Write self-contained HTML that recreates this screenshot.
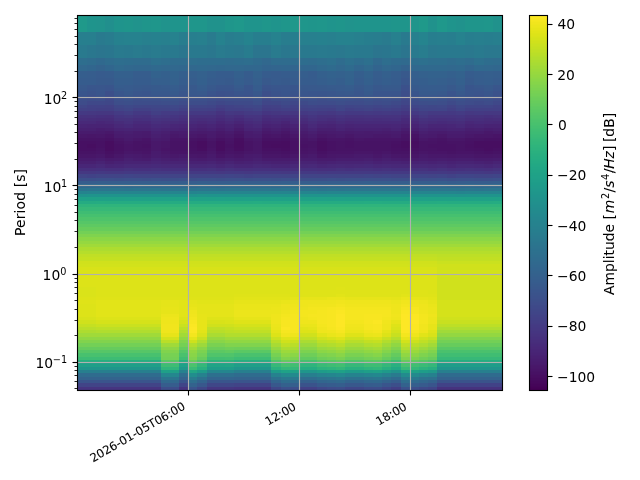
<!DOCTYPE html>
<html lang="en"><head><meta charset="utf-8"><title>PPSD spectrogram</title>
<style>html,body{margin:0;padding:0;background:#fff;overflow:hidden}svg{display:block}text{font-family:"DejaVu Sans","Liberation Sans",sans-serif;fill:#000}</style></head><body>
<svg width="640" height="480" viewBox="0 0 640 480">
<rect width="640" height="480" fill="#fff"/>
<g shape-rendering="crispEdges">
<rect x="77" y="15" width="426" height="376" fill="#cccccc"/>
<g id="mesh">
<rect x="77" y="387" width="84" height="3" fill="#463480"/>
<rect x="161" y="387" width="18" height="3" fill="#3d4d8a"/>
<rect x="179" y="387" width="9" height="3" fill="#463480"/>
<rect x="188" y="387" width="9" height="3" fill="#3a548c"/>
<rect x="197" y="387" width="10" height="3" fill="#3f4788"/>
<rect x="207" y="387" width="27" height="3" fill="#453781"/>
<rect x="234" y="387" width="37" height="3" fill="#463480"/>
<rect x="271" y="387" width="10" height="3" fill="#3f4788"/>
<rect x="281" y="387" width="9" height="3" fill="#3c508b"/>
<rect x="290" y="387" width="9" height="3" fill="#3d4e8a"/>
<rect x="299" y="387" width="18" height="3" fill="#424186"/>
<rect x="317" y="387" width="10" height="3" fill="#3f4889"/>
<rect x="327" y="387" width="9" height="3" fill="#3e4c8a"/>
<rect x="336" y="387" width="9" height="3" fill="#3d4e8a"/>
<rect x="345" y="387" width="19" height="3" fill="#3f4788"/>
<rect x="364" y="387" width="9" height="3" fill="#3e4c8a"/>
<rect x="373" y="387" width="9" height="3" fill="#3d4d8a"/>
<rect x="382" y="387" width="9" height="3" fill="#404688"/>
<rect x="391" y="387" width="10" height="3" fill="#423f85"/>
<rect x="401" y="387" width="9" height="3" fill="#3b518b"/>
<rect x="410" y="387" width="9" height="3" fill="#3d4e8a"/>
<rect x="419" y="387" width="9" height="3" fill="#3e4989"/>
<rect x="428" y="387" width="9" height="3" fill="#404588"/>
<rect x="437" y="387" width="65" height="3" fill="#46327e"/>
<rect x="77" y="383" width="84" height="4" fill="#414487"/>
<rect x="161" y="383" width="18" height="4" fill="#365d8d"/>
<rect x="179" y="383" width="9" height="4" fill="#404588"/>
<rect x="188" y="383" width="9" height="4" fill="#33638d"/>
<rect x="197" y="383" width="10" height="4" fill="#38588c"/>
<rect x="207" y="383" width="27" height="4" fill="#3f4788"/>
<rect x="234" y="383" width="37" height="4" fill="#414487"/>
<rect x="271" y="383" width="10" height="4" fill="#38588c"/>
<rect x="281" y="383" width="9" height="4" fill="#34618d"/>
<rect x="290" y="383" width="9" height="4" fill="#355f8d"/>
<rect x="299" y="383" width="18" height="4" fill="#3a538b"/>
<rect x="317" y="383" width="10" height="4" fill="#375a8c"/>
<rect x="327" y="383" width="9" height="4" fill="#365c8d"/>
<rect x="336" y="383" width="9" height="4" fill="#355e8d"/>
<rect x="345" y="383" width="19" height="4" fill="#38588c"/>
<rect x="364" y="383" width="9" height="4" fill="#365c8d"/>
<rect x="373" y="383" width="9" height="4" fill="#365d8d"/>
<rect x="382" y="383" width="9" height="4" fill="#39558c"/>
<rect x="391" y="383" width="10" height="4" fill="#3c4f8a"/>
<rect x="401" y="383" width="9" height="4" fill="#33628d"/>
<rect x="410" y="383" width="9" height="4" fill="#355f8d"/>
<rect x="419" y="383" width="9" height="4" fill="#375b8d"/>
<rect x="428" y="383" width="9" height="4" fill="#39558c"/>
<rect x="437" y="383" width="65" height="4" fill="#414287"/>
<rect x="77" y="380" width="84" height="3" fill="#3a548c"/>
<rect x="161" y="380" width="18" height="3" fill="#30698e"/>
<rect x="179" y="380" width="9" height="3" fill="#39558c"/>
<rect x="188" y="380" width="9" height="3" fill="#2e6f8e"/>
<rect x="197" y="380" width="10" height="3" fill="#32648e"/>
<rect x="207" y="380" width="27" height="3" fill="#39558c"/>
<rect x="234" y="380" width="37" height="3" fill="#3a548c"/>
<rect x="271" y="380" width="10" height="3" fill="#32648e"/>
<rect x="281" y="380" width="9" height="3" fill="#2e6d8e"/>
<rect x="290" y="380" width="9" height="3" fill="#2f6b8e"/>
<rect x="299" y="380" width="18" height="3" fill="#34608d"/>
<rect x="317" y="380" width="10" height="3" fill="#31668e"/>
<rect x="327" y="380" width="9" height="3" fill="#31688e"/>
<rect x="336" y="380" width="9" height="3" fill="#306a8e"/>
<rect x="345" y="380" width="19" height="3" fill="#32648e"/>
<rect x="364" y="380" width="9" height="3" fill="#31688e"/>
<rect x="373" y="380" width="9" height="3" fill="#30698e"/>
<rect x="382" y="380" width="9" height="3" fill="#33638d"/>
<rect x="391" y="380" width="10" height="3" fill="#365d8d"/>
<rect x="401" y="380" width="9" height="3" fill="#2e6e8e"/>
<rect x="410" y="380" width="9" height="3" fill="#2f6b8e"/>
<rect x="419" y="380" width="9" height="3" fill="#31678e"/>
<rect x="428" y="380" width="9" height="3" fill="#33628d"/>
<rect x="437" y="380" width="65" height="3" fill="#3a538b"/>
<rect x="77" y="377" width="84" height="3" fill="#33638d"/>
<rect x="161" y="377" width="18" height="3" fill="#2a768e"/>
<rect x="179" y="377" width="9" height="3" fill="#33638d"/>
<rect x="188" y="377" width="9" height="3" fill="#287d8e"/>
<rect x="197" y="377" width="10" height="3" fill="#2c728e"/>
<rect x="207" y="377" width="27" height="3" fill="#32658e"/>
<rect x="234" y="377" width="37" height="3" fill="#33638d"/>
<rect x="271" y="377" width="10" height="3" fill="#2c728e"/>
<rect x="281" y="377" width="9" height="3" fill="#29798e"/>
<rect x="290" y="377" width="9" height="3" fill="#29798e"/>
<rect x="299" y="377" width="18" height="3" fill="#2e6e8e"/>
<rect x="317" y="377" width="10" height="3" fill="#2c738e"/>
<rect x="327" y="377" width="9" height="3" fill="#2b758e"/>
<rect x="336" y="377" width="9" height="3" fill="#2a788e"/>
<rect x="345" y="377" width="19" height="3" fill="#2c728e"/>
<rect x="364" y="377" width="9" height="3" fill="#2b758e"/>
<rect x="373" y="377" width="9" height="3" fill="#2a778e"/>
<rect x="382" y="377" width="9" height="3" fill="#2d718e"/>
<rect x="391" y="377" width="10" height="3" fill="#2f6b8e"/>
<rect x="401" y="377" width="9" height="3" fill="#297b8e"/>
<rect x="410" y="377" width="9" height="3" fill="#29798e"/>
<rect x="419" y="377" width="9" height="3" fill="#2c738e"/>
<rect x="428" y="377" width="9" height="3" fill="#2d718e"/>
<rect x="437" y="377" width="65" height="3" fill="#33628d"/>
<rect x="77" y="373" width="84" height="4" fill="#2f6c8e"/>
<rect x="161" y="373" width="18" height="4" fill="#24878e"/>
<rect x="179" y="373" width="9" height="4" fill="#2e6e8e"/>
<rect x="188" y="373" width="9" height="4" fill="#218e8d"/>
<rect x="197" y="373" width="10" height="4" fill="#26828e"/>
<rect x="207" y="373" width="27" height="4" fill="#2d708e"/>
<rect x="234" y="373" width="37" height="4" fill="#2f6c8e"/>
<rect x="271" y="373" width="10" height="4" fill="#26828e"/>
<rect x="281" y="373" width="9" height="4" fill="#238a8d"/>
<rect x="290" y="373" width="9" height="4" fill="#238a8d"/>
<rect x="299" y="373" width="18" height="4" fill="#277f8e"/>
<rect x="317" y="373" width="10" height="4" fill="#25848e"/>
<rect x="327" y="373" width="9" height="4" fill="#24868e"/>
<rect x="336" y="373" width="9" height="4" fill="#23898e"/>
<rect x="345" y="373" width="19" height="4" fill="#25838e"/>
<rect x="364" y="373" width="9" height="4" fill="#24868e"/>
<rect x="373" y="373" width="9" height="4" fill="#23888e"/>
<rect x="382" y="373" width="9" height="4" fill="#26828e"/>
<rect x="391" y="373" width="10" height="4" fill="#297b8e"/>
<rect x="401" y="373" width="9" height="4" fill="#228c8d"/>
<rect x="410" y="373" width="9" height="4" fill="#238a8d"/>
<rect x="419" y="373" width="9" height="4" fill="#25848e"/>
<rect x="428" y="373" width="9" height="4" fill="#26818e"/>
<rect x="437" y="373" width="65" height="4" fill="#2f6b8e"/>
<rect x="77" y="370" width="84" height="3" fill="#277f8e"/>
<rect x="161" y="370" width="18" height="3" fill="#1fa088"/>
<rect x="179" y="370" width="9" height="3" fill="#26828e"/>
<rect x="188" y="370" width="9" height="3" fill="#21a685"/>
<rect x="197" y="370" width="10" height="3" fill="#1e9b8a"/>
<rect x="207" y="370" width="27" height="3" fill="#24868e"/>
<rect x="234" y="370" width="37" height="3" fill="#277f8e"/>
<rect x="271" y="370" width="10" height="3" fill="#1e9b8a"/>
<rect x="281" y="370" width="9" height="3" fill="#1fa287"/>
<rect x="290" y="370" width="9" height="3" fill="#1fa187"/>
<rect x="299" y="370" width="18" height="3" fill="#1f968b"/>
<rect x="317" y="370" width="10" height="3" fill="#1e9c89"/>
<rect x="327" y="370" width="9" height="3" fill="#1f9f88"/>
<rect x="336" y="370" width="9" height="3" fill="#1fa187"/>
<rect x="345" y="370" width="19" height="3" fill="#1e9b8a"/>
<rect x="364" y="370" width="9" height="3" fill="#1f9f88"/>
<rect x="373" y="370" width="9" height="3" fill="#1fa188"/>
<rect x="382" y="370" width="9" height="3" fill="#1f9a8a"/>
<rect x="391" y="370" width="10" height="3" fill="#20928c"/>
<rect x="401" y="370" width="9" height="3" fill="#20a486"/>
<rect x="410" y="370" width="9" height="3" fill="#1fa187"/>
<rect x="419" y="370" width="9" height="3" fill="#1e9d89"/>
<rect x="428" y="370" width="9" height="3" fill="#1f998a"/>
<rect x="437" y="370" width="65" height="3" fill="#277f8e"/>
<rect x="77" y="367" width="84" height="3" fill="#1f958b"/>
<rect x="161" y="367" width="18" height="3" fill="#31b57b"/>
<rect x="179" y="367" width="9" height="3" fill="#1f978b"/>
<rect x="188" y="367" width="9" height="3" fill="#3bbb75"/>
<rect x="197" y="367" width="10" height="3" fill="#2ab07f"/>
<rect x="207" y="367" width="27" height="3" fill="#1e9c89"/>
<rect x="234" y="367" width="37" height="3" fill="#1f958b"/>
<rect x="271" y="367" width="10" height="3" fill="#2ab07f"/>
<rect x="281" y="367" width="9" height="3" fill="#35b779"/>
<rect x="290" y="367" width="9" height="3" fill="#35b779"/>
<rect x="299" y="367" width="18" height="3" fill="#25ac82"/>
<rect x="317" y="367" width="10" height="3" fill="#2db27d"/>
<rect x="327" y="367" width="9" height="3" fill="#2fb47c"/>
<rect x="336" y="367" width="9" height="3" fill="#34b679"/>
<rect x="345" y="367" width="19" height="3" fill="#2ab07f"/>
<rect x="364" y="367" width="9" height="3" fill="#2fb47c"/>
<rect x="373" y="367" width="9" height="3" fill="#32b67a"/>
<rect x="382" y="367" width="9" height="3" fill="#29af7f"/>
<rect x="391" y="367" width="10" height="3" fill="#22a884"/>
<rect x="401" y="367" width="9" height="3" fill="#38b977"/>
<rect x="410" y="367" width="9" height="3" fill="#35b779"/>
<rect x="419" y="367" width="9" height="3" fill="#2db27d"/>
<rect x="428" y="367" width="9" height="3" fill="#28ae80"/>
<rect x="437" y="367" width="65" height="3" fill="#1f948c"/>
<rect x="77" y="363" width="84" height="4" fill="#1f9f88"/>
<rect x="161" y="363" width="18" height="4" fill="#3fbc73"/>
<rect x="179" y="363" width="9" height="4" fill="#1fa188"/>
<rect x="188" y="363" width="9" height="4" fill="#4cc26c"/>
<rect x="197" y="363" width="10" height="4" fill="#35b779"/>
<rect x="207" y="363" width="18" height="4" fill="#20a486"/>
<rect x="225" y="363" width="9" height="4" fill="#21a585"/>
<rect x="234" y="363" width="37" height="4" fill="#1f9f88"/>
<rect x="271" y="363" width="10" height="4" fill="#37b878"/>
<rect x="281" y="363" width="9" height="4" fill="#46c06f"/>
<rect x="290" y="363" width="9" height="4" fill="#42be71"/>
<rect x="299" y="363" width="18" height="4" fill="#2fb47c"/>
<rect x="317" y="363" width="10" height="4" fill="#3aba76"/>
<rect x="327" y="363" width="9" height="4" fill="#3fbc73"/>
<rect x="336" y="363" width="9" height="4" fill="#42be71"/>
<rect x="345" y="363" width="19" height="4" fill="#37b878"/>
<rect x="364" y="363" width="9" height="4" fill="#3fbc73"/>
<rect x="373" y="363" width="9" height="4" fill="#3fbc73"/>
<rect x="382" y="363" width="9" height="4" fill="#35b779"/>
<rect x="391" y="363" width="10" height="4" fill="#2ab07f"/>
<rect x="401" y="363" width="9" height="4" fill="#48c16e"/>
<rect x="410" y="363" width="9" height="4" fill="#42be71"/>
<rect x="419" y="363" width="9" height="4" fill="#3bbb75"/>
<rect x="428" y="363" width="9" height="4" fill="#35b779"/>
<rect x="437" y="363" width="65" height="4" fill="#1e9d89"/>
<rect x="77" y="360" width="84" height="3" fill="#28ae80"/>
<rect x="161" y="360" width="18" height="3" fill="#58c765"/>
<rect x="179" y="360" width="9" height="3" fill="#2ab07f"/>
<rect x="188" y="360" width="9" height="3" fill="#67cc5c"/>
<rect x="197" y="360" width="10" height="3" fill="#4ec36b"/>
<rect x="207" y="360" width="27" height="3" fill="#2eb37c"/>
<rect x="234" y="360" width="37" height="3" fill="#28ae80"/>
<rect x="271" y="360" width="10" height="3" fill="#50c46a"/>
<rect x="281" y="360" width="9" height="3" fill="#63cb5f"/>
<rect x="290" y="360" width="9" height="3" fill="#60ca60"/>
<rect x="299" y="360" width="18" height="3" fill="#46c06f"/>
<rect x="317" y="360" width="10" height="3" fill="#54c568"/>
<rect x="327" y="360" width="9" height="3" fill="#58c765"/>
<rect x="336" y="360" width="9" height="3" fill="#5ec962"/>
<rect x="345" y="360" width="19" height="3" fill="#50c46a"/>
<rect x="364" y="360" width="9" height="3" fill="#58c765"/>
<rect x="373" y="360" width="9" height="3" fill="#5ac864"/>
<rect x="382" y="360" width="9" height="3" fill="#4cc26c"/>
<rect x="391" y="360" width="10" height="3" fill="#3fbc73"/>
<rect x="401" y="360" width="9" height="3" fill="#65cb5e"/>
<rect x="410" y="360" width="9" height="3" fill="#60ca60"/>
<rect x="419" y="360" width="9" height="3" fill="#56c667"/>
<rect x="428" y="360" width="9" height="3" fill="#4cc26c"/>
<rect x="437" y="360" width="65" height="3" fill="#26ad81"/>
<rect x="77" y="357" width="84" height="3" fill="#3dbc74"/>
<rect x="161" y="357" width="18" height="3" fill="#73d056"/>
<rect x="179" y="357" width="9" height="3" fill="#3fbc73"/>
<rect x="188" y="357" width="9" height="3" fill="#81d34d"/>
<rect x="197" y="357" width="10" height="3" fill="#67cc5c"/>
<rect x="207" y="357" width="18" height="3" fill="#42be71"/>
<rect x="225" y="357" width="9" height="3" fill="#44bf70"/>
<rect x="234" y="357" width="37" height="3" fill="#3dbc74"/>
<rect x="271" y="357" width="10" height="3" fill="#69cd5b"/>
<rect x="281" y="357" width="9" height="3" fill="#81d34d"/>
<rect x="290" y="357" width="9" height="3" fill="#7cd250"/>
<rect x="299" y="357" width="18" height="3" fill="#60ca60"/>
<rect x="317" y="357" width="10" height="3" fill="#6ece58"/>
<rect x="327" y="357" width="9" height="3" fill="#73d056"/>
<rect x="336" y="357" width="9" height="3" fill="#7ad151"/>
<rect x="345" y="357" width="19" height="3" fill="#6ccd5a"/>
<rect x="364" y="357" width="9" height="3" fill="#73d056"/>
<rect x="373" y="357" width="9" height="3" fill="#77d153"/>
<rect x="382" y="357" width="9" height="3" fill="#67cc5c"/>
<rect x="391" y="357" width="10" height="3" fill="#58c765"/>
<rect x="401" y="357" width="9" height="3" fill="#81d34d"/>
<rect x="410" y="357" width="9" height="3" fill="#7cd250"/>
<rect x="419" y="357" width="9" height="3" fill="#70cf57"/>
<rect x="428" y="357" width="9" height="3" fill="#67cc5c"/>
<rect x="437" y="357" width="65" height="3" fill="#37b878"/>
<rect x="77" y="353" width="84" height="4" fill="#48c16e"/>
<rect x="161" y="353" width="18" height="4" fill="#77d153"/>
<rect x="179" y="353" width="9" height="4" fill="#4ac16d"/>
<rect x="188" y="353" width="9" height="4" fill="#89d548"/>
<rect x="197" y="353" width="10" height="4" fill="#73d056"/>
<rect x="207" y="353" width="27" height="4" fill="#50c46a"/>
<rect x="234" y="353" width="37" height="4" fill="#4ac16d"/>
<rect x="271" y="353" width="10" height="4" fill="#77d153"/>
<rect x="281" y="353" width="9" height="4" fill="#90d743"/>
<rect x="290" y="353" width="9" height="4" fill="#8bd646"/>
<rect x="299" y="353" width="18" height="4" fill="#6ece58"/>
<rect x="317" y="353" width="10" height="4" fill="#7cd250"/>
<rect x="327" y="353" width="9" height="4" fill="#81d34d"/>
<rect x="336" y="353" width="9" height="4" fill="#89d548"/>
<rect x="345" y="353" width="19" height="4" fill="#7ad151"/>
<rect x="364" y="353" width="9" height="4" fill="#81d34d"/>
<rect x="373" y="353" width="9" height="4" fill="#86d549"/>
<rect x="382" y="353" width="9" height="4" fill="#75d054"/>
<rect x="391" y="353" width="10" height="4" fill="#65cb5e"/>
<rect x="401" y="353" width="9" height="4" fill="#90d743"/>
<rect x="410" y="353" width="9" height="4" fill="#8bd646"/>
<rect x="419" y="353" width="9" height="4" fill="#7fd34e"/>
<rect x="428" y="353" width="9" height="4" fill="#75d054"/>
<rect x="437" y="353" width="65" height="4" fill="#40bd72"/>
<rect x="77" y="350" width="84" height="3" fill="#56c667"/>
<rect x="161" y="350" width="18" height="3" fill="#81d34d"/>
<rect x="179" y="350" width="9" height="3" fill="#56c667"/>
<rect x="188" y="350" width="9" height="3" fill="#90d743"/>
<rect x="197" y="350" width="10" height="3" fill="#7cd250"/>
<rect x="207" y="350" width="18" height="3" fill="#5cc863"/>
<rect x="225" y="350" width="9" height="3" fill="#60ca60"/>
<rect x="234" y="350" width="37" height="3" fill="#5ac864"/>
<rect x="271" y="350" width="10" height="3" fill="#86d549"/>
<rect x="281" y="350" width="9" height="3" fill="#9dd93b"/>
<rect x="290" y="350" width="9" height="3" fill="#9bd93c"/>
<rect x="299" y="350" width="18" height="3" fill="#7cd250"/>
<rect x="317" y="350" width="10" height="3" fill="#8bd646"/>
<rect x="327" y="350" width="9" height="3" fill="#90d743"/>
<rect x="336" y="350" width="9" height="3" fill="#98d83e"/>
<rect x="345" y="350" width="19" height="3" fill="#89d548"/>
<rect x="364" y="350" width="9" height="3" fill="#90d743"/>
<rect x="373" y="350" width="9" height="3" fill="#95d840"/>
<rect x="382" y="350" width="9" height="3" fill="#84d44b"/>
<rect x="391" y="350" width="10" height="3" fill="#73d056"/>
<rect x="401" y="350" width="9" height="3" fill="#a0da39"/>
<rect x="410" y="350" width="9" height="3" fill="#9bd93c"/>
<rect x="419" y="350" width="9" height="3" fill="#8ed645"/>
<rect x="428" y="350" width="9" height="3" fill="#81d34d"/>
<rect x="437" y="350" width="65" height="3" fill="#4ac16d"/>
<rect x="77" y="347" width="84" height="3" fill="#65cb5e"/>
<rect x="161" y="347" width="18" height="3" fill="#8ed645"/>
<rect x="179" y="347" width="9" height="3" fill="#65cb5e"/>
<rect x="188" y="347" width="9" height="3" fill="#a0da39"/>
<rect x="197" y="347" width="10" height="3" fill="#89d548"/>
<rect x="207" y="347" width="18" height="3" fill="#6ccd5a"/>
<rect x="225" y="347" width="9" height="3" fill="#70cf57"/>
<rect x="234" y="347" width="37" height="3" fill="#6ece58"/>
<rect x="271" y="347" width="10" height="3" fill="#95d840"/>
<rect x="281" y="347" width="9" height="3" fill="#addc30"/>
<rect x="290" y="347" width="9" height="3" fill="#aadc32"/>
<rect x="299" y="347" width="18" height="3" fill="#8bd646"/>
<rect x="317" y="347" width="10" height="3" fill="#9bd93c"/>
<rect x="327" y="347" width="9" height="3" fill="#a0da39"/>
<rect x="336" y="347" width="9" height="3" fill="#a8db34"/>
<rect x="345" y="347" width="19" height="3" fill="#98d83e"/>
<rect x="364" y="347" width="9" height="3" fill="#a0da39"/>
<rect x="373" y="347" width="9" height="3" fill="#a5db36"/>
<rect x="382" y="347" width="9" height="3" fill="#93d741"/>
<rect x="391" y="347" width="10" height="3" fill="#81d34d"/>
<rect x="401" y="347" width="9" height="3" fill="#b0dd2f"/>
<rect x="410" y="347" width="9" height="3" fill="#aadc32"/>
<rect x="419" y="347" width="9" height="3" fill="#9dd93b"/>
<rect x="428" y="347" width="9" height="3" fill="#90d743"/>
<rect x="437" y="347" width="65" height="3" fill="#58c765"/>
<rect x="77" y="343" width="84" height="4" fill="#73d056"/>
<rect x="161" y="343" width="18" height="4" fill="#a0da39"/>
<rect x="179" y="343" width="9" height="4" fill="#75d054"/>
<rect x="188" y="343" width="9" height="4" fill="#b2dd2d"/>
<rect x="197" y="343" width="10" height="4" fill="#9dd93b"/>
<rect x="207" y="343" width="18" height="4" fill="#7ad151"/>
<rect x="225" y="343" width="46" height="4" fill="#81d34d"/>
<rect x="271" y="343" width="10" height="4" fill="#a8db34"/>
<rect x="281" y="343" width="9" height="4" fill="#c0df25"/>
<rect x="290" y="343" width="9" height="4" fill="#bade28"/>
<rect x="299" y="343" width="18" height="4" fill="#9bd93c"/>
<rect x="317" y="343" width="10" height="4" fill="#addc30"/>
<rect x="327" y="343" width="9" height="4" fill="#b2dd2d"/>
<rect x="336" y="343" width="9" height="4" fill="#bade28"/>
<rect x="345" y="343" width="19" height="4" fill="#a8db34"/>
<rect x="364" y="343" width="9" height="4" fill="#b2dd2d"/>
<rect x="373" y="343" width="9" height="4" fill="#b5de2b"/>
<rect x="382" y="343" width="9" height="4" fill="#a2da37"/>
<rect x="391" y="343" width="10" height="4" fill="#90d743"/>
<rect x="401" y="343" width="9" height="4" fill="#c0df25"/>
<rect x="410" y="343" width="9" height="4" fill="#bade28"/>
<rect x="419" y="343" width="9" height="4" fill="#b0dd2f"/>
<rect x="428" y="343" width="9" height="4" fill="#a2da37"/>
<rect x="437" y="343" width="65" height="4" fill="#67cc5c"/>
<rect x="77" y="340" width="84" height="3" fill="#81d34d"/>
<rect x="161" y="340" width="18" height="3" fill="#bade28"/>
<rect x="179" y="340" width="9" height="3" fill="#81d34d"/>
<rect x="188" y="340" width="9" height="3" fill="#cde11d"/>
<rect x="197" y="340" width="10" height="3" fill="#b0dd2f"/>
<rect x="207" y="340" width="18" height="3" fill="#89d548"/>
<rect x="225" y="340" width="46" height="3" fill="#90d743"/>
<rect x="271" y="340" width="10" height="3" fill="#b8de29"/>
<rect x="281" y="340" width="9" height="3" fill="#d0e11c"/>
<rect x="290" y="340" width="9" height="3" fill="#cae11f"/>
<rect x="299" y="340" width="18" height="3" fill="#aadc32"/>
<rect x="317" y="340" width="10" height="3" fill="#bddf26"/>
<rect x="327" y="340" width="9" height="3" fill="#c2df23"/>
<rect x="336" y="340" width="9" height="3" fill="#cae11f"/>
<rect x="345" y="340" width="19" height="3" fill="#b8de29"/>
<rect x="364" y="340" width="9" height="3" fill="#c2df23"/>
<rect x="373" y="340" width="9" height="3" fill="#c5e021"/>
<rect x="382" y="340" width="9" height="3" fill="#b2dd2d"/>
<rect x="391" y="340" width="10" height="3" fill="#a0da39"/>
<rect x="401" y="340" width="9" height="3" fill="#d2e21b"/>
<rect x="410" y="340" width="9" height="3" fill="#cde11d"/>
<rect x="419" y="340" width="9" height="3" fill="#c0df25"/>
<rect x="428" y="340" width="9" height="3" fill="#b2dd2d"/>
<rect x="437" y="340" width="65" height="3" fill="#73d056"/>
<rect x="77" y="337" width="84" height="3" fill="#90d743"/>
<rect x="161" y="337" width="18" height="3" fill="#d2e21b"/>
<rect x="179" y="337" width="9" height="3" fill="#90d743"/>
<rect x="188" y="337" width="9" height="3" fill="#e5e419"/>
<rect x="197" y="337" width="10" height="3" fill="#c8e020"/>
<rect x="207" y="337" width="18" height="3" fill="#98d83e"/>
<rect x="225" y="337" width="46" height="3" fill="#a0da39"/>
<rect x="271" y="337" width="10" height="3" fill="#cae11f"/>
<rect x="281" y="337" width="9" height="3" fill="#dfe318"/>
<rect x="290" y="337" width="9" height="3" fill="#dfe318"/>
<rect x="299" y="337" width="18" height="3" fill="#c0df25"/>
<rect x="317" y="337" width="10" height="3" fill="#d0e11c"/>
<rect x="327" y="337" width="9" height="3" fill="#d8e219"/>
<rect x="336" y="337" width="9" height="3" fill="#dfe318"/>
<rect x="345" y="337" width="19" height="3" fill="#cde11d"/>
<rect x="364" y="337" width="9" height="3" fill="#d8e219"/>
<rect x="373" y="337" width="9" height="3" fill="#dae319"/>
<rect x="382" y="337" width="9" height="3" fill="#c8e020"/>
<rect x="391" y="337" width="10" height="3" fill="#b5de2b"/>
<rect x="401" y="337" width="9" height="3" fill="#e7e419"/>
<rect x="410" y="337" width="9" height="3" fill="#dfe318"/>
<rect x="419" y="337" width="9" height="3" fill="#d0e11c"/>
<rect x="428" y="337" width="9" height="3" fill="#c5e021"/>
<rect x="437" y="337" width="65" height="3" fill="#81d34d"/>
<rect x="77" y="333" width="19" height="4" fill="#a0da39"/>
<rect x="96" y="333" width="65" height="4" fill="#a0da39"/>
<rect x="161" y="333" width="18" height="4" fill="#e7e419"/>
<rect x="179" y="333" width="9" height="4" fill="#a2da37"/>
<rect x="188" y="333" width="9" height="4" fill="#f4e61e"/>
<rect x="197" y="333" width="10" height="4" fill="#dae319"/>
<rect x="207" y="333" width="18" height="4" fill="#aadc32"/>
<rect x="225" y="333" width="46" height="4" fill="#b2dd2d"/>
<rect x="271" y="333" width="10" height="4" fill="#dde318"/>
<rect x="281" y="333" width="9" height="4" fill="#f1e51d"/>
<rect x="290" y="333" width="9" height="4" fill="#efe51c"/>
<rect x="299" y="333" width="18" height="4" fill="#d0e11c"/>
<rect x="317" y="333" width="10" height="4" fill="#e2e418"/>
<rect x="327" y="333" width="9" height="4" fill="#eae51a"/>
<rect x="336" y="333" width="9" height="4" fill="#efe51c"/>
<rect x="345" y="333" width="19" height="4" fill="#dfe318"/>
<rect x="364" y="333" width="9" height="4" fill="#eae51a"/>
<rect x="373" y="333" width="9" height="4" fill="#ece51b"/>
<rect x="382" y="333" width="9" height="4" fill="#dde318"/>
<rect x="391" y="333" width="10" height="4" fill="#c8e020"/>
<rect x="401" y="333" width="9" height="4" fill="#f4e61e"/>
<rect x="410" y="333" width="9" height="4" fill="#efe51c"/>
<rect x="419" y="333" width="9" height="4" fill="#e2e418"/>
<rect x="428" y="333" width="9" height="4" fill="#d8e219"/>
<rect x="437" y="333" width="65" height="4" fill="#93d741"/>
<rect x="77" y="330" width="19" height="3" fill="#addc30"/>
<rect x="96" y="330" width="65" height="3" fill="#b0dd2f"/>
<rect x="161" y="330" width="18" height="3" fill="#efe51c"/>
<rect x="179" y="330" width="9" height="3" fill="#b0dd2f"/>
<rect x="188" y="330" width="9" height="3" fill="#fbe723"/>
<rect x="197" y="330" width="10" height="3" fill="#e2e418"/>
<rect x="207" y="330" width="18" height="3" fill="#b8de29"/>
<rect x="225" y="330" width="9" height="3" fill="#bddf26"/>
<rect x="234" y="330" width="37" height="3" fill="#c0df25"/>
<rect x="271" y="330" width="10" height="3" fill="#e5e419"/>
<rect x="281" y="330" width="18" height="3" fill="#f6e620"/>
<rect x="299" y="330" width="18" height="3" fill="#dde318"/>
<rect x="317" y="330" width="10" height="3" fill="#efe51c"/>
<rect x="327" y="330" width="9" height="3" fill="#f1e51d"/>
<rect x="336" y="330" width="9" height="3" fill="#f6e620"/>
<rect x="345" y="330" width="19" height="3" fill="#eae51a"/>
<rect x="364" y="330" width="9" height="3" fill="#f1e51d"/>
<rect x="373" y="330" width="9" height="3" fill="#f4e61e"/>
<rect x="382" y="330" width="9" height="3" fill="#e5e419"/>
<rect x="391" y="330" width="10" height="3" fill="#d2e21b"/>
<rect x="401" y="330" width="9" height="3" fill="#fbe723"/>
<rect x="410" y="330" width="9" height="3" fill="#f6e620"/>
<rect x="419" y="330" width="9" height="3" fill="#efe51c"/>
<rect x="428" y="330" width="9" height="3" fill="#dfe318"/>
<rect x="437" y="330" width="65" height="3" fill="#a0da39"/>
<rect x="77" y="327" width="19" height="3" fill="#bade28"/>
<rect x="96" y="327" width="65" height="3" fill="#bddf26"/>
<rect x="161" y="327" width="18" height="3" fill="#f1e51d"/>
<rect x="179" y="327" width="9" height="3" fill="#bddf26"/>
<rect x="188" y="327" width="9" height="3" fill="#fde725"/>
<rect x="197" y="327" width="10" height="3" fill="#e7e419"/>
<rect x="207" y="327" width="18" height="3" fill="#c0df25"/>
<rect x="225" y="327" width="9" height="3" fill="#c5e021"/>
<rect x="234" y="327" width="37" height="3" fill="#cae11f"/>
<rect x="271" y="327" width="10" height="3" fill="#eae51a"/>
<rect x="281" y="327" width="9" height="3" fill="#fbe723"/>
<rect x="290" y="327" width="9" height="3" fill="#f8e621"/>
<rect x="299" y="327" width="9" height="3" fill="#e2e418"/>
<rect x="308" y="327" width="9" height="3" fill="#e5e419"/>
<rect x="317" y="327" width="10" height="3" fill="#f1e51d"/>
<rect x="327" y="327" width="9" height="3" fill="#f6e620"/>
<rect x="336" y="327" width="9" height="3" fill="#fbe723"/>
<rect x="345" y="327" width="19" height="3" fill="#efe51c"/>
<rect x="364" y="327" width="9" height="3" fill="#f6e620"/>
<rect x="373" y="327" width="9" height="3" fill="#f8e621"/>
<rect x="382" y="327" width="9" height="3" fill="#efe51c"/>
<rect x="391" y="327" width="10" height="3" fill="#dae319"/>
<rect x="401" y="327" width="9" height="3" fill="#fde725"/>
<rect x="410" y="327" width="9" height="3" fill="#fbe723"/>
<rect x="419" y="327" width="9" height="3" fill="#f1e51d"/>
<rect x="428" y="327" width="9" height="3" fill="#e7e419"/>
<rect x="437" y="327" width="65" height="3" fill="#b0dd2f"/>
<rect x="77" y="324" width="19" height="3" fill="#c5e021"/>
<rect x="96" y="324" width="65" height="3" fill="#cae11f"/>
<rect x="161" y="324" width="18" height="3" fill="#f1e51d"/>
<rect x="179" y="324" width="9" height="3" fill="#cae11f"/>
<rect x="188" y="324" width="9" height="3" fill="#fbe723"/>
<rect x="197" y="324" width="10" height="3" fill="#e7e419"/>
<rect x="207" y="324" width="18" height="3" fill="#d0e11c"/>
<rect x="225" y="324" width="9" height="3" fill="#d0e11c"/>
<rect x="234" y="324" width="37" height="3" fill="#d5e21a"/>
<rect x="271" y="324" width="10" height="3" fill="#ece51b"/>
<rect x="281" y="324" width="18" height="3" fill="#f8e621"/>
<rect x="299" y="324" width="18" height="3" fill="#eae51a"/>
<rect x="317" y="324" width="10" height="3" fill="#f4e61e"/>
<rect x="327" y="324" width="9" height="3" fill="#f8e621"/>
<rect x="336" y="324" width="9" height="3" fill="#fde725"/>
<rect x="345" y="324" width="19" height="3" fill="#f1e51d"/>
<rect x="364" y="324" width="9" height="3" fill="#f6e620"/>
<rect x="373" y="324" width="9" height="3" fill="#f8e621"/>
<rect x="382" y="324" width="9" height="3" fill="#efe51c"/>
<rect x="391" y="324" width="10" height="3" fill="#dfe318"/>
<rect x="401" y="324" width="9" height="3" fill="#fde725"/>
<rect x="410" y="324" width="9" height="3" fill="#fbe723"/>
<rect x="419" y="324" width="9" height="3" fill="#f1e51d"/>
<rect x="428" y="324" width="9" height="3" fill="#e7e419"/>
<rect x="437" y="324" width="65" height="3" fill="#bddf26"/>
<rect x="77" y="320" width="19" height="4" fill="#d0e11c"/>
<rect x="96" y="320" width="65" height="4" fill="#d5e21a"/>
<rect x="161" y="320" width="18" height="4" fill="#efe51c"/>
<rect x="179" y="320" width="9" height="4" fill="#d5e21a"/>
<rect x="188" y="320" width="9" height="4" fill="#f8e621"/>
<rect x="197" y="320" width="10" height="4" fill="#e7e419"/>
<rect x="207" y="320" width="18" height="4" fill="#d8e219"/>
<rect x="225" y="320" width="9" height="4" fill="#dae319"/>
<rect x="234" y="320" width="37" height="4" fill="#dfe318"/>
<rect x="271" y="320" width="10" height="4" fill="#efe51c"/>
<rect x="281" y="320" width="18" height="4" fill="#f8e621"/>
<rect x="299" y="320" width="18" height="4" fill="#efe51c"/>
<rect x="317" y="320" width="10" height="4" fill="#f6e620"/>
<rect x="327" y="320" width="9" height="4" fill="#f8e621"/>
<rect x="336" y="320" width="9" height="4" fill="#fde725"/>
<rect x="345" y="320" width="19" height="4" fill="#f4e61e"/>
<rect x="364" y="320" width="9" height="4" fill="#f8e621"/>
<rect x="373" y="320" width="9" height="4" fill="#fbe723"/>
<rect x="382" y="320" width="9" height="4" fill="#f1e51d"/>
<rect x="391" y="320" width="10" height="4" fill="#e7e419"/>
<rect x="401" y="320" width="9" height="4" fill="#fde725"/>
<rect x="410" y="320" width="9" height="4" fill="#fde725"/>
<rect x="419" y="320" width="9" height="4" fill="#f4e61e"/>
<rect x="428" y="320" width="9" height="4" fill="#ece51b"/>
<rect x="437" y="320" width="65" height="4" fill="#c8e020"/>
<rect x="77" y="317" width="19" height="3" fill="#d8e219"/>
<rect x="96" y="317" width="65" height="3" fill="#dde318"/>
<rect x="161" y="317" width="18" height="3" fill="#efe51c"/>
<rect x="179" y="317" width="9" height="3" fill="#dde318"/>
<rect x="188" y="317" width="9" height="3" fill="#f4e61e"/>
<rect x="197" y="317" width="10" height="3" fill="#e7e419"/>
<rect x="207" y="317" width="27" height="3" fill="#dfe318"/>
<rect x="234" y="317" width="37" height="3" fill="#e7e419"/>
<rect x="271" y="317" width="10" height="3" fill="#efe51c"/>
<rect x="281" y="317" width="18" height="3" fill="#f6e620"/>
<rect x="299" y="317" width="9" height="3" fill="#f1e51d"/>
<rect x="308" y="317" width="9" height="3" fill="#f4e61e"/>
<rect x="317" y="317" width="10" height="3" fill="#f6e620"/>
<rect x="327" y="317" width="9" height="3" fill="#f8e621"/>
<rect x="336" y="317" width="9" height="3" fill="#fde725"/>
<rect x="345" y="317" width="19" height="3" fill="#f6e620"/>
<rect x="364" y="317" width="18" height="3" fill="#f8e621"/>
<rect x="382" y="317" width="9" height="3" fill="#f4e61e"/>
<rect x="391" y="317" width="10" height="3" fill="#efe51c"/>
<rect x="401" y="317" width="9" height="3" fill="#fde725"/>
<rect x="410" y="317" width="9" height="3" fill="#fbe723"/>
<rect x="419" y="317" width="9" height="3" fill="#f4e61e"/>
<rect x="428" y="317" width="9" height="3" fill="#ece51b"/>
<rect x="437" y="317" width="65" height="3" fill="#d0e11c"/>
<rect x="77" y="314" width="19" height="3" fill="#dde318"/>
<rect x="96" y="314" width="65" height="3" fill="#e2e418"/>
<rect x="161" y="314" width="18" height="3" fill="#ece51b"/>
<rect x="179" y="314" width="9" height="3" fill="#e2e418"/>
<rect x="188" y="314" width="9" height="3" fill="#f1e51d"/>
<rect x="197" y="314" width="10" height="3" fill="#e7e419"/>
<rect x="207" y="314" width="27" height="3" fill="#e5e419"/>
<rect x="234" y="314" width="37" height="3" fill="#ece51b"/>
<rect x="271" y="314" width="10" height="3" fill="#efe51c"/>
<rect x="281" y="314" width="9" height="3" fill="#f4e61e"/>
<rect x="290" y="314" width="9" height="3" fill="#f6e620"/>
<rect x="299" y="314" width="9" height="3" fill="#f4e61e"/>
<rect x="308" y="314" width="19" height="3" fill="#f6e620"/>
<rect x="327" y="314" width="9" height="3" fill="#f8e621"/>
<rect x="336" y="314" width="9" height="3" fill="#fde725"/>
<rect x="345" y="314" width="19" height="3" fill="#f6e620"/>
<rect x="364" y="314" width="18" height="3" fill="#f8e621"/>
<rect x="382" y="314" width="9" height="3" fill="#f6e620"/>
<rect x="391" y="314" width="10" height="3" fill="#f1e51d"/>
<rect x="401" y="314" width="9" height="3" fill="#fde725"/>
<rect x="410" y="314" width="9" height="3" fill="#fbe723"/>
<rect x="419" y="314" width="9" height="3" fill="#f4e61e"/>
<rect x="428" y="314" width="9" height="3" fill="#efe51c"/>
<rect x="437" y="314" width="65" height="3" fill="#d5e21a"/>
<rect x="77" y="310" width="19" height="4" fill="#dde318"/>
<rect x="96" y="310" width="65" height="4" fill="#e2e418"/>
<rect x="161" y="310" width="18" height="4" fill="#e7e419"/>
<rect x="179" y="310" width="9" height="4" fill="#e2e418"/>
<rect x="188" y="310" width="9" height="4" fill="#efe51c"/>
<rect x="197" y="310" width="37" height="4" fill="#e5e419"/>
<rect x="234" y="310" width="47" height="4" fill="#ece51b"/>
<rect x="281" y="310" width="9" height="4" fill="#f1e51d"/>
<rect x="290" y="310" width="27" height="4" fill="#f4e61e"/>
<rect x="317" y="310" width="10" height="4" fill="#f6e620"/>
<rect x="327" y="310" width="9" height="4" fill="#f8e621"/>
<rect x="336" y="310" width="9" height="4" fill="#fbe723"/>
<rect x="345" y="310" width="46" height="4" fill="#f6e620"/>
<rect x="391" y="310" width="10" height="4" fill="#efe51c"/>
<rect x="401" y="310" width="9" height="4" fill="#fbe723"/>
<rect x="410" y="310" width="9" height="4" fill="#f6e620"/>
<rect x="419" y="310" width="9" height="4" fill="#f1e51d"/>
<rect x="428" y="310" width="9" height="4" fill="#ece51b"/>
<rect x="437" y="310" width="65" height="4" fill="#d5e21a"/>
<rect x="77" y="307" width="19" height="3" fill="#dde318"/>
<rect x="96" y="307" width="65" height="3" fill="#e2e418"/>
<rect x="161" y="307" width="18" height="3" fill="#e7e419"/>
<rect x="179" y="307" width="9" height="3" fill="#e2e418"/>
<rect x="188" y="307" width="9" height="3" fill="#eae51a"/>
<rect x="197" y="307" width="37" height="3" fill="#e5e419"/>
<rect x="234" y="307" width="37" height="3" fill="#eae51a"/>
<rect x="271" y="307" width="10" height="3" fill="#ece51b"/>
<rect x="281" y="307" width="9" height="3" fill="#efe51c"/>
<rect x="290" y="307" width="18" height="3" fill="#f1e51d"/>
<rect x="308" y="307" width="19" height="3" fill="#f4e61e"/>
<rect x="327" y="307" width="9" height="3" fill="#f6e620"/>
<rect x="336" y="307" width="9" height="3" fill="#f8e621"/>
<rect x="345" y="307" width="46" height="3" fill="#f4e61e"/>
<rect x="391" y="307" width="10" height="3" fill="#efe51c"/>
<rect x="401" y="307" width="9" height="3" fill="#f8e621"/>
<rect x="410" y="307" width="9" height="3" fill="#f6e620"/>
<rect x="419" y="307" width="9" height="3" fill="#efe51c"/>
<rect x="428" y="307" width="9" height="3" fill="#ece51b"/>
<rect x="437" y="307" width="65" height="3" fill="#d5e21a"/>
<rect x="77" y="304" width="19" height="3" fill="#dde318"/>
<rect x="96" y="304" width="65" height="3" fill="#e2e418"/>
<rect x="161" y="304" width="18" height="3" fill="#e5e419"/>
<rect x="179" y="304" width="9" height="3" fill="#e2e418"/>
<rect x="188" y="304" width="9" height="3" fill="#e7e419"/>
<rect x="197" y="304" width="37" height="3" fill="#e5e419"/>
<rect x="234" y="304" width="47" height="3" fill="#eae51a"/>
<rect x="281" y="304" width="9" height="3" fill="#efe51c"/>
<rect x="290" y="304" width="18" height="3" fill="#efe51c"/>
<rect x="308" y="304" width="28" height="3" fill="#f1e51d"/>
<rect x="336" y="304" width="9" height="3" fill="#f4e61e"/>
<rect x="345" y="304" width="46" height="3" fill="#f1e51d"/>
<rect x="391" y="304" width="10" height="3" fill="#efe51c"/>
<rect x="401" y="304" width="9" height="3" fill="#f4e61e"/>
<rect x="410" y="304" width="9" height="3" fill="#f1e51d"/>
<rect x="419" y="304" width="9" height="3" fill="#efe51c"/>
<rect x="428" y="304" width="9" height="3" fill="#eae51a"/>
<rect x="437" y="304" width="65" height="3" fill="#d5e21a"/>
<rect x="77" y="300" width="19" height="4" fill="#dfe318"/>
<rect x="96" y="300" width="65" height="4" fill="#e2e418"/>
<rect x="161" y="300" width="18" height="4" fill="#e5e419"/>
<rect x="179" y="300" width="9" height="4" fill="#e2e418"/>
<rect x="188" y="300" width="9" height="4" fill="#e5e419"/>
<rect x="197" y="300" width="37" height="4" fill="#e2e418"/>
<rect x="234" y="300" width="47" height="4" fill="#e7e419"/>
<rect x="281" y="300" width="9" height="4" fill="#eae51a"/>
<rect x="290" y="300" width="9" height="4" fill="#ece51b"/>
<rect x="299" y="300" width="28" height="4" fill="#efe51c"/>
<rect x="327" y="300" width="9" height="4" fill="#efe51c"/>
<rect x="336" y="300" width="9" height="4" fill="#f1e51d"/>
<rect x="345" y="300" width="19" height="4" fill="#efe51c"/>
<rect x="364" y="300" width="18" height="4" fill="#efe51c"/>
<rect x="382" y="300" width="9" height="4" fill="#efe51c"/>
<rect x="391" y="300" width="10" height="4" fill="#ece51b"/>
<rect x="401" y="300" width="9" height="4" fill="#f1e51d"/>
<rect x="410" y="300" width="9" height="4" fill="#efe51c"/>
<rect x="419" y="300" width="9" height="4" fill="#ece51b"/>
<rect x="428" y="300" width="9" height="4" fill="#e7e419"/>
<rect x="437" y="300" width="65" height="4" fill="#d5e21a"/>
<rect x="77" y="297" width="19" height="3" fill="#dde318"/>
<rect x="96" y="297" width="65" height="3" fill="#dfe318"/>
<rect x="161" y="297" width="18" height="3" fill="#dfe318"/>
<rect x="179" y="297" width="9" height="3" fill="#dfe318"/>
<rect x="188" y="297" width="46" height="3" fill="#dfe318"/>
<rect x="234" y="297" width="56" height="3" fill="#e2e418"/>
<rect x="290" y="297" width="9" height="3" fill="#e5e419"/>
<rect x="299" y="297" width="28" height="3" fill="#e7e419"/>
<rect x="327" y="297" width="18" height="3" fill="#eae51a"/>
<rect x="345" y="297" width="46" height="3" fill="#e7e419"/>
<rect x="391" y="297" width="10" height="3" fill="#e5e419"/>
<rect x="401" y="297" width="9" height="3" fill="#eae51a"/>
<rect x="410" y="297" width="9" height="3" fill="#e7e419"/>
<rect x="419" y="297" width="9" height="3" fill="#e5e419"/>
<rect x="428" y="297" width="9" height="3" fill="#e2e418"/>
<rect x="437" y="297" width="65" height="3" fill="#d0e11c"/>
<rect x="77" y="294" width="19" height="3" fill="#dae319"/>
<rect x="96" y="294" width="138" height="3" fill="#dde318"/>
<rect x="234" y="294" width="56" height="3" fill="#dfe318"/>
<rect x="290" y="294" width="46" height="3" fill="#dfe318"/>
<rect x="336" y="294" width="9" height="3" fill="#e2e418"/>
<rect x="345" y="294" width="46" height="3" fill="#dfe318"/>
<rect x="391" y="294" width="10" height="3" fill="#dfe318"/>
<rect x="401" y="294" width="9" height="3" fill="#e2e418"/>
<rect x="410" y="294" width="9" height="3" fill="#dfe318"/>
<rect x="419" y="294" width="18" height="3" fill="#dfe318"/>
<rect x="437" y="294" width="65" height="3" fill="#d0e11c"/>
<rect x="77" y="290" width="19" height="4" fill="#dae319"/>
<rect x="96" y="290" width="194" height="4" fill="#dde318"/>
<rect x="290" y="290" width="138" height="4" fill="#dfe318"/>
<rect x="428" y="290" width="9" height="4" fill="#dde318"/>
<rect x="437" y="290" width="65" height="4" fill="#d0e11c"/>
<rect x="77" y="287" width="19" height="3" fill="#dae319"/>
<rect x="96" y="287" width="240" height="3" fill="#dde318"/>
<rect x="336" y="287" width="9" height="3" fill="#dfe318"/>
<rect x="345" y="287" width="92" height="3" fill="#dde318"/>
<rect x="437" y="287" width="65" height="3" fill="#d0e11c"/>
<rect x="77" y="284" width="360" height="3" fill="#dde318"/>
<rect x="437" y="284" width="65" height="3" fill="#d0e11c"/>
<rect x="77" y="280" width="360" height="4" fill="#dde318"/>
<rect x="437" y="280" width="65" height="4" fill="#d0e11c"/>
<rect x="77" y="277" width="360" height="3" fill="#dde318"/>
<rect x="437" y="277" width="65" height="3" fill="#d0e11c"/>
<rect x="77" y="274" width="360" height="3" fill="#dde318"/>
<rect x="437" y="274" width="65" height="3" fill="#d2e21b"/>
<rect x="77" y="270" width="360" height="4" fill="#dae319"/>
<rect x="437" y="270" width="65" height="4" fill="#d2e21b"/>
<rect x="77" y="267" width="360" height="3" fill="#d8e219"/>
<rect x="437" y="267" width="65" height="3" fill="#d0e11c"/>
<rect x="77" y="264" width="360" height="3" fill="#d2e21b"/>
<rect x="437" y="264" width="65" height="3" fill="#d0e11c"/>
<rect x="77" y="261" width="360" height="3" fill="#d0e11c"/>
<rect x="437" y="261" width="65" height="3" fill="#cae11f"/>
<rect x="77" y="257" width="360" height="4" fill="#c5e021"/>
<rect x="437" y="257" width="65" height="4" fill="#c2df23"/>
<rect x="77" y="254" width="360" height="3" fill="#c0df25"/>
<rect x="437" y="254" width="65" height="3" fill="#bddf26"/>
<rect x="77" y="251" width="425" height="3" fill="#b5de2b"/>
<rect x="77" y="247" width="425" height="4" fill="#addc30"/>
<rect x="77" y="244" width="425" height="3" fill="#a0da39"/>
<rect x="77" y="241" width="425" height="3" fill="#95d840"/>
<rect x="77" y="237" width="425" height="4" fill="#8bd646"/>
<rect x="77" y="234" width="425" height="3" fill="#7fd34e"/>
<rect x="77" y="231" width="425" height="3" fill="#73d056"/>
<rect x="77" y="227" width="425" height="4" fill="#67cc5c"/>
<rect x="77" y="224" width="425" height="3" fill="#5ec962"/>
<rect x="77" y="221" width="425" height="3" fill="#56c667"/>
<rect x="77" y="217" width="425" height="4" fill="#4ec36b"/>
<rect x="77" y="214" width="425" height="3" fill="#46c06f"/>
<rect x="77" y="211" width="425" height="3" fill="#3fbc73"/>
<rect x="77" y="207" width="425" height="4" fill="#37b878"/>
<rect x="77" y="204" width="425" height="3" fill="#2fb47c"/>
<rect x="77" y="201" width="19" height="3" fill="#25ab82"/>
<rect x="96" y="201" width="9" height="3" fill="#25ac82"/>
<rect x="105" y="201" width="148" height="3" fill="#25ab82"/>
<rect x="253" y="201" width="9" height="3" fill="#25ac82"/>
<rect x="262" y="201" width="102" height="3" fill="#25ab82"/>
<rect x="364" y="201" width="18" height="3" fill="#25ac82"/>
<rect x="382" y="201" width="55" height="3" fill="#25ab82"/>
<rect x="437" y="201" width="10" height="3" fill="#25ac82"/>
<rect x="447" y="201" width="46" height="3" fill="#25ab82"/>
<rect x="493" y="201" width="9" height="3" fill="#25ac82"/>
<rect x="77" y="197" width="10" height="4" fill="#1fa188"/>
<rect x="87" y="197" width="37" height="4" fill="#1fa187"/>
<rect x="124" y="197" width="18" height="4" fill="#1fa188"/>
<rect x="142" y="197" width="9" height="4" fill="#1fa187"/>
<rect x="151" y="197" width="19" height="4" fill="#1fa188"/>
<rect x="170" y="197" width="9" height="4" fill="#1fa187"/>
<rect x="179" y="197" width="18" height="4" fill="#1fa188"/>
<rect x="197" y="197" width="19" height="4" fill="#1fa187"/>
<rect x="216" y="197" width="9" height="4" fill="#1fa188"/>
<rect x="225" y="197" width="19" height="4" fill="#1fa187"/>
<rect x="244" y="197" width="9" height="4" fill="#1fa188"/>
<rect x="253" y="197" width="18" height="4" fill="#1fa187"/>
<rect x="271" y="197" width="10" height="4" fill="#1fa188"/>
<rect x="281" y="197" width="9" height="4" fill="#1fa187"/>
<rect x="290" y="197" width="9" height="4" fill="#1fa188"/>
<rect x="299" y="197" width="18" height="4" fill="#1fa187"/>
<rect x="317" y="197" width="10" height="4" fill="#1fa188"/>
<rect x="327" y="197" width="9" height="4" fill="#1fa187"/>
<rect x="336" y="197" width="9" height="4" fill="#1fa188"/>
<rect x="345" y="197" width="65" height="4" fill="#1fa187"/>
<rect x="410" y="197" width="18" height="4" fill="#1fa188"/>
<rect x="428" y="197" width="28" height="4" fill="#1fa187"/>
<rect x="456" y="197" width="9" height="4" fill="#1fa188"/>
<rect x="465" y="197" width="37" height="4" fill="#1fa187"/>
<rect x="77" y="194" width="10" height="3" fill="#20938c"/>
<rect x="87" y="194" width="101" height="3" fill="#1f948c"/>
<rect x="188" y="194" width="9" height="3" fill="#20938c"/>
<rect x="197" y="194" width="10" height="3" fill="#1f958b"/>
<rect x="207" y="194" width="249" height="3" fill="#1f948c"/>
<rect x="456" y="194" width="9" height="3" fill="#20938c"/>
<rect x="465" y="194" width="37" height="3" fill="#1f948c"/>
<rect x="77" y="191" width="10" height="3" fill="#25838e"/>
<rect x="87" y="191" width="101" height="3" fill="#25848e"/>
<rect x="188" y="191" width="9" height="3" fill="#25838e"/>
<rect x="197" y="191" width="37" height="3" fill="#25848e"/>
<rect x="234" y="191" width="10" height="3" fill="#25848e"/>
<rect x="244" y="191" width="46" height="3" fill="#25848e"/>
<rect x="290" y="191" width="9" height="3" fill="#25838e"/>
<rect x="299" y="191" width="18" height="3" fill="#25848e"/>
<rect x="317" y="191" width="10" height="3" fill="#25838e"/>
<rect x="327" y="191" width="129" height="3" fill="#25848e"/>
<rect x="456" y="191" width="9" height="3" fill="#25838e"/>
<rect x="465" y="191" width="28" height="3" fill="#25848e"/>
<rect x="493" y="191" width="9" height="3" fill="#25848e"/>
<rect x="77" y="188" width="10" height="3" fill="#2b748e"/>
<rect x="87" y="188" width="37" height="3" fill="#2b758e"/>
<rect x="124" y="188" width="9" height="3" fill="#2b748e"/>
<rect x="133" y="188" width="28" height="3" fill="#2b758e"/>
<rect x="161" y="188" width="36" height="3" fill="#2b748e"/>
<rect x="197" y="188" width="19" height="3" fill="#2b758e"/>
<rect x="216" y="188" width="9" height="3" fill="#2b748e"/>
<rect x="225" y="188" width="46" height="3" fill="#2b758e"/>
<rect x="271" y="188" width="10" height="3" fill="#2b748e"/>
<rect x="281" y="188" width="9" height="3" fill="#2b758e"/>
<rect x="290" y="188" width="9" height="3" fill="#2b748e"/>
<rect x="299" y="188" width="18" height="3" fill="#2b758e"/>
<rect x="317" y="188" width="10" height="3" fill="#2b748e"/>
<rect x="327" y="188" width="9" height="3" fill="#2b758e"/>
<rect x="336" y="188" width="9" height="3" fill="#2b748e"/>
<rect x="345" y="188" width="65" height="3" fill="#2b758e"/>
<rect x="410" y="188" width="9" height="3" fill="#2b748e"/>
<rect x="419" y="188" width="37" height="3" fill="#2b758e"/>
<rect x="456" y="188" width="9" height="3" fill="#2b748e"/>
<rect x="465" y="188" width="9" height="3" fill="#2b758e"/>
<rect x="474" y="188" width="10" height="3" fill="#2b748e"/>
<rect x="484" y="188" width="18" height="3" fill="#2b758e"/>
<rect x="77" y="184" width="19" height="4" fill="#30698e"/>
<rect x="96" y="184" width="28" height="4" fill="#306a8e"/>
<rect x="124" y="184" width="9" height="4" fill="#30698e"/>
<rect x="133" y="184" width="9" height="4" fill="#306a8e"/>
<rect x="142" y="184" width="19" height="4" fill="#30698e"/>
<rect x="161" y="184" width="9" height="4" fill="#306a8e"/>
<rect x="170" y="184" width="27" height="4" fill="#30698e"/>
<rect x="197" y="184" width="10" height="4" fill="#2f6b8e"/>
<rect x="207" y="184" width="9" height="4" fill="#306a8e"/>
<rect x="216" y="184" width="9" height="4" fill="#30698e"/>
<rect x="225" y="184" width="46" height="4" fill="#306a8e"/>
<rect x="271" y="184" width="10" height="4" fill="#30698e"/>
<rect x="281" y="184" width="9" height="4" fill="#306a8e"/>
<rect x="290" y="184" width="9" height="4" fill="#30698e"/>
<rect x="299" y="184" width="18" height="4" fill="#306a8e"/>
<rect x="317" y="184" width="10" height="4" fill="#30698e"/>
<rect x="327" y="184" width="64" height="4" fill="#306a8e"/>
<rect x="391" y="184" width="10" height="4" fill="#30698e"/>
<rect x="401" y="184" width="9" height="4" fill="#306a8e"/>
<rect x="410" y="184" width="9" height="4" fill="#30698e"/>
<rect x="419" y="184" width="28" height="4" fill="#306a8e"/>
<rect x="447" y="184" width="18" height="4" fill="#30698e"/>
<rect x="465" y="184" width="9" height="4" fill="#306a8e"/>
<rect x="474" y="184" width="10" height="4" fill="#30698e"/>
<rect x="484" y="184" width="18" height="4" fill="#306a8e"/>
<rect x="77" y="181" width="19" height="3" fill="#365d8d"/>
<rect x="96" y="181" width="9" height="3" fill="#355e8d"/>
<rect x="105" y="181" width="65" height="3" fill="#365d8d"/>
<rect x="170" y="181" width="9" height="3" fill="#365c8d"/>
<rect x="179" y="181" width="18" height="3" fill="#365d8d"/>
<rect x="197" y="181" width="10" height="3" fill="#355e8d"/>
<rect x="207" y="181" width="27" height="3" fill="#365d8d"/>
<rect x="234" y="181" width="10" height="3" fill="#355e8d"/>
<rect x="244" y="181" width="37" height="3" fill="#365d8d"/>
<rect x="281" y="181" width="9" height="3" fill="#355e8d"/>
<rect x="290" y="181" width="74" height="3" fill="#365d8d"/>
<rect x="364" y="181" width="9" height="3" fill="#355e8d"/>
<rect x="373" y="181" width="64" height="3" fill="#365d8d"/>
<rect x="437" y="181" width="10" height="3" fill="#355e8d"/>
<rect x="447" y="181" width="9" height="3" fill="#365c8d"/>
<rect x="456" y="181" width="9" height="3" fill="#365d8d"/>
<rect x="465" y="181" width="9" height="3" fill="#355e8d"/>
<rect x="474" y="181" width="19" height="3" fill="#365d8d"/>
<rect x="493" y="181" width="9" height="3" fill="#355e8d"/>
<rect x="77" y="178" width="19" height="3" fill="#3c4f8a"/>
<rect x="96" y="178" width="18" height="3" fill="#3c508b"/>
<rect x="114" y="178" width="10" height="3" fill="#3c4f8a"/>
<rect x="124" y="178" width="18" height="3" fill="#3c508b"/>
<rect x="142" y="178" width="9" height="3" fill="#3c4f8a"/>
<rect x="151" y="178" width="10" height="3" fill="#3c508b"/>
<rect x="161" y="178" width="18" height="3" fill="#3c4f8a"/>
<rect x="179" y="178" width="9" height="3" fill="#3c508b"/>
<rect x="188" y="178" width="9" height="3" fill="#3c4f8a"/>
<rect x="197" y="178" width="19" height="3" fill="#3c508b"/>
<rect x="216" y="178" width="9" height="3" fill="#3c4f8a"/>
<rect x="225" y="178" width="19" height="3" fill="#3c508b"/>
<rect x="244" y="178" width="9" height="3" fill="#3c4f8a"/>
<rect x="253" y="178" width="18" height="3" fill="#3c508b"/>
<rect x="271" y="178" width="10" height="3" fill="#3c4f8a"/>
<rect x="281" y="178" width="9" height="3" fill="#3c508b"/>
<rect x="290" y="178" width="37" height="3" fill="#3c4f8a"/>
<rect x="327" y="178" width="9" height="3" fill="#3c508b"/>
<rect x="336" y="178" width="9" height="3" fill="#3c4f8a"/>
<rect x="345" y="178" width="46" height="3" fill="#3c508b"/>
<rect x="391" y="178" width="28" height="3" fill="#3c4f8a"/>
<rect x="419" y="178" width="18" height="3" fill="#3c508b"/>
<rect x="437" y="178" width="10" height="3" fill="#3b518b"/>
<rect x="447" y="178" width="9" height="3" fill="#3c4f8a"/>
<rect x="456" y="178" width="18" height="3" fill="#3c508b"/>
<rect x="474" y="178" width="19" height="3" fill="#3c4f8a"/>
<rect x="493" y="178" width="9" height="3" fill="#3c508b"/>
<rect x="77" y="174" width="10" height="4" fill="#414487"/>
<rect x="87" y="174" width="9" height="4" fill="#414287"/>
<rect x="96" y="174" width="28" height="4" fill="#414487"/>
<rect x="124" y="174" width="9" height="4" fill="#404588"/>
<rect x="133" y="174" width="92" height="4" fill="#414487"/>
<rect x="225" y="174" width="9" height="4" fill="#404588"/>
<rect x="234" y="174" width="10" height="4" fill="#414487"/>
<rect x="244" y="174" width="9" height="4" fill="#414287"/>
<rect x="253" y="174" width="111" height="4" fill="#414487"/>
<rect x="364" y="174" width="9" height="4" fill="#404588"/>
<rect x="373" y="174" width="9" height="4" fill="#414487"/>
<rect x="382" y="174" width="9" height="4" fill="#404588"/>
<rect x="391" y="174" width="28" height="4" fill="#414487"/>
<rect x="419" y="174" width="9" height="4" fill="#404588"/>
<rect x="428" y="174" width="9" height="4" fill="#414487"/>
<rect x="437" y="174" width="10" height="4" fill="#404588"/>
<rect x="447" y="174" width="9" height="4" fill="#414287"/>
<rect x="456" y="174" width="18" height="4" fill="#404588"/>
<rect x="474" y="174" width="19" height="4" fill="#414487"/>
<rect x="493" y="174" width="9" height="4" fill="#404588"/>
<rect x="77" y="171" width="19" height="3" fill="#453882"/>
<rect x="96" y="171" width="9" height="3" fill="#443983"/>
<rect x="105" y="171" width="19" height="3" fill="#453882"/>
<rect x="124" y="171" width="9" height="3" fill="#443983"/>
<rect x="133" y="171" width="18" height="3" fill="#443983"/>
<rect x="151" y="171" width="10" height="3" fill="#443983"/>
<rect x="161" y="171" width="18" height="3" fill="#443983"/>
<rect x="179" y="171" width="9" height="3" fill="#443983"/>
<rect x="188" y="171" width="28" height="3" fill="#443983"/>
<rect x="216" y="171" width="9" height="3" fill="#453882"/>
<rect x="225" y="171" width="19" height="3" fill="#443983"/>
<rect x="244" y="171" width="9" height="3" fill="#453882"/>
<rect x="253" y="171" width="28" height="3" fill="#443983"/>
<rect x="281" y="171" width="9" height="3" fill="#453882"/>
<rect x="290" y="171" width="27" height="3" fill="#443983"/>
<rect x="317" y="171" width="10" height="3" fill="#453882"/>
<rect x="327" y="171" width="37" height="3" fill="#443983"/>
<rect x="364" y="171" width="9" height="3" fill="#443983"/>
<rect x="373" y="171" width="9" height="3" fill="#443983"/>
<rect x="382" y="171" width="9" height="3" fill="#443983"/>
<rect x="391" y="171" width="28" height="3" fill="#443983"/>
<rect x="419" y="171" width="9" height="3" fill="#443983"/>
<rect x="428" y="171" width="19" height="3" fill="#443983"/>
<rect x="447" y="171" width="9" height="3" fill="#453882"/>
<rect x="456" y="171" width="28" height="3" fill="#443983"/>
<rect x="484" y="171" width="9" height="3" fill="#453882"/>
<rect x="493" y="171" width="9" height="3" fill="#443983"/>
<rect x="77" y="168" width="19" height="3" fill="#472f7d"/>
<rect x="96" y="168" width="9" height="3" fill="#46307e"/>
<rect x="105" y="168" width="19" height="3" fill="#472f7d"/>
<rect x="124" y="168" width="9" height="3" fill="#46327e"/>
<rect x="133" y="168" width="18" height="3" fill="#46307e"/>
<rect x="151" y="168" width="10" height="3" fill="#46327e"/>
<rect x="161" y="168" width="46" height="3" fill="#46307e"/>
<rect x="207" y="168" width="9" height="3" fill="#46327e"/>
<rect x="216" y="168" width="9" height="3" fill="#472f7d"/>
<rect x="225" y="168" width="9" height="3" fill="#46327e"/>
<rect x="234" y="168" width="19" height="3" fill="#472f7d"/>
<rect x="253" y="168" width="18" height="3" fill="#46307e"/>
<rect x="271" y="168" width="28" height="3" fill="#472f7d"/>
<rect x="299" y="168" width="18" height="3" fill="#46307e"/>
<rect x="317" y="168" width="19" height="3" fill="#472f7d"/>
<rect x="336" y="168" width="9" height="3" fill="#46327e"/>
<rect x="345" y="168" width="9" height="3" fill="#46307e"/>
<rect x="354" y="168" width="19" height="3" fill="#46327e"/>
<rect x="373" y="168" width="9" height="3" fill="#46307e"/>
<rect x="382" y="168" width="9" height="3" fill="#46327e"/>
<rect x="391" y="168" width="28" height="3" fill="#46307e"/>
<rect x="419" y="168" width="9" height="3" fill="#46327e"/>
<rect x="428" y="168" width="9" height="3" fill="#472f7d"/>
<rect x="437" y="168" width="10" height="3" fill="#46327e"/>
<rect x="447" y="168" width="9" height="3" fill="#472f7d"/>
<rect x="456" y="168" width="9" height="3" fill="#46307e"/>
<rect x="465" y="168" width="9" height="3" fill="#46327e"/>
<rect x="474" y="168" width="10" height="3" fill="#46307e"/>
<rect x="484" y="168" width="9" height="3" fill="#472f7d"/>
<rect x="493" y="168" width="9" height="3" fill="#46327e"/>
<rect x="77" y="164" width="19" height="4" fill="#482677"/>
<rect x="96" y="164" width="9" height="4" fill="#482979"/>
<rect x="105" y="164" width="9" height="4" fill="#482576"/>
<rect x="114" y="164" width="10" height="4" fill="#482677"/>
<rect x="124" y="164" width="27" height="4" fill="#482979"/>
<rect x="151" y="164" width="10" height="4" fill="#472a7a"/>
<rect x="161" y="164" width="27" height="4" fill="#482979"/>
<rect x="188" y="164" width="19" height="4" fill="#482878"/>
<rect x="207" y="164" width="9" height="4" fill="#482979"/>
<rect x="216" y="164" width="9" height="4" fill="#482677"/>
<rect x="225" y="164" width="9" height="4" fill="#482979"/>
<rect x="234" y="164" width="19" height="4" fill="#482677"/>
<rect x="253" y="164" width="9" height="4" fill="#482979"/>
<rect x="262" y="164" width="9" height="4" fill="#482878"/>
<rect x="271" y="164" width="19" height="4" fill="#482677"/>
<rect x="290" y="164" width="18" height="4" fill="#482878"/>
<rect x="308" y="164" width="9" height="4" fill="#482979"/>
<rect x="317" y="164" width="10" height="4" fill="#482677"/>
<rect x="327" y="164" width="9" height="4" fill="#482878"/>
<rect x="336" y="164" width="9" height="4" fill="#482979"/>
<rect x="345" y="164" width="9" height="4" fill="#482878"/>
<rect x="354" y="164" width="10" height="4" fill="#482979"/>
<rect x="364" y="164" width="9" height="4" fill="#472a7a"/>
<rect x="373" y="164" width="9" height="4" fill="#482878"/>
<rect x="382" y="164" width="9" height="4" fill="#482979"/>
<rect x="391" y="164" width="28" height="4" fill="#482878"/>
<rect x="419" y="164" width="9" height="4" fill="#482979"/>
<rect x="428" y="164" width="9" height="4" fill="#482878"/>
<rect x="437" y="164" width="10" height="4" fill="#482979"/>
<rect x="447" y="164" width="9" height="4" fill="#482677"/>
<rect x="456" y="164" width="18" height="4" fill="#482979"/>
<rect x="474" y="164" width="10" height="4" fill="#482878"/>
<rect x="484" y="164" width="9" height="4" fill="#482677"/>
<rect x="493" y="164" width="9" height="4" fill="#482979"/>
<rect x="77" y="161" width="19" height="3" fill="#482071"/>
<rect x="96" y="161" width="9" height="3" fill="#482374"/>
<rect x="105" y="161" width="9" height="3" fill="#481f70"/>
<rect x="114" y="161" width="10" height="3" fill="#482173"/>
<rect x="124" y="161" width="9" height="3" fill="#482374"/>
<rect x="133" y="161" width="18" height="3" fill="#482374"/>
<rect x="151" y="161" width="10" height="3" fill="#482576"/>
<rect x="161" y="161" width="9" height="3" fill="#482374"/>
<rect x="170" y="161" width="9" height="3" fill="#482374"/>
<rect x="179" y="161" width="9" height="3" fill="#482374"/>
<rect x="188" y="161" width="19" height="3" fill="#482173"/>
<rect x="207" y="161" width="9" height="3" fill="#482374"/>
<rect x="216" y="161" width="9" height="3" fill="#482071"/>
<rect x="225" y="161" width="9" height="3" fill="#482374"/>
<rect x="234" y="161" width="10" height="3" fill="#482071"/>
<rect x="244" y="161" width="9" height="3" fill="#482173"/>
<rect x="253" y="161" width="9" height="3" fill="#482374"/>
<rect x="262" y="161" width="9" height="3" fill="#482173"/>
<rect x="271" y="161" width="19" height="3" fill="#482071"/>
<rect x="290" y="161" width="9" height="3" fill="#482173"/>
<rect x="299" y="161" width="18" height="3" fill="#482374"/>
<rect x="317" y="161" width="10" height="3" fill="#482071"/>
<rect x="327" y="161" width="9" height="3" fill="#482173"/>
<rect x="336" y="161" width="9" height="3" fill="#482374"/>
<rect x="345" y="161" width="19" height="3" fill="#482374"/>
<rect x="364" y="161" width="9" height="3" fill="#482475"/>
<rect x="373" y="161" width="9" height="3" fill="#482173"/>
<rect x="382" y="161" width="9" height="3" fill="#482374"/>
<rect x="391" y="161" width="10" height="3" fill="#482374"/>
<rect x="401" y="161" width="18" height="3" fill="#482173"/>
<rect x="419" y="161" width="9" height="3" fill="#482374"/>
<rect x="428" y="161" width="9" height="3" fill="#482173"/>
<rect x="437" y="161" width="10" height="3" fill="#482374"/>
<rect x="447" y="161" width="9" height="3" fill="#482173"/>
<rect x="456" y="161" width="9" height="3" fill="#482374"/>
<rect x="465" y="161" width="9" height="3" fill="#482374"/>
<rect x="474" y="161" width="10" height="3" fill="#482173"/>
<rect x="484" y="161" width="9" height="3" fill="#482071"/>
<rect x="493" y="161" width="9" height="3" fill="#482374"/>
<rect x="77" y="158" width="19" height="3" fill="#481b6d"/>
<rect x="96" y="158" width="9" height="3" fill="#481d6f"/>
<rect x="105" y="158" width="9" height="3" fill="#481a6c"/>
<rect x="114" y="158" width="10" height="3" fill="#481b6d"/>
<rect x="124" y="158" width="9" height="3" fill="#482071"/>
<rect x="133" y="158" width="9" height="3" fill="#481d6f"/>
<rect x="142" y="158" width="9" height="3" fill="#481c6e"/>
<rect x="151" y="158" width="10" height="3" fill="#482173"/>
<rect x="161" y="158" width="9" height="3" fill="#481f70"/>
<rect x="170" y="158" width="9" height="3" fill="#481d6f"/>
<rect x="179" y="158" width="9" height="3" fill="#481f70"/>
<rect x="188" y="158" width="9" height="3" fill="#481c6e"/>
<rect x="197" y="158" width="10" height="3" fill="#481b6d"/>
<rect x="207" y="158" width="9" height="3" fill="#481d6f"/>
<rect x="216" y="158" width="9" height="3" fill="#481b6d"/>
<rect x="225" y="158" width="9" height="3" fill="#481d6f"/>
<rect x="234" y="158" width="10" height="3" fill="#481b6d"/>
<rect x="244" y="158" width="9" height="3" fill="#481c6e"/>
<rect x="253" y="158" width="9" height="3" fill="#481f70"/>
<rect x="262" y="158" width="19" height="3" fill="#481b6d"/>
<rect x="281" y="158" width="9" height="3" fill="#481b6d"/>
<rect x="290" y="158" width="9" height="3" fill="#481c6e"/>
<rect x="299" y="158" width="18" height="3" fill="#481d6f"/>
<rect x="317" y="158" width="10" height="3" fill="#481b6d"/>
<rect x="327" y="158" width="9" height="3" fill="#481b6d"/>
<rect x="336" y="158" width="28" height="3" fill="#481d6f"/>
<rect x="364" y="158" width="9" height="3" fill="#481f70"/>
<rect x="373" y="158" width="9" height="3" fill="#481c6e"/>
<rect x="382" y="158" width="9" height="3" fill="#481f70"/>
<rect x="391" y="158" width="10" height="3" fill="#481c6e"/>
<rect x="401" y="158" width="18" height="3" fill="#481b6d"/>
<rect x="419" y="158" width="9" height="3" fill="#481d6f"/>
<rect x="428" y="158" width="9" height="3" fill="#481c6e"/>
<rect x="437" y="158" width="10" height="3" fill="#481d6f"/>
<rect x="447" y="158" width="9" height="3" fill="#481c6e"/>
<rect x="456" y="158" width="18" height="3" fill="#481d6f"/>
<rect x="474" y="158" width="10" height="3" fill="#481b6d"/>
<rect x="484" y="158" width="9" height="3" fill="#481b6d"/>
<rect x="493" y="158" width="9" height="3" fill="#481c6e"/>
<rect x="77" y="154" width="19" height="4" fill="#481668"/>
<rect x="96" y="154" width="9" height="4" fill="#48186a"/>
<rect x="105" y="154" width="9" height="4" fill="#471365"/>
<rect x="114" y="154" width="10" height="4" fill="#481769"/>
<rect x="124" y="154" width="9" height="4" fill="#481b6d"/>
<rect x="133" y="154" width="9" height="4" fill="#481a6c"/>
<rect x="142" y="154" width="9" height="4" fill="#48186a"/>
<rect x="151" y="154" width="10" height="4" fill="#481c6e"/>
<rect x="161" y="154" width="9" height="4" fill="#481a6c"/>
<rect x="170" y="154" width="9" height="4" fill="#48186a"/>
<rect x="179" y="154" width="9" height="4" fill="#481a6c"/>
<rect x="188" y="154" width="9" height="4" fill="#481769"/>
<rect x="197" y="154" width="10" height="4" fill="#481668"/>
<rect x="207" y="154" width="9" height="4" fill="#481a6c"/>
<rect x="216" y="154" width="9" height="4" fill="#481467"/>
<rect x="225" y="154" width="9" height="4" fill="#48186a"/>
<rect x="234" y="154" width="10" height="4" fill="#481668"/>
<rect x="244" y="154" width="9" height="4" fill="#481a6c"/>
<rect x="253" y="154" width="9" height="4" fill="#481b6d"/>
<rect x="262" y="154" width="19" height="4" fill="#481668"/>
<rect x="281" y="154" width="9" height="4" fill="#481467"/>
<rect x="290" y="154" width="9" height="4" fill="#481769"/>
<rect x="299" y="154" width="9" height="4" fill="#48186a"/>
<rect x="308" y="154" width="9" height="4" fill="#481a6c"/>
<rect x="317" y="154" width="10" height="4" fill="#481467"/>
<rect x="327" y="154" width="9" height="4" fill="#481769"/>
<rect x="336" y="154" width="18" height="4" fill="#48186a"/>
<rect x="354" y="154" width="19" height="4" fill="#481a6c"/>
<rect x="373" y="154" width="9" height="4" fill="#481769"/>
<rect x="382" y="154" width="9" height="4" fill="#481a6c"/>
<rect x="391" y="154" width="10" height="4" fill="#481769"/>
<rect x="401" y="154" width="18" height="4" fill="#481668"/>
<rect x="419" y="154" width="9" height="4" fill="#481a6c"/>
<rect x="428" y="154" width="19" height="4" fill="#48186a"/>
<rect x="447" y="154" width="9" height="4" fill="#481769"/>
<rect x="456" y="154" width="18" height="4" fill="#48186a"/>
<rect x="474" y="154" width="19" height="4" fill="#481668"/>
<rect x="493" y="154" width="9" height="4" fill="#481769"/>
<rect x="77" y="151" width="19" height="3" fill="#471365"/>
<rect x="96" y="151" width="9" height="3" fill="#481467"/>
<rect x="105" y="151" width="9" height="3" fill="#471063"/>
<rect x="114" y="151" width="10" height="3" fill="#471365"/>
<rect x="124" y="151" width="9" height="3" fill="#481769"/>
<rect x="133" y="151" width="9" height="3" fill="#481668"/>
<rect x="142" y="151" width="9" height="3" fill="#481467"/>
<rect x="151" y="151" width="10" height="3" fill="#481b6d"/>
<rect x="161" y="151" width="9" height="3" fill="#481769"/>
<rect x="170" y="151" width="18" height="3" fill="#481467"/>
<rect x="188" y="151" width="9" height="3" fill="#471365"/>
<rect x="197" y="151" width="10" height="3" fill="#471365"/>
<rect x="207" y="151" width="9" height="3" fill="#481769"/>
<rect x="216" y="151" width="9" height="3" fill="#471164"/>
<rect x="225" y="151" width="9" height="3" fill="#481467"/>
<rect x="234" y="151" width="10" height="3" fill="#471365"/>
<rect x="244" y="151" width="9" height="3" fill="#481668"/>
<rect x="253" y="151" width="9" height="3" fill="#481769"/>
<rect x="262" y="151" width="19" height="3" fill="#471365"/>
<rect x="281" y="151" width="9" height="3" fill="#471164"/>
<rect x="290" y="151" width="9" height="3" fill="#471365"/>
<rect x="299" y="151" width="9" height="3" fill="#481467"/>
<rect x="308" y="151" width="9" height="3" fill="#481668"/>
<rect x="317" y="151" width="10" height="3" fill="#471164"/>
<rect x="327" y="151" width="27" height="3" fill="#481467"/>
<rect x="354" y="151" width="19" height="3" fill="#481668"/>
<rect x="373" y="151" width="9" height="3" fill="#481467"/>
<rect x="382" y="151" width="9" height="3" fill="#481668"/>
<rect x="391" y="151" width="10" height="3" fill="#471365"/>
<rect x="401" y="151" width="18" height="3" fill="#471365"/>
<rect x="419" y="151" width="9" height="3" fill="#481668"/>
<rect x="428" y="151" width="19" height="3" fill="#481467"/>
<rect x="447" y="151" width="9" height="3" fill="#471365"/>
<rect x="456" y="151" width="18" height="3" fill="#481467"/>
<rect x="474" y="151" width="10" height="3" fill="#471365"/>
<rect x="484" y="151" width="9" height="3" fill="#471164"/>
<rect x="493" y="151" width="9" height="3" fill="#471365"/>
<rect x="77" y="148" width="19" height="3" fill="#471063"/>
<rect x="96" y="148" width="9" height="3" fill="#471365"/>
<rect x="105" y="148" width="9" height="3" fill="#470d60"/>
<rect x="114" y="148" width="10" height="3" fill="#471164"/>
<rect x="124" y="148" width="9" height="3" fill="#481467"/>
<rect x="133" y="148" width="9" height="3" fill="#471365"/>
<rect x="142" y="148" width="9" height="3" fill="#471365"/>
<rect x="151" y="148" width="10" height="3" fill="#48186a"/>
<rect x="161" y="148" width="9" height="3" fill="#481467"/>
<rect x="170" y="148" width="18" height="3" fill="#471365"/>
<rect x="188" y="148" width="9" height="3" fill="#471164"/>
<rect x="197" y="148" width="10" height="3" fill="#470e61"/>
<rect x="207" y="148" width="9" height="3" fill="#481467"/>
<rect x="216" y="148" width="9" height="3" fill="#470d60"/>
<rect x="225" y="148" width="9" height="3" fill="#471365"/>
<rect x="234" y="148" width="10" height="3" fill="#470e61"/>
<rect x="244" y="148" width="9" height="3" fill="#471365"/>
<rect x="253" y="148" width="9" height="3" fill="#481668"/>
<rect x="262" y="148" width="19" height="3" fill="#471063"/>
<rect x="281" y="148" width="9" height="3" fill="#470e61"/>
<rect x="290" y="148" width="9" height="3" fill="#471164"/>
<rect x="299" y="148" width="9" height="3" fill="#471365"/>
<rect x="308" y="148" width="9" height="3" fill="#481467"/>
<rect x="317" y="148" width="10" height="3" fill="#470e61"/>
<rect x="327" y="148" width="9" height="3" fill="#471164"/>
<rect x="336" y="148" width="18" height="3" fill="#471365"/>
<rect x="354" y="148" width="19" height="3" fill="#471365"/>
<rect x="373" y="148" width="9" height="3" fill="#471365"/>
<rect x="382" y="148" width="9" height="3" fill="#471365"/>
<rect x="391" y="148" width="10" height="3" fill="#471164"/>
<rect x="401" y="148" width="18" height="3" fill="#471063"/>
<rect x="419" y="148" width="9" height="3" fill="#471365"/>
<rect x="428" y="148" width="9" height="3" fill="#471365"/>
<rect x="437" y="148" width="19" height="3" fill="#471164"/>
<rect x="456" y="148" width="9" height="3" fill="#471365"/>
<rect x="465" y="148" width="9" height="3" fill="#471164"/>
<rect x="474" y="148" width="10" height="3" fill="#471063"/>
<rect x="484" y="148" width="9" height="3" fill="#470e61"/>
<rect x="493" y="148" width="9" height="3" fill="#471063"/>
<rect x="77" y="144" width="10" height="4" fill="#471063"/>
<rect x="87" y="144" width="9" height="4" fill="#470e61"/>
<rect x="96" y="144" width="9" height="4" fill="#471164"/>
<rect x="105" y="144" width="9" height="4" fill="#470d60"/>
<rect x="114" y="144" width="10" height="4" fill="#471164"/>
<rect x="124" y="144" width="9" height="4" fill="#481467"/>
<rect x="133" y="144" width="9" height="4" fill="#471365"/>
<rect x="142" y="144" width="9" height="4" fill="#471164"/>
<rect x="151" y="144" width="10" height="4" fill="#48186a"/>
<rect x="161" y="144" width="9" height="4" fill="#481668"/>
<rect x="170" y="144" width="18" height="4" fill="#471365"/>
<rect x="188" y="144" width="9" height="4" fill="#471063"/>
<rect x="197" y="144" width="10" height="4" fill="#470d60"/>
<rect x="207" y="144" width="9" height="4" fill="#471365"/>
<rect x="216" y="144" width="9" height="4" fill="#470d60"/>
<rect x="225" y="144" width="9" height="4" fill="#471164"/>
<rect x="234" y="144" width="10" height="4" fill="#470d60"/>
<rect x="244" y="144" width="9" height="4" fill="#471365"/>
<rect x="253" y="144" width="9" height="4" fill="#481668"/>
<rect x="262" y="144" width="9" height="4" fill="#470e61"/>
<rect x="271" y="144" width="19" height="4" fill="#470d60"/>
<rect x="290" y="144" width="18" height="4" fill="#471164"/>
<rect x="308" y="144" width="9" height="4" fill="#471365"/>
<rect x="317" y="144" width="10" height="4" fill="#470e61"/>
<rect x="327" y="144" width="9" height="4" fill="#471164"/>
<rect x="336" y="144" width="9" height="4" fill="#471365"/>
<rect x="345" y="144" width="9" height="4" fill="#471164"/>
<rect x="354" y="144" width="10" height="4" fill="#471365"/>
<rect x="364" y="144" width="9" height="4" fill="#471365"/>
<rect x="373" y="144" width="18" height="4" fill="#471365"/>
<rect x="391" y="144" width="10" height="4" fill="#471063"/>
<rect x="401" y="144" width="18" height="4" fill="#470e61"/>
<rect x="419" y="144" width="9" height="4" fill="#471365"/>
<rect x="428" y="144" width="28" height="4" fill="#471164"/>
<rect x="456" y="144" width="9" height="4" fill="#471365"/>
<rect x="465" y="144" width="9" height="4" fill="#471063"/>
<rect x="474" y="144" width="28" height="4" fill="#470e61"/>
<rect x="77" y="141" width="19" height="3" fill="#471063"/>
<rect x="96" y="141" width="9" height="3" fill="#471164"/>
<rect x="105" y="141" width="9" height="3" fill="#470d60"/>
<rect x="114" y="141" width="10" height="3" fill="#471365"/>
<rect x="124" y="141" width="9" height="3" fill="#481668"/>
<rect x="133" y="141" width="9" height="3" fill="#471365"/>
<rect x="142" y="141" width="9" height="3" fill="#471365"/>
<rect x="151" y="141" width="10" height="3" fill="#48186a"/>
<rect x="161" y="141" width="9" height="3" fill="#481668"/>
<rect x="170" y="141" width="18" height="3" fill="#471365"/>
<rect x="188" y="141" width="9" height="3" fill="#471063"/>
<rect x="197" y="141" width="10" height="3" fill="#470d60"/>
<rect x="207" y="141" width="9" height="3" fill="#471365"/>
<rect x="216" y="141" width="9" height="3" fill="#470d60"/>
<rect x="225" y="141" width="9" height="3" fill="#471365"/>
<rect x="234" y="141" width="10" height="3" fill="#470d60"/>
<rect x="244" y="141" width="9" height="3" fill="#471365"/>
<rect x="253" y="141" width="9" height="3" fill="#481668"/>
<rect x="262" y="141" width="19" height="3" fill="#470e61"/>
<rect x="281" y="141" width="9" height="3" fill="#470d60"/>
<rect x="290" y="141" width="9" height="3" fill="#471164"/>
<rect x="299" y="141" width="9" height="3" fill="#471365"/>
<rect x="308" y="141" width="9" height="3" fill="#471365"/>
<rect x="317" y="141" width="10" height="3" fill="#470e61"/>
<rect x="327" y="141" width="9" height="3" fill="#471164"/>
<rect x="336" y="141" width="9" height="3" fill="#471365"/>
<rect x="345" y="141" width="9" height="3" fill="#471164"/>
<rect x="354" y="141" width="10" height="3" fill="#471365"/>
<rect x="364" y="141" width="9" height="3" fill="#471365"/>
<rect x="373" y="141" width="18" height="3" fill="#471365"/>
<rect x="391" y="141" width="10" height="3" fill="#471164"/>
<rect x="401" y="141" width="9" height="3" fill="#470e61"/>
<rect x="410" y="141" width="9" height="3" fill="#470d60"/>
<rect x="419" y="141" width="9" height="3" fill="#471365"/>
<rect x="428" y="141" width="9" height="3" fill="#471365"/>
<rect x="437" y="141" width="10" height="3" fill="#471164"/>
<rect x="447" y="141" width="9" height="3" fill="#471365"/>
<rect x="456" y="141" width="9" height="3" fill="#471365"/>
<rect x="465" y="141" width="9" height="3" fill="#471164"/>
<rect x="474" y="141" width="28" height="3" fill="#470e61"/>
<rect x="77" y="138" width="10" height="3" fill="#471365"/>
<rect x="87" y="138" width="9" height="3" fill="#471365"/>
<rect x="96" y="138" width="9" height="3" fill="#471365"/>
<rect x="105" y="138" width="9" height="3" fill="#471164"/>
<rect x="114" y="138" width="10" height="3" fill="#481668"/>
<rect x="124" y="138" width="9" height="3" fill="#481a6c"/>
<rect x="133" y="138" width="9" height="3" fill="#481769"/>
<rect x="142" y="138" width="9" height="3" fill="#481467"/>
<rect x="151" y="138" width="10" height="3" fill="#481b6d"/>
<rect x="161" y="138" width="9" height="3" fill="#481a6c"/>
<rect x="170" y="138" width="18" height="3" fill="#481467"/>
<rect x="188" y="138" width="9" height="3" fill="#471365"/>
<rect x="197" y="138" width="10" height="3" fill="#471164"/>
<rect x="207" y="138" width="9" height="3" fill="#481668"/>
<rect x="216" y="138" width="9" height="3" fill="#471164"/>
<rect x="225" y="138" width="9" height="3" fill="#481467"/>
<rect x="234" y="138" width="10" height="3" fill="#470e61"/>
<rect x="244" y="138" width="9" height="3" fill="#481668"/>
<rect x="253" y="138" width="9" height="3" fill="#48186a"/>
<rect x="262" y="138" width="19" height="3" fill="#471164"/>
<rect x="281" y="138" width="9" height="3" fill="#471063"/>
<rect x="290" y="138" width="9" height="3" fill="#471365"/>
<rect x="299" y="138" width="9" height="3" fill="#481467"/>
<rect x="308" y="138" width="9" height="3" fill="#481769"/>
<rect x="317" y="138" width="10" height="3" fill="#471164"/>
<rect x="327" y="138" width="18" height="3" fill="#481467"/>
<rect x="345" y="138" width="9" height="3" fill="#471365"/>
<rect x="354" y="138" width="10" height="3" fill="#481668"/>
<rect x="364" y="138" width="37" height="3" fill="#481467"/>
<rect x="401" y="138" width="9" height="3" fill="#471365"/>
<rect x="410" y="138" width="9" height="3" fill="#471063"/>
<rect x="419" y="138" width="9" height="3" fill="#481769"/>
<rect x="428" y="138" width="9" height="3" fill="#481467"/>
<rect x="437" y="138" width="10" height="3" fill="#471365"/>
<rect x="447" y="138" width="18" height="3" fill="#481668"/>
<rect x="465" y="138" width="9" height="3" fill="#471365"/>
<rect x="474" y="138" width="10" height="3" fill="#471365"/>
<rect x="484" y="138" width="18" height="3" fill="#471164"/>
<rect x="77" y="134" width="10" height="4" fill="#481769"/>
<rect x="87" y="134" width="9" height="4" fill="#481668"/>
<rect x="96" y="134" width="9" height="4" fill="#481769"/>
<rect x="105" y="134" width="9" height="4" fill="#481467"/>
<rect x="114" y="134" width="10" height="4" fill="#481b6d"/>
<rect x="124" y="134" width="9" height="4" fill="#481c6e"/>
<rect x="133" y="134" width="9" height="4" fill="#481b6d"/>
<rect x="142" y="134" width="9" height="4" fill="#481a6c"/>
<rect x="151" y="134" width="10" height="4" fill="#481f70"/>
<rect x="161" y="134" width="9" height="4" fill="#481c6e"/>
<rect x="170" y="134" width="9" height="4" fill="#48186a"/>
<rect x="179" y="134" width="9" height="4" fill="#481a6c"/>
<rect x="188" y="134" width="9" height="4" fill="#48186a"/>
<rect x="197" y="134" width="10" height="4" fill="#481668"/>
<rect x="207" y="134" width="9" height="4" fill="#481a6c"/>
<rect x="216" y="134" width="9" height="4" fill="#481668"/>
<rect x="225" y="134" width="9" height="4" fill="#48186a"/>
<rect x="234" y="134" width="10" height="4" fill="#471365"/>
<rect x="244" y="134" width="9" height="4" fill="#481b6d"/>
<rect x="253" y="134" width="9" height="4" fill="#481c6e"/>
<rect x="262" y="134" width="9" height="4" fill="#481467"/>
<rect x="271" y="134" width="10" height="4" fill="#481668"/>
<rect x="281" y="134" width="9" height="4" fill="#471365"/>
<rect x="290" y="134" width="9" height="4" fill="#481769"/>
<rect x="299" y="134" width="9" height="4" fill="#48186a"/>
<rect x="308" y="134" width="9" height="4" fill="#481b6d"/>
<rect x="317" y="134" width="10" height="4" fill="#481668"/>
<rect x="327" y="134" width="9" height="4" fill="#48186a"/>
<rect x="336" y="134" width="9" height="4" fill="#481a6c"/>
<rect x="345" y="134" width="9" height="4" fill="#481769"/>
<rect x="354" y="134" width="19" height="4" fill="#481a6c"/>
<rect x="373" y="134" width="18" height="4" fill="#48186a"/>
<rect x="391" y="134" width="10" height="4" fill="#481a6c"/>
<rect x="401" y="134" width="9" height="4" fill="#481467"/>
<rect x="410" y="134" width="9" height="4" fill="#471365"/>
<rect x="419" y="134" width="9" height="4" fill="#481b6d"/>
<rect x="428" y="134" width="9" height="4" fill="#481a6c"/>
<rect x="437" y="134" width="10" height="4" fill="#481769"/>
<rect x="447" y="134" width="18" height="4" fill="#481b6d"/>
<rect x="465" y="134" width="9" height="4" fill="#48186a"/>
<rect x="474" y="134" width="19" height="4" fill="#481668"/>
<rect x="493" y="134" width="9" height="4" fill="#481467"/>
<rect x="77" y="131" width="19" height="3" fill="#481b6d"/>
<rect x="96" y="131" width="9" height="3" fill="#481a6c"/>
<rect x="105" y="131" width="9" height="3" fill="#48186a"/>
<rect x="114" y="131" width="10" height="3" fill="#481d6f"/>
<rect x="124" y="131" width="9" height="3" fill="#481f70"/>
<rect x="133" y="131" width="9" height="3" fill="#481c6e"/>
<rect x="142" y="131" width="9" height="3" fill="#481b6d"/>
<rect x="151" y="131" width="10" height="3" fill="#482173"/>
<rect x="161" y="131" width="9" height="3" fill="#481f70"/>
<rect x="170" y="131" width="9" height="3" fill="#481b6d"/>
<rect x="179" y="131" width="9" height="3" fill="#481c6e"/>
<rect x="188" y="131" width="9" height="3" fill="#481b6d"/>
<rect x="197" y="131" width="10" height="3" fill="#481a6c"/>
<rect x="207" y="131" width="9" height="3" fill="#481b6d"/>
<rect x="216" y="131" width="9" height="3" fill="#48186a"/>
<rect x="225" y="131" width="9" height="3" fill="#481b6d"/>
<rect x="234" y="131" width="10" height="3" fill="#481668"/>
<rect x="244" y="131" width="9" height="3" fill="#481c6e"/>
<rect x="253" y="131" width="9" height="3" fill="#481f70"/>
<rect x="262" y="131" width="9" height="3" fill="#48186a"/>
<rect x="271" y="131" width="10" height="3" fill="#481a6c"/>
<rect x="281" y="131" width="9" height="3" fill="#481668"/>
<rect x="290" y="131" width="18" height="3" fill="#481b6d"/>
<rect x="308" y="131" width="9" height="3" fill="#481f70"/>
<rect x="317" y="131" width="10" height="3" fill="#481a6c"/>
<rect x="327" y="131" width="9" height="3" fill="#481b6d"/>
<rect x="336" y="131" width="9" height="3" fill="#481c6e"/>
<rect x="345" y="131" width="9" height="3" fill="#481b6d"/>
<rect x="354" y="131" width="10" height="3" fill="#481c6e"/>
<rect x="364" y="131" width="9" height="3" fill="#481b6d"/>
<rect x="373" y="131" width="9" height="3" fill="#481c6e"/>
<rect x="382" y="131" width="9" height="3" fill="#481b6d"/>
<rect x="391" y="131" width="10" height="3" fill="#481c6e"/>
<rect x="401" y="131" width="18" height="3" fill="#48186a"/>
<rect x="419" y="131" width="9" height="3" fill="#481f70"/>
<rect x="428" y="131" width="9" height="3" fill="#481c6e"/>
<rect x="437" y="131" width="10" height="3" fill="#481b6d"/>
<rect x="447" y="131" width="18" height="3" fill="#481d6f"/>
<rect x="465" y="131" width="19" height="3" fill="#481b6d"/>
<rect x="484" y="131" width="9" height="3" fill="#48186a"/>
<rect x="493" y="131" width="9" height="3" fill="#481a6c"/>
<rect x="77" y="128" width="19" height="3" fill="#482071"/>
<rect x="96" y="128" width="9" height="3" fill="#481d6f"/>
<rect x="105" y="128" width="9" height="3" fill="#481f70"/>
<rect x="114" y="128" width="10" height="3" fill="#482374"/>
<rect x="124" y="128" width="9" height="3" fill="#482475"/>
<rect x="133" y="128" width="18" height="3" fill="#482374"/>
<rect x="151" y="128" width="10" height="3" fill="#482677"/>
<rect x="161" y="128" width="9" height="3" fill="#482475"/>
<rect x="170" y="128" width="9" height="3" fill="#482374"/>
<rect x="179" y="128" width="18" height="3" fill="#482173"/>
<rect x="197" y="128" width="10" height="3" fill="#481f70"/>
<rect x="207" y="128" width="9" height="3" fill="#482173"/>
<rect x="216" y="128" width="9" height="3" fill="#481d6f"/>
<rect x="225" y="128" width="9" height="3" fill="#482173"/>
<rect x="234" y="128" width="10" height="3" fill="#481b6d"/>
<rect x="244" y="128" width="9" height="3" fill="#482374"/>
<rect x="253" y="128" width="9" height="3" fill="#482475"/>
<rect x="262" y="128" width="9" height="3" fill="#481c6e"/>
<rect x="271" y="128" width="10" height="3" fill="#481f70"/>
<rect x="281" y="128" width="9" height="3" fill="#481b6d"/>
<rect x="290" y="128" width="9" height="3" fill="#481f70"/>
<rect x="299" y="128" width="9" height="3" fill="#482071"/>
<rect x="308" y="128" width="9" height="3" fill="#482475"/>
<rect x="317" y="128" width="19" height="3" fill="#481f70"/>
<rect x="336" y="128" width="9" height="3" fill="#482374"/>
<rect x="345" y="128" width="9" height="3" fill="#482071"/>
<rect x="354" y="128" width="28" height="3" fill="#482173"/>
<rect x="382" y="128" width="9" height="3" fill="#482071"/>
<rect x="391" y="128" width="10" height="3" fill="#482374"/>
<rect x="401" y="128" width="9" height="3" fill="#481d6f"/>
<rect x="410" y="128" width="9" height="3" fill="#481f70"/>
<rect x="419" y="128" width="9" height="3" fill="#482475"/>
<rect x="428" y="128" width="19" height="3" fill="#482173"/>
<rect x="447" y="128" width="9" height="3" fill="#482374"/>
<rect x="456" y="128" width="9" height="3" fill="#482374"/>
<rect x="465" y="128" width="9" height="3" fill="#481f70"/>
<rect x="474" y="128" width="10" height="3" fill="#482071"/>
<rect x="484" y="128" width="9" height="3" fill="#481d6f"/>
<rect x="493" y="128" width="9" height="3" fill="#481f70"/>
<rect x="77" y="124" width="10" height="4" fill="#482475"/>
<rect x="87" y="124" width="9" height="4" fill="#482374"/>
<rect x="96" y="124" width="9" height="4" fill="#482374"/>
<rect x="105" y="124" width="9" height="4" fill="#482374"/>
<rect x="114" y="124" width="10" height="4" fill="#482878"/>
<rect x="124" y="124" width="9" height="4" fill="#472a7a"/>
<rect x="133" y="124" width="18" height="4" fill="#482677"/>
<rect x="151" y="124" width="10" height="4" fill="#472a7a"/>
<rect x="161" y="124" width="9" height="4" fill="#482979"/>
<rect x="170" y="124" width="9" height="4" fill="#482677"/>
<rect x="179" y="124" width="18" height="4" fill="#482576"/>
<rect x="197" y="124" width="10" height="4" fill="#482374"/>
<rect x="207" y="124" width="9" height="4" fill="#482576"/>
<rect x="216" y="124" width="9" height="4" fill="#482173"/>
<rect x="225" y="124" width="9" height="4" fill="#482475"/>
<rect x="234" y="124" width="10" height="4" fill="#482071"/>
<rect x="244" y="124" width="9" height="4" fill="#482677"/>
<rect x="253" y="124" width="9" height="4" fill="#482979"/>
<rect x="262" y="124" width="9" height="4" fill="#482173"/>
<rect x="271" y="124" width="10" height="4" fill="#482374"/>
<rect x="281" y="124" width="9" height="4" fill="#482071"/>
<rect x="290" y="124" width="18" height="4" fill="#482374"/>
<rect x="308" y="124" width="9" height="4" fill="#482979"/>
<rect x="317" y="124" width="10" height="4" fill="#482475"/>
<rect x="327" y="124" width="9" height="4" fill="#482374"/>
<rect x="336" y="124" width="9" height="4" fill="#482677"/>
<rect x="345" y="124" width="9" height="4" fill="#482475"/>
<rect x="354" y="124" width="37" height="4" fill="#482576"/>
<rect x="391" y="124" width="10" height="4" fill="#482677"/>
<rect x="401" y="124" width="9" height="4" fill="#482374"/>
<rect x="410" y="124" width="9" height="4" fill="#482374"/>
<rect x="419" y="124" width="9" height="4" fill="#482979"/>
<rect x="428" y="124" width="19" height="4" fill="#482576"/>
<rect x="447" y="124" width="9" height="4" fill="#482677"/>
<rect x="456" y="124" width="9" height="4" fill="#482979"/>
<rect x="465" y="124" width="9" height="4" fill="#482475"/>
<rect x="474" y="124" width="10" height="4" fill="#482576"/>
<rect x="484" y="124" width="18" height="4" fill="#482374"/>
<rect x="77" y="121" width="19" height="3" fill="#482979"/>
<rect x="96" y="121" width="9" height="3" fill="#482677"/>
<rect x="105" y="121" width="9" height="3" fill="#482878"/>
<rect x="114" y="121" width="10" height="3" fill="#472c7a"/>
<rect x="124" y="121" width="9" height="3" fill="#472f7d"/>
<rect x="133" y="121" width="18" height="3" fill="#472a7a"/>
<rect x="151" y="121" width="10" height="3" fill="#472f7d"/>
<rect x="161" y="121" width="9" height="3" fill="#472d7b"/>
<rect x="170" y="121" width="9" height="3" fill="#472c7a"/>
<rect x="179" y="121" width="18" height="3" fill="#472a7a"/>
<rect x="197" y="121" width="10" height="3" fill="#482878"/>
<rect x="207" y="121" width="9" height="3" fill="#472a7a"/>
<rect x="216" y="121" width="9" height="3" fill="#482576"/>
<rect x="225" y="121" width="9" height="3" fill="#482979"/>
<rect x="234" y="121" width="10" height="3" fill="#482576"/>
<rect x="244" y="121" width="9" height="3" fill="#472a7a"/>
<rect x="253" y="121" width="9" height="3" fill="#472d7b"/>
<rect x="262" y="121" width="9" height="3" fill="#482677"/>
<rect x="271" y="121" width="10" height="3" fill="#482878"/>
<rect x="281" y="121" width="9" height="3" fill="#482475"/>
<rect x="290" y="121" width="18" height="3" fill="#482979"/>
<rect x="308" y="121" width="9" height="3" fill="#472d7b"/>
<rect x="317" y="121" width="10" height="3" fill="#482979"/>
<rect x="327" y="121" width="9" height="3" fill="#482878"/>
<rect x="336" y="121" width="9" height="3" fill="#472c7a"/>
<rect x="345" y="121" width="9" height="3" fill="#482979"/>
<rect x="354" y="121" width="37" height="3" fill="#472a7a"/>
<rect x="391" y="121" width="10" height="3" fill="#472a7a"/>
<rect x="401" y="121" width="18" height="3" fill="#482878"/>
<rect x="419" y="121" width="9" height="3" fill="#472e7c"/>
<rect x="428" y="121" width="9" height="3" fill="#472c7a"/>
<rect x="437" y="121" width="10" height="3" fill="#472a7a"/>
<rect x="447" y="121" width="9" height="3" fill="#472c7a"/>
<rect x="456" y="121" width="9" height="3" fill="#472d7b"/>
<rect x="465" y="121" width="9" height="3" fill="#482878"/>
<rect x="474" y="121" width="10" height="3" fill="#472a7a"/>
<rect x="484" y="121" width="9" height="3" fill="#482979"/>
<rect x="493" y="121" width="9" height="3" fill="#482878"/>
<rect x="77" y="118" width="10" height="3" fill="#472e7c"/>
<rect x="87" y="118" width="9" height="3" fill="#472d7b"/>
<rect x="96" y="118" width="18" height="3" fill="#472c7a"/>
<rect x="114" y="118" width="10" height="3" fill="#46327e"/>
<rect x="124" y="118" width="9" height="3" fill="#46327e"/>
<rect x="133" y="118" width="9" height="3" fill="#472f7d"/>
<rect x="142" y="118" width="9" height="3" fill="#46307e"/>
<rect x="151" y="118" width="10" height="3" fill="#46337f"/>
<rect x="161" y="118" width="18" height="3" fill="#46327e"/>
<rect x="179" y="118" width="9" height="3" fill="#472f7d"/>
<rect x="188" y="118" width="9" height="3" fill="#472e7c"/>
<rect x="197" y="118" width="10" height="3" fill="#472d7b"/>
<rect x="207" y="118" width="9" height="3" fill="#472e7c"/>
<rect x="216" y="118" width="9" height="3" fill="#472a7a"/>
<rect x="225" y="118" width="9" height="3" fill="#472e7c"/>
<rect x="234" y="118" width="10" height="3" fill="#472a7a"/>
<rect x="244" y="118" width="9" height="3" fill="#472f7d"/>
<rect x="253" y="118" width="9" height="3" fill="#46327e"/>
<rect x="262" y="118" width="9" height="3" fill="#472a7a"/>
<rect x="271" y="118" width="10" height="3" fill="#472c7a"/>
<rect x="281" y="118" width="9" height="3" fill="#472a7a"/>
<rect x="290" y="118" width="9" height="3" fill="#472c7a"/>
<rect x="299" y="118" width="9" height="3" fill="#472d7b"/>
<rect x="308" y="118" width="9" height="3" fill="#46327e"/>
<rect x="317" y="118" width="10" height="3" fill="#472f7d"/>
<rect x="327" y="118" width="9" height="3" fill="#472d7b"/>
<rect x="336" y="118" width="9" height="3" fill="#46307e"/>
<rect x="345" y="118" width="19" height="3" fill="#472e7c"/>
<rect x="364" y="118" width="9" height="3" fill="#472f7d"/>
<rect x="373" y="118" width="9" height="3" fill="#472e7c"/>
<rect x="382" y="118" width="9" height="3" fill="#472f7d"/>
<rect x="391" y="118" width="10" height="3" fill="#46307e"/>
<rect x="401" y="118" width="9" height="3" fill="#472a7a"/>
<rect x="410" y="118" width="9" height="3" fill="#472d7b"/>
<rect x="419" y="118" width="9" height="3" fill="#46327e"/>
<rect x="428" y="118" width="9" height="3" fill="#46307e"/>
<rect x="437" y="118" width="10" height="3" fill="#472f7d"/>
<rect x="447" y="118" width="9" height="3" fill="#46307e"/>
<rect x="456" y="118" width="9" height="3" fill="#46327e"/>
<rect x="465" y="118" width="19" height="3" fill="#472e7c"/>
<rect x="484" y="118" width="9" height="3" fill="#472c7a"/>
<rect x="493" y="118" width="9" height="3" fill="#472d7b"/>
<rect x="77" y="115" width="10" height="3" fill="#46327e"/>
<rect x="87" y="115" width="9" height="3" fill="#46327e"/>
<rect x="96" y="115" width="9" height="3" fill="#46307e"/>
<rect x="105" y="115" width="9" height="3" fill="#472f7d"/>
<rect x="114" y="115" width="10" height="3" fill="#453581"/>
<rect x="124" y="115" width="9" height="3" fill="#453781"/>
<rect x="133" y="115" width="9" height="3" fill="#463480"/>
<rect x="142" y="115" width="9" height="3" fill="#46337f"/>
<rect x="151" y="115" width="10" height="3" fill="#453882"/>
<rect x="161" y="115" width="9" height="3" fill="#453781"/>
<rect x="170" y="115" width="9" height="3" fill="#453581"/>
<rect x="179" y="115" width="9" height="3" fill="#46337f"/>
<rect x="188" y="115" width="19" height="3" fill="#46327e"/>
<rect x="207" y="115" width="9" height="3" fill="#46327e"/>
<rect x="216" y="115" width="9" height="3" fill="#472e7c"/>
<rect x="225" y="115" width="9" height="3" fill="#46327e"/>
<rect x="234" y="115" width="10" height="3" fill="#472f7d"/>
<rect x="244" y="115" width="18" height="3" fill="#463480"/>
<rect x="262" y="115" width="9" height="3" fill="#472e7c"/>
<rect x="271" y="115" width="10" height="3" fill="#46307e"/>
<rect x="281" y="115" width="9" height="3" fill="#472f7d"/>
<rect x="290" y="115" width="9" height="3" fill="#46307e"/>
<rect x="299" y="115" width="9" height="3" fill="#46327e"/>
<rect x="308" y="115" width="9" height="3" fill="#453581"/>
<rect x="317" y="115" width="10" height="3" fill="#46327e"/>
<rect x="327" y="115" width="9" height="3" fill="#46327e"/>
<rect x="336" y="115" width="9" height="3" fill="#463480"/>
<rect x="345" y="115" width="19" height="3" fill="#46327e"/>
<rect x="364" y="115" width="37" height="3" fill="#46337f"/>
<rect x="401" y="115" width="9" height="3" fill="#472f7d"/>
<rect x="410" y="115" width="9" height="3" fill="#46327e"/>
<rect x="419" y="115" width="9" height="3" fill="#453882"/>
<rect x="428" y="115" width="28" height="3" fill="#463480"/>
<rect x="456" y="115" width="9" height="3" fill="#453581"/>
<rect x="465" y="115" width="19" height="3" fill="#46327e"/>
<rect x="484" y="115" width="9" height="3" fill="#46307e"/>
<rect x="493" y="115" width="9" height="3" fill="#46327e"/>
<rect x="77" y="111" width="10" height="4" fill="#443983"/>
<rect x="87" y="111" width="9" height="4" fill="#453882"/>
<rect x="96" y="111" width="18" height="4" fill="#453781"/>
<rect x="114" y="111" width="10" height="4" fill="#443b84"/>
<rect x="124" y="111" width="9" height="4" fill="#433e85"/>
<rect x="133" y="111" width="18" height="4" fill="#443983"/>
<rect x="151" y="111" width="10" height="4" fill="#423f85"/>
<rect x="161" y="111" width="18" height="4" fill="#443b84"/>
<rect x="179" y="111" width="28" height="4" fill="#443983"/>
<rect x="207" y="111" width="9" height="4" fill="#453882"/>
<rect x="216" y="111" width="9" height="4" fill="#46337f"/>
<rect x="225" y="111" width="9" height="4" fill="#453882"/>
<rect x="234" y="111" width="10" height="4" fill="#453781"/>
<rect x="244" y="111" width="9" height="4" fill="#443a83"/>
<rect x="253" y="111" width="9" height="4" fill="#443b84"/>
<rect x="262" y="111" width="9" height="4" fill="#453581"/>
<rect x="271" y="111" width="10" height="4" fill="#453781"/>
<rect x="281" y="111" width="9" height="4" fill="#453882"/>
<rect x="290" y="111" width="9" height="4" fill="#453781"/>
<rect x="299" y="111" width="9" height="4" fill="#443983"/>
<rect x="308" y="111" width="9" height="4" fill="#443b84"/>
<rect x="317" y="111" width="10" height="4" fill="#443983"/>
<rect x="327" y="111" width="9" height="4" fill="#453882"/>
<rect x="336" y="111" width="9" height="4" fill="#443b84"/>
<rect x="345" y="111" width="19" height="4" fill="#443983"/>
<rect x="364" y="111" width="9" height="4" fill="#443a83"/>
<rect x="373" y="111" width="9" height="4" fill="#443983"/>
<rect x="382" y="111" width="9" height="4" fill="#443a83"/>
<rect x="391" y="111" width="10" height="4" fill="#443983"/>
<rect x="401" y="111" width="9" height="4" fill="#453581"/>
<rect x="410" y="111" width="9" height="4" fill="#443983"/>
<rect x="419" y="111" width="9" height="4" fill="#433d84"/>
<rect x="428" y="111" width="19" height="4" fill="#443a83"/>
<rect x="447" y="111" width="9" height="4" fill="#443983"/>
<rect x="456" y="111" width="9" height="4" fill="#443b84"/>
<rect x="465" y="111" width="9" height="4" fill="#453882"/>
<rect x="474" y="111" width="10" height="4" fill="#443983"/>
<rect x="484" y="111" width="18" height="4" fill="#453882"/>
<rect x="77" y="108" width="10" height="3" fill="#424186"/>
<rect x="87" y="108" width="9" height="3" fill="#424086"/>
<rect x="96" y="108" width="18" height="3" fill="#423f85"/>
<rect x="114" y="108" width="10" height="3" fill="#414487"/>
<rect x="124" y="108" width="9" height="3" fill="#404688"/>
<rect x="133" y="108" width="18" height="3" fill="#424186"/>
<rect x="151" y="108" width="19" height="3" fill="#414487"/>
<rect x="170" y="108" width="9" height="3" fill="#404588"/>
<rect x="179" y="108" width="28" height="3" fill="#424186"/>
<rect x="207" y="108" width="9" height="3" fill="#424086"/>
<rect x="216" y="108" width="9" height="3" fill="#443b84"/>
<rect x="225" y="108" width="19" height="3" fill="#424086"/>
<rect x="244" y="108" width="9" height="3" fill="#424186"/>
<rect x="253" y="108" width="9" height="3" fill="#414487"/>
<rect x="262" y="108" width="9" height="3" fill="#433d84"/>
<rect x="271" y="108" width="10" height="3" fill="#433e85"/>
<rect x="281" y="108" width="9" height="3" fill="#424086"/>
<rect x="290" y="108" width="9" height="3" fill="#423f85"/>
<rect x="299" y="108" width="9" height="3" fill="#424186"/>
<rect x="308" y="108" width="9" height="3" fill="#414287"/>
<rect x="317" y="108" width="10" height="3" fill="#424186"/>
<rect x="327" y="108" width="9" height="3" fill="#424086"/>
<rect x="336" y="108" width="9" height="3" fill="#404588"/>
<rect x="345" y="108" width="9" height="3" fill="#424086"/>
<rect x="354" y="108" width="10" height="3" fill="#414287"/>
<rect x="364" y="108" width="9" height="3" fill="#414487"/>
<rect x="373" y="108" width="9" height="3" fill="#424186"/>
<rect x="382" y="108" width="9" height="3" fill="#414287"/>
<rect x="391" y="108" width="10" height="3" fill="#424086"/>
<rect x="401" y="108" width="9" height="3" fill="#433d84"/>
<rect x="410" y="108" width="9" height="3" fill="#424186"/>
<rect x="419" y="108" width="28" height="3" fill="#404588"/>
<rect x="447" y="108" width="9" height="3" fill="#424086"/>
<rect x="456" y="108" width="9" height="3" fill="#404588"/>
<rect x="465" y="108" width="19" height="3" fill="#424086"/>
<rect x="484" y="108" width="18" height="3" fill="#424086"/>
<rect x="77" y="105" width="10" height="3" fill="#404688"/>
<rect x="87" y="105" width="18" height="3" fill="#414287"/>
<rect x="105" y="105" width="9" height="3" fill="#424186"/>
<rect x="114" y="105" width="10" height="3" fill="#3f4788"/>
<rect x="124" y="105" width="9" height="3" fill="#3e4989"/>
<rect x="133" y="105" width="9" height="3" fill="#3f4788"/>
<rect x="142" y="105" width="9" height="3" fill="#404688"/>
<rect x="151" y="105" width="10" height="3" fill="#3f4788"/>
<rect x="161" y="105" width="9" height="3" fill="#3f4788"/>
<rect x="170" y="105" width="9" height="3" fill="#3f4889"/>
<rect x="179" y="105" width="28" height="3" fill="#404688"/>
<rect x="207" y="105" width="9" height="3" fill="#404588"/>
<rect x="216" y="105" width="9" height="3" fill="#424086"/>
<rect x="225" y="105" width="9" height="3" fill="#414287"/>
<rect x="234" y="105" width="10" height="3" fill="#414487"/>
<rect x="244" y="105" width="9" height="3" fill="#404688"/>
<rect x="253" y="105" width="9" height="3" fill="#3f4788"/>
<rect x="262" y="105" width="9" height="3" fill="#424086"/>
<rect x="271" y="105" width="10" height="3" fill="#424186"/>
<rect x="281" y="105" width="9" height="3" fill="#404588"/>
<rect x="290" y="105" width="9" height="3" fill="#414287"/>
<rect x="299" y="105" width="9" height="3" fill="#404588"/>
<rect x="308" y="105" width="9" height="3" fill="#404688"/>
<rect x="317" y="105" width="19" height="3" fill="#404588"/>
<rect x="336" y="105" width="9" height="3" fill="#3f4788"/>
<rect x="345" y="105" width="9" height="3" fill="#404588"/>
<rect x="354" y="105" width="10" height="3" fill="#404688"/>
<rect x="364" y="105" width="9" height="3" fill="#3f4788"/>
<rect x="373" y="105" width="9" height="3" fill="#404588"/>
<rect x="382" y="105" width="9" height="3" fill="#3f4788"/>
<rect x="391" y="105" width="10" height="3" fill="#404588"/>
<rect x="401" y="105" width="9" height="3" fill="#424086"/>
<rect x="410" y="105" width="9" height="3" fill="#404688"/>
<rect x="419" y="105" width="9" height="3" fill="#3f4889"/>
<rect x="428" y="105" width="9" height="3" fill="#3f4788"/>
<rect x="437" y="105" width="10" height="3" fill="#3f4889"/>
<rect x="447" y="105" width="9" height="3" fill="#414487"/>
<rect x="456" y="105" width="9" height="3" fill="#3f4889"/>
<rect x="465" y="105" width="28" height="3" fill="#404588"/>
<rect x="493" y="105" width="9" height="3" fill="#414287"/>
<rect x="77" y="101" width="10" height="4" fill="#3e4c8a"/>
<rect x="87" y="101" width="18" height="4" fill="#3f4889"/>
<rect x="105" y="101" width="9" height="4" fill="#3f4788"/>
<rect x="114" y="101" width="10" height="4" fill="#3d4e8a"/>
<rect x="124" y="101" width="9" height="4" fill="#3c4f8a"/>
<rect x="133" y="101" width="28" height="4" fill="#3d4d8a"/>
<rect x="161" y="101" width="9" height="4" fill="#3d4e8a"/>
<rect x="170" y="101" width="9" height="4" fill="#3c4f8a"/>
<rect x="179" y="101" width="9" height="4" fill="#3e4c8a"/>
<rect x="188" y="101" width="19" height="4" fill="#3d4d8a"/>
<rect x="207" y="101" width="9" height="4" fill="#3e4a89"/>
<rect x="216" y="101" width="9" height="4" fill="#3f4788"/>
<rect x="225" y="101" width="9" height="4" fill="#3e4989"/>
<rect x="234" y="101" width="19" height="4" fill="#3e4a89"/>
<rect x="253" y="101" width="9" height="4" fill="#3d4e8a"/>
<rect x="262" y="101" width="9" height="4" fill="#404688"/>
<rect x="271" y="101" width="10" height="4" fill="#3f4788"/>
<rect x="281" y="101" width="9" height="4" fill="#3e4a89"/>
<rect x="290" y="101" width="9" height="4" fill="#3f4788"/>
<rect x="299" y="101" width="9" height="4" fill="#3e4a89"/>
<rect x="308" y="101" width="9" height="4" fill="#3d4d8a"/>
<rect x="317" y="101" width="19" height="4" fill="#3e4c8a"/>
<rect x="336" y="101" width="9" height="4" fill="#3d4e8a"/>
<rect x="345" y="101" width="19" height="4" fill="#3e4c8a"/>
<rect x="364" y="101" width="9" height="4" fill="#3d4e8a"/>
<rect x="373" y="101" width="9" height="4" fill="#3e4c8a"/>
<rect x="382" y="101" width="9" height="4" fill="#3d4d8a"/>
<rect x="391" y="101" width="10" height="4" fill="#3e4a89"/>
<rect x="401" y="101" width="9" height="4" fill="#404688"/>
<rect x="410" y="101" width="9" height="4" fill="#3e4c8a"/>
<rect x="419" y="101" width="9" height="4" fill="#3d4e8a"/>
<rect x="428" y="101" width="9" height="4" fill="#3c4f8a"/>
<rect x="437" y="101" width="10" height="4" fill="#3d4e8a"/>
<rect x="447" y="101" width="9" height="4" fill="#3e4a89"/>
<rect x="456" y="101" width="9" height="4" fill="#3d4e8a"/>
<rect x="465" y="101" width="9" height="4" fill="#3e4c8a"/>
<rect x="474" y="101" width="10" height="4" fill="#3e4a89"/>
<rect x="484" y="101" width="9" height="4" fill="#3e4c8a"/>
<rect x="493" y="101" width="9" height="4" fill="#3f4889"/>
<rect x="77" y="98" width="10" height="3" fill="#3d4e8a"/>
<rect x="87" y="98" width="9" height="3" fill="#3d4d8a"/>
<rect x="96" y="98" width="9" height="3" fill="#3d4e8a"/>
<rect x="105" y="98" width="9" height="3" fill="#3e4989"/>
<rect x="114" y="98" width="10" height="3" fill="#3c508b"/>
<rect x="124" y="98" width="9" height="3" fill="#3b528b"/>
<rect x="133" y="98" width="9" height="3" fill="#3c4f8a"/>
<rect x="142" y="98" width="19" height="3" fill="#3c508b"/>
<rect x="161" y="98" width="18" height="3" fill="#3b528b"/>
<rect x="179" y="98" width="28" height="3" fill="#3c508b"/>
<rect x="207" y="98" width="9" height="3" fill="#3d4e8a"/>
<rect x="216" y="98" width="9" height="3" fill="#3e4c8a"/>
<rect x="225" y="98" width="19" height="3" fill="#3d4e8a"/>
<rect x="244" y="98" width="9" height="3" fill="#3d4e8a"/>
<rect x="253" y="98" width="9" height="3" fill="#3b518b"/>
<rect x="262" y="98" width="9" height="3" fill="#3e4989"/>
<rect x="271" y="98" width="10" height="3" fill="#3d4d8a"/>
<rect x="281" y="98" width="9" height="3" fill="#3d4e8a"/>
<rect x="290" y="98" width="9" height="3" fill="#3e4c8a"/>
<rect x="299" y="98" width="9" height="3" fill="#3c4f8a"/>
<rect x="308" y="98" width="9" height="3" fill="#3c508b"/>
<rect x="317" y="98" width="10" height="3" fill="#3d4e8a"/>
<rect x="327" y="98" width="9" height="3" fill="#3c508b"/>
<rect x="336" y="98" width="9" height="3" fill="#3b518b"/>
<rect x="345" y="98" width="9" height="3" fill="#3c508b"/>
<rect x="354" y="98" width="10" height="3" fill="#3c4f8a"/>
<rect x="364" y="98" width="9" height="3" fill="#3b518b"/>
<rect x="373" y="98" width="9" height="3" fill="#3c4f8a"/>
<rect x="382" y="98" width="9" height="3" fill="#3c508b"/>
<rect x="391" y="98" width="10" height="3" fill="#3c4f8a"/>
<rect x="401" y="98" width="9" height="3" fill="#3f4889"/>
<rect x="410" y="98" width="9" height="3" fill="#3c4f8a"/>
<rect x="419" y="98" width="18" height="3" fill="#3a538b"/>
<rect x="437" y="98" width="10" height="3" fill="#3b518b"/>
<rect x="447" y="98" width="9" height="3" fill="#3d4e8a"/>
<rect x="456" y="98" width="9" height="3" fill="#3b518b"/>
<rect x="465" y="98" width="19" height="3" fill="#3d4e8a"/>
<rect x="484" y="98" width="9" height="3" fill="#3c4f8a"/>
<rect x="493" y="98" width="9" height="3" fill="#3e4c8a"/>
<rect x="77" y="95" width="10" height="3" fill="#3a538b"/>
<rect x="87" y="95" width="9" height="3" fill="#3c508b"/>
<rect x="96" y="95" width="9" height="3" fill="#3a538b"/>
<rect x="105" y="95" width="9" height="3" fill="#3d4e8a"/>
<rect x="114" y="95" width="10" height="3" fill="#3a548c"/>
<rect x="124" y="95" width="9" height="3" fill="#39568c"/>
<rect x="133" y="95" width="18" height="3" fill="#3a548c"/>
<rect x="151" y="95" width="19" height="3" fill="#39558c"/>
<rect x="170" y="95" width="9" height="3" fill="#39568c"/>
<rect x="179" y="95" width="9" height="3" fill="#3a548c"/>
<rect x="188" y="95" width="9" height="3" fill="#39558c"/>
<rect x="197" y="95" width="10" height="3" fill="#39558c"/>
<rect x="207" y="95" width="9" height="3" fill="#3b518b"/>
<rect x="216" y="95" width="9" height="3" fill="#3c4f8a"/>
<rect x="225" y="95" width="9" height="3" fill="#3b518b"/>
<rect x="234" y="95" width="10" height="3" fill="#3b528b"/>
<rect x="244" y="95" width="9" height="3" fill="#3b518b"/>
<rect x="253" y="95" width="9" height="3" fill="#39558c"/>
<rect x="262" y="95" width="9" height="3" fill="#3d4e8a"/>
<rect x="271" y="95" width="10" height="3" fill="#3b518b"/>
<rect x="281" y="95" width="9" height="3" fill="#3a538b"/>
<rect x="290" y="95" width="9" height="3" fill="#3c508b"/>
<rect x="299" y="95" width="18" height="3" fill="#3a548c"/>
<rect x="317" y="95" width="10" height="3" fill="#3a538b"/>
<rect x="327" y="95" width="18" height="3" fill="#39558c"/>
<rect x="345" y="95" width="9" height="3" fill="#39558c"/>
<rect x="354" y="95" width="10" height="3" fill="#39558c"/>
<rect x="364" y="95" width="9" height="3" fill="#39568c"/>
<rect x="373" y="95" width="18" height="3" fill="#3a548c"/>
<rect x="391" y="95" width="10" height="3" fill="#3a538b"/>
<rect x="401" y="95" width="9" height="3" fill="#3d4d8a"/>
<rect x="410" y="95" width="9" height="3" fill="#3a538b"/>
<rect x="419" y="95" width="18" height="3" fill="#39568c"/>
<rect x="437" y="95" width="10" height="3" fill="#39558c"/>
<rect x="447" y="95" width="9" height="3" fill="#3a538b"/>
<rect x="456" y="95" width="9" height="3" fill="#39558c"/>
<rect x="465" y="95" width="9" height="3" fill="#3a538b"/>
<rect x="474" y="95" width="10" height="3" fill="#3b518b"/>
<rect x="484" y="95" width="9" height="3" fill="#3a548c"/>
<rect x="493" y="95" width="9" height="3" fill="#3b518b"/>
<rect x="77" y="91" width="10" height="4" fill="#39558c"/>
<rect x="87" y="91" width="9" height="4" fill="#3a538b"/>
<rect x="96" y="91" width="9" height="4" fill="#39558c"/>
<rect x="105" y="91" width="9" height="4" fill="#3c4f8a"/>
<rect x="114" y="91" width="10" height="4" fill="#39568c"/>
<rect x="124" y="91" width="9" height="4" fill="#38598c"/>
<rect x="133" y="91" width="9" height="4" fill="#39568c"/>
<rect x="142" y="91" width="9" height="4" fill="#39558c"/>
<rect x="151" y="91" width="19" height="4" fill="#38588c"/>
<rect x="170" y="91" width="9" height="4" fill="#375a8c"/>
<rect x="179" y="91" width="9" height="4" fill="#39568c"/>
<rect x="188" y="91" width="9" height="4" fill="#38588c"/>
<rect x="197" y="91" width="10" height="4" fill="#38598c"/>
<rect x="207" y="91" width="9" height="4" fill="#3a548c"/>
<rect x="216" y="91" width="9" height="4" fill="#3b518b"/>
<rect x="225" y="91" width="9" height="4" fill="#3b528b"/>
<rect x="234" y="91" width="10" height="4" fill="#39558c"/>
<rect x="244" y="91" width="9" height="4" fill="#3a548c"/>
<rect x="253" y="91" width="9" height="4" fill="#38588c"/>
<rect x="262" y="91" width="9" height="4" fill="#3c4f8a"/>
<rect x="271" y="91" width="10" height="4" fill="#3a538b"/>
<rect x="281" y="91" width="9" height="4" fill="#39558c"/>
<rect x="290" y="91" width="9" height="4" fill="#3a538b"/>
<rect x="299" y="91" width="9" height="4" fill="#39568c"/>
<rect x="308" y="91" width="9" height="4" fill="#39558c"/>
<rect x="317" y="91" width="10" height="4" fill="#39558c"/>
<rect x="327" y="91" width="9" height="4" fill="#39568c"/>
<rect x="336" y="91" width="9" height="4" fill="#38588c"/>
<rect x="345" y="91" width="9" height="4" fill="#38598c"/>
<rect x="354" y="91" width="10" height="4" fill="#39568c"/>
<rect x="364" y="91" width="9" height="4" fill="#375a8c"/>
<rect x="373" y="91" width="28" height="4" fill="#39558c"/>
<rect x="401" y="91" width="9" height="4" fill="#3d4e8a"/>
<rect x="410" y="91" width="9" height="4" fill="#39558c"/>
<rect x="419" y="91" width="18" height="4" fill="#375a8c"/>
<rect x="437" y="91" width="10" height="4" fill="#38598c"/>
<rect x="447" y="91" width="9" height="4" fill="#3a548c"/>
<rect x="456" y="91" width="9" height="4" fill="#38598c"/>
<rect x="465" y="91" width="9" height="4" fill="#39558c"/>
<rect x="474" y="91" width="10" height="4" fill="#3a548c"/>
<rect x="484" y="91" width="9" height="4" fill="#39568c"/>
<rect x="493" y="91" width="9" height="4" fill="#3b528b"/>
<rect x="77" y="88" width="10" height="3" fill="#38588c"/>
<rect x="87" y="88" width="9" height="3" fill="#39558c"/>
<rect x="96" y="88" width="9" height="3" fill="#39568c"/>
<rect x="105" y="88" width="9" height="3" fill="#3a548c"/>
<rect x="114" y="88" width="10" height="3" fill="#375a8c"/>
<rect x="124" y="88" width="9" height="3" fill="#375b8d"/>
<rect x="133" y="88" width="9" height="3" fill="#38598c"/>
<rect x="142" y="88" width="9" height="3" fill="#38588c"/>
<rect x="151" y="88" width="19" height="3" fill="#375a8c"/>
<rect x="170" y="88" width="9" height="3" fill="#365c8d"/>
<rect x="179" y="88" width="18" height="3" fill="#38598c"/>
<rect x="197" y="88" width="10" height="3" fill="#365c8d"/>
<rect x="207" y="88" width="9" height="3" fill="#38588c"/>
<rect x="216" y="88" width="9" height="3" fill="#39558c"/>
<rect x="225" y="88" width="9" height="3" fill="#39558c"/>
<rect x="234" y="88" width="10" height="3" fill="#38598c"/>
<rect x="244" y="88" width="9" height="3" fill="#39558c"/>
<rect x="253" y="88" width="9" height="3" fill="#365c8d"/>
<rect x="262" y="88" width="9" height="3" fill="#3a538b"/>
<rect x="271" y="88" width="10" height="3" fill="#39558c"/>
<rect x="281" y="88" width="9" height="3" fill="#39568c"/>
<rect x="290" y="88" width="9" height="3" fill="#39558c"/>
<rect x="299" y="88" width="9" height="3" fill="#38588c"/>
<rect x="308" y="88" width="19" height="3" fill="#38598c"/>
<rect x="327" y="88" width="9" height="3" fill="#375a8c"/>
<rect x="336" y="88" width="9" height="3" fill="#375b8d"/>
<rect x="345" y="88" width="9" height="3" fill="#365c8d"/>
<rect x="354" y="88" width="10" height="3" fill="#38588c"/>
<rect x="364" y="88" width="9" height="3" fill="#365c8d"/>
<rect x="373" y="88" width="9" height="3" fill="#38588c"/>
<rect x="382" y="88" width="19" height="3" fill="#38598c"/>
<rect x="401" y="88" width="9" height="3" fill="#3c508b"/>
<rect x="410" y="88" width="9" height="3" fill="#38598c"/>
<rect x="419" y="88" width="9" height="3" fill="#375b8d"/>
<rect x="428" y="88" width="9" height="3" fill="#365c8d"/>
<rect x="437" y="88" width="10" height="3" fill="#365c8d"/>
<rect x="447" y="88" width="9" height="3" fill="#38598c"/>
<rect x="456" y="88" width="9" height="3" fill="#365c8d"/>
<rect x="465" y="88" width="9" height="3" fill="#39558c"/>
<rect x="474" y="88" width="10" height="3" fill="#39568c"/>
<rect x="484" y="88" width="9" height="3" fill="#38598c"/>
<rect x="493" y="88" width="9" height="3" fill="#39558c"/>
<rect x="77" y="85" width="10" height="3" fill="#38598c"/>
<rect x="87" y="85" width="18" height="3" fill="#39568c"/>
<rect x="105" y="85" width="9" height="3" fill="#39558c"/>
<rect x="114" y="85" width="10" height="3" fill="#365c8d"/>
<rect x="124" y="85" width="9" height="3" fill="#375b8d"/>
<rect x="133" y="85" width="9" height="3" fill="#375a8c"/>
<rect x="142" y="85" width="9" height="3" fill="#38598c"/>
<rect x="151" y="85" width="10" height="3" fill="#375a8c"/>
<rect x="161" y="85" width="9" height="3" fill="#375b8d"/>
<rect x="170" y="85" width="9" height="3" fill="#365d8d"/>
<rect x="179" y="85" width="9" height="3" fill="#375a8c"/>
<rect x="188" y="85" width="9" height="3" fill="#38598c"/>
<rect x="197" y="85" width="10" height="3" fill="#365d8d"/>
<rect x="207" y="85" width="9" height="3" fill="#38598c"/>
<rect x="216" y="85" width="18" height="3" fill="#39568c"/>
<rect x="234" y="85" width="10" height="3" fill="#375b8d"/>
<rect x="244" y="85" width="9" height="3" fill="#39558c"/>
<rect x="253" y="85" width="9" height="3" fill="#365c8d"/>
<rect x="262" y="85" width="9" height="3" fill="#3a548c"/>
<rect x="271" y="85" width="19" height="3" fill="#39568c"/>
<rect x="290" y="85" width="9" height="3" fill="#39558c"/>
<rect x="299" y="85" width="18" height="3" fill="#38598c"/>
<rect x="317" y="85" width="10" height="3" fill="#375a8c"/>
<rect x="327" y="85" width="18" height="3" fill="#375b8d"/>
<rect x="345" y="85" width="9" height="3" fill="#365d8d"/>
<rect x="354" y="85" width="10" height="3" fill="#38598c"/>
<rect x="364" y="85" width="9" height="3" fill="#365c8d"/>
<rect x="373" y="85" width="9" height="3" fill="#38588c"/>
<rect x="382" y="85" width="19" height="3" fill="#375a8c"/>
<rect x="401" y="85" width="9" height="3" fill="#3b518b"/>
<rect x="410" y="85" width="9" height="3" fill="#375a8c"/>
<rect x="419" y="85" width="9" height="3" fill="#365c8d"/>
<rect x="428" y="85" width="19" height="3" fill="#365c8d"/>
<rect x="447" y="85" width="9" height="3" fill="#38598c"/>
<rect x="456" y="85" width="9" height="3" fill="#365d8d"/>
<rect x="465" y="85" width="9" height="3" fill="#39558c"/>
<rect x="474" y="85" width="10" height="3" fill="#38588c"/>
<rect x="484" y="85" width="9" height="3" fill="#375a8c"/>
<rect x="493" y="85" width="9" height="3" fill="#39568c"/>
<rect x="77" y="81" width="10" height="4" fill="#365c8d"/>
<rect x="87" y="81" width="9" height="4" fill="#365c8d"/>
<rect x="96" y="81" width="18" height="4" fill="#375a8c"/>
<rect x="114" y="81" width="19" height="4" fill="#355e8d"/>
<rect x="133" y="81" width="9" height="4" fill="#365c8d"/>
<rect x="142" y="81" width="9" height="4" fill="#365c8d"/>
<rect x="151" y="81" width="19" height="4" fill="#355f8d"/>
<rect x="170" y="81" width="9" height="4" fill="#34618d"/>
<rect x="179" y="81" width="18" height="4" fill="#365d8d"/>
<rect x="197" y="81" width="10" height="4" fill="#34608d"/>
<rect x="207" y="81" width="9" height="4" fill="#365c8d"/>
<rect x="216" y="81" width="9" height="4" fill="#375b8d"/>
<rect x="225" y="81" width="9" height="4" fill="#375a8c"/>
<rect x="234" y="81" width="10" height="4" fill="#355e8d"/>
<rect x="244" y="81" width="9" height="4" fill="#375b8d"/>
<rect x="253" y="81" width="9" height="4" fill="#355f8d"/>
<rect x="262" y="81" width="9" height="4" fill="#38598c"/>
<rect x="271" y="81" width="10" height="4" fill="#375b8d"/>
<rect x="281" y="81" width="9" height="4" fill="#375a8c"/>
<rect x="290" y="81" width="9" height="4" fill="#375b8d"/>
<rect x="299" y="81" width="9" height="4" fill="#365c8d"/>
<rect x="308" y="81" width="9" height="4" fill="#365c8d"/>
<rect x="317" y="81" width="10" height="4" fill="#355e8d"/>
<rect x="327" y="81" width="9" height="4" fill="#34608d"/>
<rect x="336" y="81" width="9" height="4" fill="#355e8d"/>
<rect x="345" y="81" width="9" height="4" fill="#33628d"/>
<rect x="354" y="81" width="10" height="4" fill="#365c8d"/>
<rect x="364" y="81" width="9" height="4" fill="#34608d"/>
<rect x="373" y="81" width="9" height="4" fill="#365c8d"/>
<rect x="382" y="81" width="9" height="4" fill="#355e8d"/>
<rect x="391" y="81" width="10" height="4" fill="#365c8d"/>
<rect x="401" y="81" width="9" height="4" fill="#39568c"/>
<rect x="410" y="81" width="9" height="4" fill="#365d8d"/>
<rect x="419" y="81" width="9" height="4" fill="#355e8d"/>
<rect x="428" y="81" width="9" height="4" fill="#34608d"/>
<rect x="437" y="81" width="10" height="4" fill="#355f8d"/>
<rect x="447" y="81" width="9" height="4" fill="#365d8d"/>
<rect x="456" y="81" width="9" height="4" fill="#34608d"/>
<rect x="465" y="81" width="9" height="4" fill="#375a8c"/>
<rect x="474" y="81" width="10" height="4" fill="#365d8d"/>
<rect x="484" y="81" width="9" height="4" fill="#355e8d"/>
<rect x="493" y="81" width="9" height="4" fill="#365c8d"/>
<rect x="77" y="78" width="10" height="3" fill="#365c8d"/>
<rect x="87" y="78" width="9" height="3" fill="#365c8d"/>
<rect x="96" y="78" width="18" height="3" fill="#375a8c"/>
<rect x="114" y="78" width="19" height="3" fill="#355e8d"/>
<rect x="133" y="78" width="9" height="3" fill="#365c8d"/>
<rect x="142" y="78" width="9" height="3" fill="#365c8d"/>
<rect x="151" y="78" width="19" height="3" fill="#355f8d"/>
<rect x="170" y="78" width="9" height="3" fill="#34618d"/>
<rect x="179" y="78" width="18" height="3" fill="#365d8d"/>
<rect x="197" y="78" width="10" height="3" fill="#34608d"/>
<rect x="207" y="78" width="9" height="3" fill="#365c8d"/>
<rect x="216" y="78" width="9" height="3" fill="#375b8d"/>
<rect x="225" y="78" width="9" height="3" fill="#375a8c"/>
<rect x="234" y="78" width="10" height="3" fill="#355e8d"/>
<rect x="244" y="78" width="9" height="3" fill="#375b8d"/>
<rect x="253" y="78" width="9" height="3" fill="#355f8d"/>
<rect x="262" y="78" width="9" height="3" fill="#38598c"/>
<rect x="271" y="78" width="10" height="3" fill="#375b8d"/>
<rect x="281" y="78" width="9" height="3" fill="#375a8c"/>
<rect x="290" y="78" width="9" height="3" fill="#375b8d"/>
<rect x="299" y="78" width="9" height="3" fill="#365c8d"/>
<rect x="308" y="78" width="9" height="3" fill="#365c8d"/>
<rect x="317" y="78" width="10" height="3" fill="#355e8d"/>
<rect x="327" y="78" width="9" height="3" fill="#34608d"/>
<rect x="336" y="78" width="9" height="3" fill="#355e8d"/>
<rect x="345" y="78" width="9" height="3" fill="#33628d"/>
<rect x="354" y="78" width="10" height="3" fill="#365c8d"/>
<rect x="364" y="78" width="9" height="3" fill="#34608d"/>
<rect x="373" y="78" width="9" height="3" fill="#365c8d"/>
<rect x="382" y="78" width="9" height="3" fill="#355e8d"/>
<rect x="391" y="78" width="10" height="3" fill="#365c8d"/>
<rect x="401" y="78" width="9" height="3" fill="#39568c"/>
<rect x="410" y="78" width="9" height="3" fill="#365d8d"/>
<rect x="419" y="78" width="9" height="3" fill="#355e8d"/>
<rect x="428" y="78" width="9" height="3" fill="#34608d"/>
<rect x="437" y="78" width="10" height="3" fill="#355f8d"/>
<rect x="447" y="78" width="9" height="3" fill="#365d8d"/>
<rect x="456" y="78" width="9" height="3" fill="#34608d"/>
<rect x="465" y="78" width="9" height="3" fill="#375a8c"/>
<rect x="474" y="78" width="10" height="3" fill="#365d8d"/>
<rect x="484" y="78" width="9" height="3" fill="#355e8d"/>
<rect x="493" y="78" width="9" height="3" fill="#365c8d"/>
<rect x="77" y="75" width="10" height="3" fill="#355e8d"/>
<rect x="87" y="75" width="9" height="3" fill="#365d8d"/>
<rect x="96" y="75" width="9" height="3" fill="#375b8d"/>
<rect x="105" y="75" width="9" height="3" fill="#365c8d"/>
<rect x="114" y="75" width="19" height="3" fill="#34608d"/>
<rect x="133" y="75" width="18" height="3" fill="#365d8d"/>
<rect x="151" y="75" width="10" height="3" fill="#33628d"/>
<rect x="161" y="75" width="9" height="3" fill="#34608d"/>
<rect x="170" y="75" width="9" height="3" fill="#33628d"/>
<rect x="179" y="75" width="18" height="3" fill="#355f8d"/>
<rect x="197" y="75" width="10" height="3" fill="#34618d"/>
<rect x="207" y="75" width="9" height="3" fill="#355e8d"/>
<rect x="216" y="75" width="18" height="3" fill="#365c8d"/>
<rect x="234" y="75" width="10" height="3" fill="#34608d"/>
<rect x="244" y="75" width="9" height="3" fill="#365c8d"/>
<rect x="253" y="75" width="9" height="3" fill="#34618d"/>
<rect x="262" y="75" width="9" height="3" fill="#365c8d"/>
<rect x="271" y="75" width="10" height="3" fill="#375b8d"/>
<rect x="281" y="75" width="9" height="3" fill="#365c8d"/>
<rect x="290" y="75" width="9" height="3" fill="#365d8d"/>
<rect x="299" y="75" width="9" height="3" fill="#355e8d"/>
<rect x="308" y="75" width="9" height="3" fill="#365c8d"/>
<rect x="317" y="75" width="10" height="3" fill="#34608d"/>
<rect x="327" y="75" width="9" height="3" fill="#33628d"/>
<rect x="336" y="75" width="9" height="3" fill="#34618d"/>
<rect x="345" y="75" width="9" height="3" fill="#33638d"/>
<rect x="354" y="75" width="10" height="3" fill="#355e8d"/>
<rect x="364" y="75" width="9" height="3" fill="#33628d"/>
<rect x="373" y="75" width="9" height="3" fill="#365d8d"/>
<rect x="382" y="75" width="9" height="3" fill="#34608d"/>
<rect x="391" y="75" width="10" height="3" fill="#365d8d"/>
<rect x="401" y="75" width="9" height="3" fill="#38598c"/>
<rect x="410" y="75" width="9" height="3" fill="#355f8d"/>
<rect x="419" y="75" width="9" height="3" fill="#34618d"/>
<rect x="428" y="75" width="9" height="3" fill="#33628d"/>
<rect x="437" y="75" width="10" height="3" fill="#33628d"/>
<rect x="447" y="75" width="9" height="3" fill="#34608d"/>
<rect x="456" y="75" width="9" height="3" fill="#33628d"/>
<rect x="465" y="75" width="9" height="3" fill="#365c8d"/>
<rect x="474" y="75" width="10" height="3" fill="#355e8d"/>
<rect x="484" y="75" width="9" height="3" fill="#355f8d"/>
<rect x="493" y="75" width="9" height="3" fill="#355e8d"/>
<rect x="77" y="71" width="10" height="4" fill="#355e8d"/>
<rect x="87" y="71" width="9" height="4" fill="#365d8d"/>
<rect x="96" y="71" width="9" height="4" fill="#375b8d"/>
<rect x="105" y="71" width="9" height="4" fill="#365c8d"/>
<rect x="114" y="71" width="19" height="4" fill="#34608d"/>
<rect x="133" y="71" width="18" height="4" fill="#365d8d"/>
<rect x="151" y="71" width="10" height="4" fill="#33628d"/>
<rect x="161" y="71" width="9" height="4" fill="#34608d"/>
<rect x="170" y="71" width="9" height="4" fill="#33628d"/>
<rect x="179" y="71" width="18" height="4" fill="#355f8d"/>
<rect x="197" y="71" width="10" height="4" fill="#34618d"/>
<rect x="207" y="71" width="9" height="4" fill="#355e8d"/>
<rect x="216" y="71" width="18" height="4" fill="#365c8d"/>
<rect x="234" y="71" width="10" height="4" fill="#34608d"/>
<rect x="244" y="71" width="9" height="4" fill="#365c8d"/>
<rect x="253" y="71" width="9" height="4" fill="#34618d"/>
<rect x="262" y="71" width="9" height="4" fill="#365c8d"/>
<rect x="271" y="71" width="10" height="4" fill="#375b8d"/>
<rect x="281" y="71" width="9" height="4" fill="#365c8d"/>
<rect x="290" y="71" width="9" height="4" fill="#365d8d"/>
<rect x="299" y="71" width="9" height="4" fill="#355e8d"/>
<rect x="308" y="71" width="9" height="4" fill="#365c8d"/>
<rect x="317" y="71" width="10" height="4" fill="#34608d"/>
<rect x="327" y="71" width="9" height="4" fill="#33628d"/>
<rect x="336" y="71" width="9" height="4" fill="#34618d"/>
<rect x="345" y="71" width="9" height="4" fill="#33638d"/>
<rect x="354" y="71" width="10" height="4" fill="#355e8d"/>
<rect x="364" y="71" width="9" height="4" fill="#33628d"/>
<rect x="373" y="71" width="9" height="4" fill="#365d8d"/>
<rect x="382" y="71" width="9" height="4" fill="#34608d"/>
<rect x="391" y="71" width="10" height="4" fill="#365d8d"/>
<rect x="401" y="71" width="9" height="4" fill="#38598c"/>
<rect x="410" y="71" width="9" height="4" fill="#355f8d"/>
<rect x="419" y="71" width="9" height="4" fill="#34618d"/>
<rect x="428" y="71" width="9" height="4" fill="#33628d"/>
<rect x="437" y="71" width="10" height="4" fill="#33628d"/>
<rect x="447" y="71" width="9" height="4" fill="#34608d"/>
<rect x="456" y="71" width="9" height="4" fill="#33628d"/>
<rect x="465" y="71" width="9" height="4" fill="#365c8d"/>
<rect x="474" y="71" width="10" height="4" fill="#355e8d"/>
<rect x="484" y="71" width="9" height="4" fill="#355f8d"/>
<rect x="493" y="71" width="9" height="4" fill="#355e8d"/>
<rect x="77" y="68" width="10" height="3" fill="#31688e"/>
<rect x="87" y="68" width="9" height="3" fill="#31668e"/>
<rect x="96" y="68" width="9" height="3" fill="#33638d"/>
<rect x="105" y="68" width="9" height="3" fill="#31668e"/>
<rect x="114" y="68" width="10" height="3" fill="#306a8e"/>
<rect x="124" y="68" width="9" height="3" fill="#31688e"/>
<rect x="133" y="68" width="18" height="3" fill="#31678e"/>
<rect x="151" y="68" width="10" height="3" fill="#30698e"/>
<rect x="161" y="68" width="18" height="3" fill="#31688e"/>
<rect x="179" y="68" width="9" height="3" fill="#31678e"/>
<rect x="188" y="68" width="9" height="3" fill="#31688e"/>
<rect x="197" y="68" width="10" height="3" fill="#30698e"/>
<rect x="207" y="68" width="9" height="3" fill="#31688e"/>
<rect x="216" y="68" width="9" height="3" fill="#31678e"/>
<rect x="225" y="68" width="9" height="3" fill="#31688e"/>
<rect x="234" y="68" width="10" height="3" fill="#31688e"/>
<rect x="244" y="68" width="18" height="3" fill="#31678e"/>
<rect x="262" y="68" width="9" height="3" fill="#32648e"/>
<rect x="271" y="68" width="10" height="3" fill="#32658e"/>
<rect x="281" y="68" width="9" height="3" fill="#31668e"/>
<rect x="290" y="68" width="9" height="3" fill="#32658e"/>
<rect x="299" y="68" width="18" height="3" fill="#31668e"/>
<rect x="317" y="68" width="10" height="3" fill="#30698e"/>
<rect x="327" y="68" width="9" height="3" fill="#2f6b8e"/>
<rect x="336" y="68" width="9" height="3" fill="#31688e"/>
<rect x="345" y="68" width="9" height="3" fill="#2f6b8e"/>
<rect x="354" y="68" width="10" height="3" fill="#31668e"/>
<rect x="364" y="68" width="9" height="3" fill="#306a8e"/>
<rect x="373" y="68" width="9" height="3" fill="#32648e"/>
<rect x="382" y="68" width="9" height="3" fill="#31688e"/>
<rect x="391" y="68" width="10" height="3" fill="#31668e"/>
<rect x="401" y="68" width="9" height="3" fill="#33628d"/>
<rect x="410" y="68" width="9" height="3" fill="#31688e"/>
<rect x="419" y="68" width="28" height="3" fill="#30698e"/>
<rect x="447" y="68" width="9" height="3" fill="#31688e"/>
<rect x="456" y="68" width="9" height="3" fill="#30698e"/>
<rect x="465" y="68" width="9" height="3" fill="#32658e"/>
<rect x="474" y="68" width="10" height="3" fill="#30698e"/>
<rect x="484" y="68" width="9" height="3" fill="#31688e"/>
<rect x="493" y="68" width="9" height="3" fill="#31678e"/>
<rect x="77" y="65" width="10" height="3" fill="#31688e"/>
<rect x="87" y="65" width="9" height="3" fill="#31668e"/>
<rect x="96" y="65" width="9" height="3" fill="#33638d"/>
<rect x="105" y="65" width="9" height="3" fill="#31668e"/>
<rect x="114" y="65" width="10" height="3" fill="#306a8e"/>
<rect x="124" y="65" width="9" height="3" fill="#31688e"/>
<rect x="133" y="65" width="18" height="3" fill="#31678e"/>
<rect x="151" y="65" width="10" height="3" fill="#30698e"/>
<rect x="161" y="65" width="18" height="3" fill="#31688e"/>
<rect x="179" y="65" width="9" height="3" fill="#31678e"/>
<rect x="188" y="65" width="9" height="3" fill="#31688e"/>
<rect x="197" y="65" width="10" height="3" fill="#30698e"/>
<rect x="207" y="65" width="9" height="3" fill="#31688e"/>
<rect x="216" y="65" width="9" height="3" fill="#31678e"/>
<rect x="225" y="65" width="9" height="3" fill="#31688e"/>
<rect x="234" y="65" width="10" height="3" fill="#31688e"/>
<rect x="244" y="65" width="18" height="3" fill="#31678e"/>
<rect x="262" y="65" width="9" height="3" fill="#32648e"/>
<rect x="271" y="65" width="10" height="3" fill="#32658e"/>
<rect x="281" y="65" width="9" height="3" fill="#31668e"/>
<rect x="290" y="65" width="9" height="3" fill="#32658e"/>
<rect x="299" y="65" width="18" height="3" fill="#31668e"/>
<rect x="317" y="65" width="10" height="3" fill="#30698e"/>
<rect x="327" y="65" width="9" height="3" fill="#2f6b8e"/>
<rect x="336" y="65" width="9" height="3" fill="#31688e"/>
<rect x="345" y="65" width="9" height="3" fill="#2f6b8e"/>
<rect x="354" y="65" width="10" height="3" fill="#31668e"/>
<rect x="364" y="65" width="9" height="3" fill="#306a8e"/>
<rect x="373" y="65" width="9" height="3" fill="#32648e"/>
<rect x="382" y="65" width="9" height="3" fill="#31688e"/>
<rect x="391" y="65" width="10" height="3" fill="#31668e"/>
<rect x="401" y="65" width="9" height="3" fill="#33628d"/>
<rect x="410" y="65" width="9" height="3" fill="#31688e"/>
<rect x="419" y="65" width="28" height="3" fill="#30698e"/>
<rect x="447" y="65" width="9" height="3" fill="#31688e"/>
<rect x="456" y="65" width="9" height="3" fill="#30698e"/>
<rect x="465" y="65" width="9" height="3" fill="#32658e"/>
<rect x="474" y="65" width="10" height="3" fill="#30698e"/>
<rect x="484" y="65" width="9" height="3" fill="#31688e"/>
<rect x="493" y="65" width="9" height="3" fill="#31678e"/>
<rect x="77" y="61" width="10" height="4" fill="#2e6e8e"/>
<rect x="87" y="61" width="9" height="4" fill="#2f6c8e"/>
<rect x="96" y="61" width="9" height="4" fill="#30698e"/>
<rect x="105" y="61" width="9" height="4" fill="#2f6c8e"/>
<rect x="114" y="61" width="10" height="4" fill="#2e6e8e"/>
<rect x="124" y="61" width="9" height="4" fill="#2e6d8e"/>
<rect x="133" y="61" width="18" height="4" fill="#2f6c8e"/>
<rect x="151" y="61" width="10" height="4" fill="#2d708e"/>
<rect x="161" y="61" width="9" height="4" fill="#2e6e8e"/>
<rect x="170" y="61" width="18" height="4" fill="#2f6c8e"/>
<rect x="188" y="61" width="9" height="4" fill="#2e6e8e"/>
<rect x="197" y="61" width="28" height="4" fill="#2e6d8e"/>
<rect x="225" y="61" width="9" height="4" fill="#2f6c8e"/>
<rect x="234" y="61" width="10" height="4" fill="#2e6d8e"/>
<rect x="244" y="61" width="9" height="4" fill="#2e6e8e"/>
<rect x="253" y="61" width="9" height="4" fill="#2f6b8e"/>
<rect x="262" y="61" width="9" height="4" fill="#31688e"/>
<rect x="271" y="61" width="28" height="4" fill="#2f6c8e"/>
<rect x="299" y="61" width="9" height="4" fill="#2e6d8e"/>
<rect x="308" y="61" width="9" height="4" fill="#2f6c8e"/>
<rect x="317" y="61" width="10" height="4" fill="#2e6e8e"/>
<rect x="327" y="61" width="9" height="4" fill="#2d708e"/>
<rect x="336" y="61" width="9" height="4" fill="#2f6c8e"/>
<rect x="345" y="61" width="9" height="4" fill="#2d708e"/>
<rect x="354" y="61" width="10" height="4" fill="#2e6d8e"/>
<rect x="364" y="61" width="9" height="4" fill="#2d708e"/>
<rect x="373" y="61" width="9" height="4" fill="#30698e"/>
<rect x="382" y="61" width="9" height="4" fill="#2e6e8e"/>
<rect x="391" y="61" width="10" height="4" fill="#2f6b8e"/>
<rect x="401" y="61" width="9" height="4" fill="#306a8e"/>
<rect x="410" y="61" width="9" height="4" fill="#2e6e8e"/>
<rect x="419" y="61" width="9" height="4" fill="#2d708e"/>
<rect x="428" y="61" width="9" height="4" fill="#2e6e8e"/>
<rect x="437" y="61" width="10" height="4" fill="#2e6e8e"/>
<rect x="447" y="61" width="9" height="4" fill="#2f6c8e"/>
<rect x="456" y="61" width="9" height="4" fill="#2e6e8e"/>
<rect x="465" y="61" width="9" height="4" fill="#2f6c8e"/>
<rect x="474" y="61" width="10" height="4" fill="#2d708e"/>
<rect x="484" y="61" width="9" height="4" fill="#2e6d8e"/>
<rect x="493" y="61" width="9" height="4" fill="#2f6c8e"/>
<rect x="77" y="58" width="10" height="3" fill="#2e6e8e"/>
<rect x="87" y="58" width="9" height="3" fill="#2f6c8e"/>
<rect x="96" y="58" width="9" height="3" fill="#30698e"/>
<rect x="105" y="58" width="9" height="3" fill="#2f6c8e"/>
<rect x="114" y="58" width="10" height="3" fill="#2e6e8e"/>
<rect x="124" y="58" width="9" height="3" fill="#2e6d8e"/>
<rect x="133" y="58" width="18" height="3" fill="#2f6c8e"/>
<rect x="151" y="58" width="10" height="3" fill="#2d708e"/>
<rect x="161" y="58" width="9" height="3" fill="#2e6e8e"/>
<rect x="170" y="58" width="18" height="3" fill="#2f6c8e"/>
<rect x="188" y="58" width="9" height="3" fill="#2e6e8e"/>
<rect x="197" y="58" width="28" height="3" fill="#2e6d8e"/>
<rect x="225" y="58" width="9" height="3" fill="#2f6c8e"/>
<rect x="234" y="58" width="10" height="3" fill="#2e6d8e"/>
<rect x="244" y="58" width="9" height="3" fill="#2e6e8e"/>
<rect x="253" y="58" width="9" height="3" fill="#2f6b8e"/>
<rect x="262" y="58" width="9" height="3" fill="#31688e"/>
<rect x="271" y="58" width="28" height="3" fill="#2f6c8e"/>
<rect x="299" y="58" width="9" height="3" fill="#2e6d8e"/>
<rect x="308" y="58" width="9" height="3" fill="#2f6c8e"/>
<rect x="317" y="58" width="10" height="3" fill="#2e6e8e"/>
<rect x="327" y="58" width="9" height="3" fill="#2d708e"/>
<rect x="336" y="58" width="9" height="3" fill="#2f6c8e"/>
<rect x="345" y="58" width="9" height="3" fill="#2d708e"/>
<rect x="354" y="58" width="10" height="3" fill="#2e6d8e"/>
<rect x="364" y="58" width="9" height="3" fill="#2d708e"/>
<rect x="373" y="58" width="9" height="3" fill="#30698e"/>
<rect x="382" y="58" width="9" height="3" fill="#2e6e8e"/>
<rect x="391" y="58" width="10" height="3" fill="#2f6b8e"/>
<rect x="401" y="58" width="9" height="3" fill="#306a8e"/>
<rect x="410" y="58" width="9" height="3" fill="#2e6e8e"/>
<rect x="419" y="58" width="9" height="3" fill="#2d708e"/>
<rect x="428" y="58" width="9" height="3" fill="#2e6e8e"/>
<rect x="437" y="58" width="10" height="3" fill="#2e6e8e"/>
<rect x="447" y="58" width="9" height="3" fill="#2f6c8e"/>
<rect x="456" y="58" width="9" height="3" fill="#2e6e8e"/>
<rect x="465" y="58" width="9" height="3" fill="#2f6c8e"/>
<rect x="474" y="58" width="10" height="3" fill="#2d708e"/>
<rect x="484" y="58" width="9" height="3" fill="#2e6d8e"/>
<rect x="493" y="58" width="9" height="3" fill="#2f6c8e"/>
<rect x="77" y="55" width="10" height="3" fill="#297a8e"/>
<rect x="87" y="55" width="9" height="3" fill="#2a778e"/>
<rect x="96" y="55" width="9" height="3" fill="#2b758e"/>
<rect x="105" y="55" width="9" height="3" fill="#2a768e"/>
<rect x="114" y="55" width="10" height="3" fill="#297a8e"/>
<rect x="124" y="55" width="9" height="3" fill="#29798e"/>
<rect x="133" y="55" width="9" height="3" fill="#297b8e"/>
<rect x="142" y="55" width="9" height="3" fill="#29798e"/>
<rect x="151" y="55" width="10" height="3" fill="#297b8e"/>
<rect x="161" y="55" width="18" height="3" fill="#29798e"/>
<rect x="179" y="55" width="9" height="3" fill="#2a768e"/>
<rect x="188" y="55" width="9" height="3" fill="#29798e"/>
<rect x="197" y="55" width="10" height="3" fill="#29798e"/>
<rect x="207" y="55" width="9" height="3" fill="#2a778e"/>
<rect x="216" y="55" width="9" height="3" fill="#297b8e"/>
<rect x="225" y="55" width="9" height="3" fill="#29798e"/>
<rect x="234" y="55" width="10" height="3" fill="#2a788e"/>
<rect x="244" y="55" width="9" height="3" fill="#287c8e"/>
<rect x="253" y="55" width="18" height="3" fill="#2b758e"/>
<rect x="271" y="55" width="10" height="3" fill="#297b8e"/>
<rect x="281" y="55" width="9" height="3" fill="#2a778e"/>
<rect x="290" y="55" width="9" height="3" fill="#2a788e"/>
<rect x="299" y="55" width="9" height="3" fill="#29798e"/>
<rect x="308" y="55" width="9" height="3" fill="#29798e"/>
<rect x="317" y="55" width="10" height="3" fill="#297a8e"/>
<rect x="327" y="55" width="9" height="3" fill="#29798e"/>
<rect x="336" y="55" width="9" height="3" fill="#2a788e"/>
<rect x="345" y="55" width="9" height="3" fill="#297a8e"/>
<rect x="354" y="55" width="19" height="3" fill="#29798e"/>
<rect x="373" y="55" width="9" height="3" fill="#2b758e"/>
<rect x="382" y="55" width="9" height="3" fill="#2a768e"/>
<rect x="391" y="55" width="10" height="3" fill="#29798e"/>
<rect x="401" y="55" width="9" height="3" fill="#2b758e"/>
<rect x="410" y="55" width="9" height="3" fill="#297a8e"/>
<rect x="419" y="55" width="9" height="3" fill="#287d8e"/>
<rect x="428" y="55" width="9" height="3" fill="#2a788e"/>
<rect x="437" y="55" width="19" height="3" fill="#29798e"/>
<rect x="456" y="55" width="9" height="3" fill="#29798e"/>
<rect x="465" y="55" width="9" height="3" fill="#2a788e"/>
<rect x="474" y="55" width="10" height="3" fill="#297a8e"/>
<rect x="484" y="55" width="18" height="3" fill="#2a788e"/>
<rect x="77" y="51" width="10" height="4" fill="#297a8e"/>
<rect x="87" y="51" width="9" height="4" fill="#2a778e"/>
<rect x="96" y="51" width="9" height="4" fill="#2b758e"/>
<rect x="105" y="51" width="9" height="4" fill="#2a768e"/>
<rect x="114" y="51" width="10" height="4" fill="#297a8e"/>
<rect x="124" y="51" width="9" height="4" fill="#29798e"/>
<rect x="133" y="51" width="9" height="4" fill="#297b8e"/>
<rect x="142" y="51" width="9" height="4" fill="#29798e"/>
<rect x="151" y="51" width="10" height="4" fill="#297b8e"/>
<rect x="161" y="51" width="18" height="4" fill="#29798e"/>
<rect x="179" y="51" width="9" height="4" fill="#2a768e"/>
<rect x="188" y="51" width="9" height="4" fill="#29798e"/>
<rect x="197" y="51" width="10" height="4" fill="#29798e"/>
<rect x="207" y="51" width="9" height="4" fill="#2a778e"/>
<rect x="216" y="51" width="9" height="4" fill="#297b8e"/>
<rect x="225" y="51" width="9" height="4" fill="#29798e"/>
<rect x="234" y="51" width="10" height="4" fill="#2a788e"/>
<rect x="244" y="51" width="9" height="4" fill="#287c8e"/>
<rect x="253" y="51" width="18" height="4" fill="#2b758e"/>
<rect x="271" y="51" width="10" height="4" fill="#297b8e"/>
<rect x="281" y="51" width="9" height="4" fill="#2a778e"/>
<rect x="290" y="51" width="9" height="4" fill="#2a788e"/>
<rect x="299" y="51" width="9" height="4" fill="#29798e"/>
<rect x="308" y="51" width="9" height="4" fill="#29798e"/>
<rect x="317" y="51" width="10" height="4" fill="#297a8e"/>
<rect x="327" y="51" width="9" height="4" fill="#29798e"/>
<rect x="336" y="51" width="9" height="4" fill="#2a788e"/>
<rect x="345" y="51" width="9" height="4" fill="#297a8e"/>
<rect x="354" y="51" width="19" height="4" fill="#29798e"/>
<rect x="373" y="51" width="9" height="4" fill="#2b758e"/>
<rect x="382" y="51" width="9" height="4" fill="#2a768e"/>
<rect x="391" y="51" width="10" height="4" fill="#29798e"/>
<rect x="401" y="51" width="9" height="4" fill="#2b758e"/>
<rect x="410" y="51" width="9" height="4" fill="#297a8e"/>
<rect x="419" y="51" width="9" height="4" fill="#287d8e"/>
<rect x="428" y="51" width="9" height="4" fill="#2a788e"/>
<rect x="437" y="51" width="19" height="4" fill="#29798e"/>
<rect x="456" y="51" width="9" height="4" fill="#29798e"/>
<rect x="465" y="51" width="9" height="4" fill="#2a788e"/>
<rect x="474" y="51" width="10" height="4" fill="#297a8e"/>
<rect x="484" y="51" width="18" height="4" fill="#2a788e"/>
<rect x="77" y="48" width="10" height="3" fill="#297a8e"/>
<rect x="87" y="48" width="9" height="3" fill="#2a778e"/>
<rect x="96" y="48" width="9" height="3" fill="#2b758e"/>
<rect x="105" y="48" width="9" height="3" fill="#2a768e"/>
<rect x="114" y="48" width="10" height="3" fill="#297a8e"/>
<rect x="124" y="48" width="9" height="3" fill="#29798e"/>
<rect x="133" y="48" width="9" height="3" fill="#297b8e"/>
<rect x="142" y="48" width="9" height="3" fill="#29798e"/>
<rect x="151" y="48" width="10" height="3" fill="#297b8e"/>
<rect x="161" y="48" width="18" height="3" fill="#29798e"/>
<rect x="179" y="48" width="9" height="3" fill="#2a768e"/>
<rect x="188" y="48" width="9" height="3" fill="#29798e"/>
<rect x="197" y="48" width="10" height="3" fill="#29798e"/>
<rect x="207" y="48" width="9" height="3" fill="#2a778e"/>
<rect x="216" y="48" width="9" height="3" fill="#297b8e"/>
<rect x="225" y="48" width="9" height="3" fill="#29798e"/>
<rect x="234" y="48" width="10" height="3" fill="#2a788e"/>
<rect x="244" y="48" width="9" height="3" fill="#287c8e"/>
<rect x="253" y="48" width="18" height="3" fill="#2b758e"/>
<rect x="271" y="48" width="10" height="3" fill="#297b8e"/>
<rect x="281" y="48" width="9" height="3" fill="#2a778e"/>
<rect x="290" y="48" width="9" height="3" fill="#2a788e"/>
<rect x="299" y="48" width="9" height="3" fill="#29798e"/>
<rect x="308" y="48" width="9" height="3" fill="#29798e"/>
<rect x="317" y="48" width="10" height="3" fill="#297a8e"/>
<rect x="327" y="48" width="9" height="3" fill="#29798e"/>
<rect x="336" y="48" width="9" height="3" fill="#2a788e"/>
<rect x="345" y="48" width="9" height="3" fill="#297a8e"/>
<rect x="354" y="48" width="19" height="3" fill="#29798e"/>
<rect x="373" y="48" width="9" height="3" fill="#2b758e"/>
<rect x="382" y="48" width="9" height="3" fill="#2a768e"/>
<rect x="391" y="48" width="10" height="3" fill="#29798e"/>
<rect x="401" y="48" width="9" height="3" fill="#2b758e"/>
<rect x="410" y="48" width="9" height="3" fill="#297a8e"/>
<rect x="419" y="48" width="9" height="3" fill="#287d8e"/>
<rect x="428" y="48" width="9" height="3" fill="#2a788e"/>
<rect x="437" y="48" width="19" height="3" fill="#29798e"/>
<rect x="456" y="48" width="9" height="3" fill="#29798e"/>
<rect x="465" y="48" width="9" height="3" fill="#2a788e"/>
<rect x="474" y="48" width="10" height="3" fill="#297a8e"/>
<rect x="484" y="48" width="18" height="3" fill="#2a788e"/>
<rect x="77" y="45" width="10" height="3" fill="#297a8e"/>
<rect x="87" y="45" width="9" height="3" fill="#2a778e"/>
<rect x="96" y="45" width="9" height="3" fill="#2b758e"/>
<rect x="105" y="45" width="9" height="3" fill="#2a768e"/>
<rect x="114" y="45" width="10" height="3" fill="#297a8e"/>
<rect x="124" y="45" width="9" height="3" fill="#29798e"/>
<rect x="133" y="45" width="9" height="3" fill="#297b8e"/>
<rect x="142" y="45" width="9" height="3" fill="#29798e"/>
<rect x="151" y="45" width="10" height="3" fill="#297b8e"/>
<rect x="161" y="45" width="18" height="3" fill="#29798e"/>
<rect x="179" y="45" width="9" height="3" fill="#2a768e"/>
<rect x="188" y="45" width="9" height="3" fill="#29798e"/>
<rect x="197" y="45" width="10" height="3" fill="#29798e"/>
<rect x="207" y="45" width="9" height="3" fill="#2a778e"/>
<rect x="216" y="45" width="9" height="3" fill="#297b8e"/>
<rect x="225" y="45" width="9" height="3" fill="#29798e"/>
<rect x="234" y="45" width="10" height="3" fill="#2a788e"/>
<rect x="244" y="45" width="9" height="3" fill="#287c8e"/>
<rect x="253" y="45" width="18" height="3" fill="#2b758e"/>
<rect x="271" y="45" width="10" height="3" fill="#297b8e"/>
<rect x="281" y="45" width="9" height="3" fill="#2a778e"/>
<rect x="290" y="45" width="9" height="3" fill="#2a788e"/>
<rect x="299" y="45" width="9" height="3" fill="#29798e"/>
<rect x="308" y="45" width="9" height="3" fill="#29798e"/>
<rect x="317" y="45" width="10" height="3" fill="#297a8e"/>
<rect x="327" y="45" width="9" height="3" fill="#29798e"/>
<rect x="336" y="45" width="9" height="3" fill="#2a788e"/>
<rect x="345" y="45" width="9" height="3" fill="#297a8e"/>
<rect x="354" y="45" width="19" height="3" fill="#29798e"/>
<rect x="373" y="45" width="9" height="3" fill="#2b758e"/>
<rect x="382" y="45" width="9" height="3" fill="#2a768e"/>
<rect x="391" y="45" width="10" height="3" fill="#29798e"/>
<rect x="401" y="45" width="9" height="3" fill="#2b758e"/>
<rect x="410" y="45" width="9" height="3" fill="#297a8e"/>
<rect x="419" y="45" width="9" height="3" fill="#287d8e"/>
<rect x="428" y="45" width="9" height="3" fill="#2a788e"/>
<rect x="437" y="45" width="19" height="3" fill="#29798e"/>
<rect x="456" y="45" width="9" height="3" fill="#29798e"/>
<rect x="465" y="45" width="9" height="3" fill="#2a788e"/>
<rect x="474" y="45" width="10" height="3" fill="#297a8e"/>
<rect x="484" y="45" width="18" height="3" fill="#2a788e"/>
<rect x="77" y="42" width="19" height="3" fill="#277f8e"/>
<rect x="96" y="42" width="9" height="3" fill="#297a8e"/>
<rect x="105" y="42" width="9" height="3" fill="#287c8e"/>
<rect x="114" y="42" width="10" height="3" fill="#26818e"/>
<rect x="124" y="42" width="18" height="3" fill="#26828e"/>
<rect x="142" y="42" width="9" height="3" fill="#27808e"/>
<rect x="151" y="42" width="10" height="3" fill="#26818e"/>
<rect x="161" y="42" width="9" height="3" fill="#27808e"/>
<rect x="170" y="42" width="9" height="3" fill="#26828e"/>
<rect x="179" y="42" width="9" height="3" fill="#287d8e"/>
<rect x="188" y="42" width="9" height="3" fill="#277f8e"/>
<rect x="197" y="42" width="10" height="3" fill="#27808e"/>
<rect x="207" y="42" width="9" height="3" fill="#297b8e"/>
<rect x="216" y="42" width="9" height="3" fill="#26828e"/>
<rect x="225" y="42" width="9" height="3" fill="#287d8e"/>
<rect x="234" y="42" width="10" height="3" fill="#277f8e"/>
<rect x="244" y="42" width="9" height="3" fill="#25838e"/>
<rect x="253" y="42" width="18" height="3" fill="#277e8e"/>
<rect x="271" y="42" width="10" height="3" fill="#26828e"/>
<rect x="281" y="42" width="9" height="3" fill="#287d8e"/>
<rect x="290" y="42" width="9" height="3" fill="#277e8e"/>
<rect x="299" y="42" width="18" height="3" fill="#27808e"/>
<rect x="317" y="42" width="10" height="3" fill="#26818e"/>
<rect x="327" y="42" width="9" height="3" fill="#27808e"/>
<rect x="336" y="42" width="18" height="3" fill="#26828e"/>
<rect x="354" y="42" width="10" height="3" fill="#27808e"/>
<rect x="364" y="42" width="9" height="3" fill="#277e8e"/>
<rect x="373" y="42" width="9" height="3" fill="#287d8e"/>
<rect x="382" y="42" width="9" height="3" fill="#297b8e"/>
<rect x="391" y="42" width="10" height="3" fill="#27808e"/>
<rect x="401" y="42" width="9" height="3" fill="#297a8e"/>
<rect x="410" y="42" width="9" height="3" fill="#27808e"/>
<rect x="419" y="42" width="9" height="3" fill="#25848e"/>
<rect x="428" y="42" width="9" height="3" fill="#277e8e"/>
<rect x="437" y="42" width="10" height="3" fill="#277f8e"/>
<rect x="447" y="42" width="9" height="3" fill="#277e8e"/>
<rect x="456" y="42" width="9" height="3" fill="#26828e"/>
<rect x="465" y="42" width="9" height="3" fill="#277e8e"/>
<rect x="474" y="42" width="10" height="3" fill="#277f8e"/>
<rect x="484" y="42" width="9" height="3" fill="#277e8e"/>
<rect x="493" y="42" width="9" height="3" fill="#277f8e"/>
<rect x="77" y="38" width="19" height="4" fill="#277f8e"/>
<rect x="96" y="38" width="9" height="4" fill="#297a8e"/>
<rect x="105" y="38" width="9" height="4" fill="#287c8e"/>
<rect x="114" y="38" width="10" height="4" fill="#26818e"/>
<rect x="124" y="38" width="18" height="4" fill="#26828e"/>
<rect x="142" y="38" width="9" height="4" fill="#27808e"/>
<rect x="151" y="38" width="10" height="4" fill="#26818e"/>
<rect x="161" y="38" width="9" height="4" fill="#27808e"/>
<rect x="170" y="38" width="9" height="4" fill="#26828e"/>
<rect x="179" y="38" width="9" height="4" fill="#287d8e"/>
<rect x="188" y="38" width="9" height="4" fill="#277f8e"/>
<rect x="197" y="38" width="10" height="4" fill="#27808e"/>
<rect x="207" y="38" width="9" height="4" fill="#297b8e"/>
<rect x="216" y="38" width="9" height="4" fill="#26828e"/>
<rect x="225" y="38" width="9" height="4" fill="#287d8e"/>
<rect x="234" y="38" width="10" height="4" fill="#277f8e"/>
<rect x="244" y="38" width="9" height="4" fill="#25838e"/>
<rect x="253" y="38" width="18" height="4" fill="#277e8e"/>
<rect x="271" y="38" width="10" height="4" fill="#26828e"/>
<rect x="281" y="38" width="9" height="4" fill="#287d8e"/>
<rect x="290" y="38" width="9" height="4" fill="#277e8e"/>
<rect x="299" y="38" width="18" height="4" fill="#27808e"/>
<rect x="317" y="38" width="10" height="4" fill="#26818e"/>
<rect x="327" y="38" width="9" height="4" fill="#27808e"/>
<rect x="336" y="38" width="18" height="4" fill="#26828e"/>
<rect x="354" y="38" width="10" height="4" fill="#27808e"/>
<rect x="364" y="38" width="9" height="4" fill="#277e8e"/>
<rect x="373" y="38" width="9" height="4" fill="#287d8e"/>
<rect x="382" y="38" width="9" height="4" fill="#297b8e"/>
<rect x="391" y="38" width="10" height="4" fill="#27808e"/>
<rect x="401" y="38" width="9" height="4" fill="#297a8e"/>
<rect x="410" y="38" width="9" height="4" fill="#27808e"/>
<rect x="419" y="38" width="9" height="4" fill="#25848e"/>
<rect x="428" y="38" width="9" height="4" fill="#277e8e"/>
<rect x="437" y="38" width="10" height="4" fill="#277f8e"/>
<rect x="447" y="38" width="9" height="4" fill="#277e8e"/>
<rect x="456" y="38" width="9" height="4" fill="#26828e"/>
<rect x="465" y="38" width="9" height="4" fill="#277e8e"/>
<rect x="474" y="38" width="10" height="4" fill="#277f8e"/>
<rect x="484" y="38" width="9" height="4" fill="#277e8e"/>
<rect x="493" y="38" width="9" height="4" fill="#277f8e"/>
<rect x="77" y="35" width="19" height="3" fill="#277f8e"/>
<rect x="96" y="35" width="9" height="3" fill="#297a8e"/>
<rect x="105" y="35" width="9" height="3" fill="#287c8e"/>
<rect x="114" y="35" width="10" height="3" fill="#26818e"/>
<rect x="124" y="35" width="18" height="3" fill="#26828e"/>
<rect x="142" y="35" width="9" height="3" fill="#27808e"/>
<rect x="151" y="35" width="10" height="3" fill="#26818e"/>
<rect x="161" y="35" width="9" height="3" fill="#27808e"/>
<rect x="170" y="35" width="9" height="3" fill="#26828e"/>
<rect x="179" y="35" width="9" height="3" fill="#287d8e"/>
<rect x="188" y="35" width="9" height="3" fill="#277f8e"/>
<rect x="197" y="35" width="10" height="3" fill="#27808e"/>
<rect x="207" y="35" width="9" height="3" fill="#297b8e"/>
<rect x="216" y="35" width="9" height="3" fill="#26828e"/>
<rect x="225" y="35" width="9" height="3" fill="#287d8e"/>
<rect x="234" y="35" width="10" height="3" fill="#277f8e"/>
<rect x="244" y="35" width="9" height="3" fill="#25838e"/>
<rect x="253" y="35" width="18" height="3" fill="#277e8e"/>
<rect x="271" y="35" width="10" height="3" fill="#26828e"/>
<rect x="281" y="35" width="9" height="3" fill="#287d8e"/>
<rect x="290" y="35" width="9" height="3" fill="#277e8e"/>
<rect x="299" y="35" width="18" height="3" fill="#27808e"/>
<rect x="317" y="35" width="10" height="3" fill="#26818e"/>
<rect x="327" y="35" width="9" height="3" fill="#27808e"/>
<rect x="336" y="35" width="18" height="3" fill="#26828e"/>
<rect x="354" y="35" width="10" height="3" fill="#27808e"/>
<rect x="364" y="35" width="9" height="3" fill="#277e8e"/>
<rect x="373" y="35" width="9" height="3" fill="#287d8e"/>
<rect x="382" y="35" width="9" height="3" fill="#297b8e"/>
<rect x="391" y="35" width="10" height="3" fill="#27808e"/>
<rect x="401" y="35" width="9" height="3" fill="#297a8e"/>
<rect x="410" y="35" width="9" height="3" fill="#27808e"/>
<rect x="419" y="35" width="9" height="3" fill="#25848e"/>
<rect x="428" y="35" width="9" height="3" fill="#277e8e"/>
<rect x="437" y="35" width="10" height="3" fill="#277f8e"/>
<rect x="447" y="35" width="9" height="3" fill="#277e8e"/>
<rect x="456" y="35" width="9" height="3" fill="#26828e"/>
<rect x="465" y="35" width="9" height="3" fill="#277e8e"/>
<rect x="474" y="35" width="10" height="3" fill="#277f8e"/>
<rect x="484" y="35" width="9" height="3" fill="#277e8e"/>
<rect x="493" y="35" width="9" height="3" fill="#277f8e"/>
<rect x="77" y="32" width="19" height="3" fill="#277f8e"/>
<rect x="96" y="32" width="9" height="3" fill="#297a8e"/>
<rect x="105" y="32" width="9" height="3" fill="#287c8e"/>
<rect x="114" y="32" width="10" height="3" fill="#26818e"/>
<rect x="124" y="32" width="18" height="3" fill="#26828e"/>
<rect x="142" y="32" width="9" height="3" fill="#27808e"/>
<rect x="151" y="32" width="10" height="3" fill="#26818e"/>
<rect x="161" y="32" width="9" height="3" fill="#27808e"/>
<rect x="170" y="32" width="9" height="3" fill="#26828e"/>
<rect x="179" y="32" width="9" height="3" fill="#287d8e"/>
<rect x="188" y="32" width="9" height="3" fill="#277f8e"/>
<rect x="197" y="32" width="10" height="3" fill="#27808e"/>
<rect x="207" y="32" width="9" height="3" fill="#297b8e"/>
<rect x="216" y="32" width="9" height="3" fill="#26828e"/>
<rect x="225" y="32" width="9" height="3" fill="#287d8e"/>
<rect x="234" y="32" width="10" height="3" fill="#277f8e"/>
<rect x="244" y="32" width="9" height="3" fill="#25838e"/>
<rect x="253" y="32" width="18" height="3" fill="#277e8e"/>
<rect x="271" y="32" width="10" height="3" fill="#26828e"/>
<rect x="281" y="32" width="9" height="3" fill="#287d8e"/>
<rect x="290" y="32" width="9" height="3" fill="#277e8e"/>
<rect x="299" y="32" width="18" height="3" fill="#27808e"/>
<rect x="317" y="32" width="10" height="3" fill="#26818e"/>
<rect x="327" y="32" width="9" height="3" fill="#27808e"/>
<rect x="336" y="32" width="18" height="3" fill="#26828e"/>
<rect x="354" y="32" width="10" height="3" fill="#27808e"/>
<rect x="364" y="32" width="9" height="3" fill="#277e8e"/>
<rect x="373" y="32" width="9" height="3" fill="#287d8e"/>
<rect x="382" y="32" width="9" height="3" fill="#297b8e"/>
<rect x="391" y="32" width="10" height="3" fill="#27808e"/>
<rect x="401" y="32" width="9" height="3" fill="#297a8e"/>
<rect x="410" y="32" width="9" height="3" fill="#27808e"/>
<rect x="419" y="32" width="9" height="3" fill="#25848e"/>
<rect x="428" y="32" width="9" height="3" fill="#277e8e"/>
<rect x="437" y="32" width="10" height="3" fill="#277f8e"/>
<rect x="447" y="32" width="9" height="3" fill="#277e8e"/>
<rect x="456" y="32" width="9" height="3" fill="#26828e"/>
<rect x="465" y="32" width="9" height="3" fill="#277e8e"/>
<rect x="474" y="32" width="10" height="3" fill="#277f8e"/>
<rect x="484" y="32" width="9" height="3" fill="#277e8e"/>
<rect x="493" y="32" width="9" height="3" fill="#277f8e"/>
<rect x="77" y="28" width="10" height="4" fill="#1f998a"/>
<rect x="87" y="28" width="9" height="4" fill="#1f948c"/>
<rect x="96" y="28" width="9" height="4" fill="#20938c"/>
<rect x="105" y="28" width="9" height="4" fill="#218f8d"/>
<rect x="114" y="28" width="10" height="4" fill="#1f948c"/>
<rect x="124" y="28" width="9" height="4" fill="#1f958b"/>
<rect x="133" y="28" width="9" height="4" fill="#20938c"/>
<rect x="142" y="28" width="9" height="4" fill="#1f958b"/>
<rect x="151" y="28" width="10" height="4" fill="#1f968b"/>
<rect x="161" y="28" width="9" height="4" fill="#20938c"/>
<rect x="170" y="28" width="18" height="4" fill="#1f948c"/>
<rect x="188" y="28" width="19" height="4" fill="#1f968b"/>
<rect x="207" y="28" width="9" height="4" fill="#20928c"/>
<rect x="216" y="28" width="9" height="4" fill="#20928c"/>
<rect x="225" y="28" width="9" height="4" fill="#1f968b"/>
<rect x="234" y="28" width="10" height="4" fill="#1f988b"/>
<rect x="244" y="28" width="18" height="4" fill="#1f948c"/>
<rect x="262" y="28" width="9" height="4" fill="#1f968b"/>
<rect x="271" y="28" width="10" height="4" fill="#1f948c"/>
<rect x="281" y="28" width="9" height="4" fill="#1f968b"/>
<rect x="290" y="28" width="9" height="4" fill="#1f988b"/>
<rect x="299" y="28" width="9" height="4" fill="#1f968b"/>
<rect x="308" y="28" width="9" height="4" fill="#1f958b"/>
<rect x="317" y="28" width="10" height="4" fill="#1f968b"/>
<rect x="327" y="28" width="9" height="4" fill="#1f948c"/>
<rect x="336" y="28" width="9" height="4" fill="#1f958b"/>
<rect x="345" y="28" width="9" height="4" fill="#20938c"/>
<rect x="354" y="28" width="37" height="4" fill="#1f948c"/>
<rect x="391" y="28" width="28" height="4" fill="#1f958b"/>
<rect x="419" y="28" width="9" height="4" fill="#1f998a"/>
<rect x="428" y="28" width="9" height="4" fill="#20928c"/>
<rect x="437" y="28" width="10" height="4" fill="#1f988b"/>
<rect x="447" y="28" width="9" height="4" fill="#1f948c"/>
<rect x="456" y="28" width="9" height="4" fill="#20928c"/>
<rect x="465" y="28" width="19" height="4" fill="#1f958b"/>
<rect x="484" y="28" width="9" height="4" fill="#1f968b"/>
<rect x="493" y="28" width="9" height="4" fill="#20928c"/>
<rect x="77" y="25" width="10" height="3" fill="#1f998a"/>
<rect x="87" y="25" width="9" height="3" fill="#1f948c"/>
<rect x="96" y="25" width="9" height="3" fill="#20938c"/>
<rect x="105" y="25" width="9" height="3" fill="#218f8d"/>
<rect x="114" y="25" width="10" height="3" fill="#1f948c"/>
<rect x="124" y="25" width="9" height="3" fill="#1f958b"/>
<rect x="133" y="25" width="9" height="3" fill="#20938c"/>
<rect x="142" y="25" width="9" height="3" fill="#1f958b"/>
<rect x="151" y="25" width="10" height="3" fill="#1f968b"/>
<rect x="161" y="25" width="9" height="3" fill="#20938c"/>
<rect x="170" y="25" width="18" height="3" fill="#1f948c"/>
<rect x="188" y="25" width="19" height="3" fill="#1f968b"/>
<rect x="207" y="25" width="9" height="3" fill="#20928c"/>
<rect x="216" y="25" width="9" height="3" fill="#20928c"/>
<rect x="225" y="25" width="9" height="3" fill="#1f968b"/>
<rect x="234" y="25" width="10" height="3" fill="#1f988b"/>
<rect x="244" y="25" width="18" height="3" fill="#1f948c"/>
<rect x="262" y="25" width="9" height="3" fill="#1f968b"/>
<rect x="271" y="25" width="10" height="3" fill="#1f948c"/>
<rect x="281" y="25" width="9" height="3" fill="#1f968b"/>
<rect x="290" y="25" width="9" height="3" fill="#1f988b"/>
<rect x="299" y="25" width="9" height="3" fill="#1f968b"/>
<rect x="308" y="25" width="9" height="3" fill="#1f958b"/>
<rect x="317" y="25" width="10" height="3" fill="#1f968b"/>
<rect x="327" y="25" width="9" height="3" fill="#1f948c"/>
<rect x="336" y="25" width="9" height="3" fill="#1f958b"/>
<rect x="345" y="25" width="9" height="3" fill="#20938c"/>
<rect x="354" y="25" width="37" height="3" fill="#1f948c"/>
<rect x="391" y="25" width="28" height="3" fill="#1f958b"/>
<rect x="419" y="25" width="9" height="3" fill="#1f998a"/>
<rect x="428" y="25" width="9" height="3" fill="#20928c"/>
<rect x="437" y="25" width="10" height="3" fill="#1f988b"/>
<rect x="447" y="25" width="9" height="3" fill="#1f948c"/>
<rect x="456" y="25" width="9" height="3" fill="#20928c"/>
<rect x="465" y="25" width="19" height="3" fill="#1f958b"/>
<rect x="484" y="25" width="9" height="3" fill="#1f968b"/>
<rect x="493" y="25" width="9" height="3" fill="#20928c"/>
<rect x="77" y="22" width="10" height="3" fill="#1f998a"/>
<rect x="87" y="22" width="9" height="3" fill="#1f948c"/>
<rect x="96" y="22" width="9" height="3" fill="#20938c"/>
<rect x="105" y="22" width="9" height="3" fill="#218f8d"/>
<rect x="114" y="22" width="10" height="3" fill="#1f948c"/>
<rect x="124" y="22" width="9" height="3" fill="#1f958b"/>
<rect x="133" y="22" width="9" height="3" fill="#20938c"/>
<rect x="142" y="22" width="9" height="3" fill="#1f958b"/>
<rect x="151" y="22" width="10" height="3" fill="#1f968b"/>
<rect x="161" y="22" width="9" height="3" fill="#20938c"/>
<rect x="170" y="22" width="18" height="3" fill="#1f948c"/>
<rect x="188" y="22" width="19" height="3" fill="#1f968b"/>
<rect x="207" y="22" width="9" height="3" fill="#20928c"/>
<rect x="216" y="22" width="9" height="3" fill="#20928c"/>
<rect x="225" y="22" width="9" height="3" fill="#1f968b"/>
<rect x="234" y="22" width="10" height="3" fill="#1f988b"/>
<rect x="244" y="22" width="18" height="3" fill="#1f948c"/>
<rect x="262" y="22" width="9" height="3" fill="#1f968b"/>
<rect x="271" y="22" width="10" height="3" fill="#1f948c"/>
<rect x="281" y="22" width="9" height="3" fill="#1f968b"/>
<rect x="290" y="22" width="9" height="3" fill="#1f988b"/>
<rect x="299" y="22" width="9" height="3" fill="#1f968b"/>
<rect x="308" y="22" width="9" height="3" fill="#1f958b"/>
<rect x="317" y="22" width="10" height="3" fill="#1f968b"/>
<rect x="327" y="22" width="9" height="3" fill="#1f948c"/>
<rect x="336" y="22" width="9" height="3" fill="#1f958b"/>
<rect x="345" y="22" width="9" height="3" fill="#20938c"/>
<rect x="354" y="22" width="37" height="3" fill="#1f948c"/>
<rect x="391" y="22" width="28" height="3" fill="#1f958b"/>
<rect x="419" y="22" width="9" height="3" fill="#1f998a"/>
<rect x="428" y="22" width="9" height="3" fill="#20928c"/>
<rect x="437" y="22" width="10" height="3" fill="#1f988b"/>
<rect x="447" y="22" width="9" height="3" fill="#1f948c"/>
<rect x="456" y="22" width="9" height="3" fill="#20928c"/>
<rect x="465" y="22" width="19" height="3" fill="#1f958b"/>
<rect x="484" y="22" width="9" height="3" fill="#1f968b"/>
<rect x="493" y="22" width="9" height="3" fill="#20928c"/>
<rect x="77" y="18" width="10" height="4" fill="#1f998a"/>
<rect x="87" y="18" width="9" height="4" fill="#1f948c"/>
<rect x="96" y="18" width="9" height="4" fill="#20938c"/>
<rect x="105" y="18" width="9" height="4" fill="#218f8d"/>
<rect x="114" y="18" width="10" height="4" fill="#1f948c"/>
<rect x="124" y="18" width="9" height="4" fill="#1f958b"/>
<rect x="133" y="18" width="9" height="4" fill="#20938c"/>
<rect x="142" y="18" width="9" height="4" fill="#1f958b"/>
<rect x="151" y="18" width="10" height="4" fill="#1f968b"/>
<rect x="161" y="18" width="9" height="4" fill="#20938c"/>
<rect x="170" y="18" width="18" height="4" fill="#1f948c"/>
<rect x="188" y="18" width="19" height="4" fill="#1f968b"/>
<rect x="207" y="18" width="9" height="4" fill="#20928c"/>
<rect x="216" y="18" width="9" height="4" fill="#20928c"/>
<rect x="225" y="18" width="9" height="4" fill="#1f968b"/>
<rect x="234" y="18" width="10" height="4" fill="#1f988b"/>
<rect x="244" y="18" width="18" height="4" fill="#1f948c"/>
<rect x="262" y="18" width="9" height="4" fill="#1f968b"/>
<rect x="271" y="18" width="10" height="4" fill="#1f948c"/>
<rect x="281" y="18" width="9" height="4" fill="#1f968b"/>
<rect x="290" y="18" width="9" height="4" fill="#1f988b"/>
<rect x="299" y="18" width="9" height="4" fill="#1f968b"/>
<rect x="308" y="18" width="9" height="4" fill="#1f958b"/>
<rect x="317" y="18" width="10" height="4" fill="#1f968b"/>
<rect x="327" y="18" width="9" height="4" fill="#1f948c"/>
<rect x="336" y="18" width="9" height="4" fill="#1f958b"/>
<rect x="345" y="18" width="9" height="4" fill="#20938c"/>
<rect x="354" y="18" width="37" height="4" fill="#1f948c"/>
<rect x="391" y="18" width="28" height="4" fill="#1f958b"/>
<rect x="419" y="18" width="9" height="4" fill="#1f998a"/>
<rect x="428" y="18" width="9" height="4" fill="#20928c"/>
<rect x="437" y="18" width="10" height="4" fill="#1f988b"/>
<rect x="447" y="18" width="9" height="4" fill="#1f948c"/>
<rect x="456" y="18" width="9" height="4" fill="#20928c"/>
<rect x="465" y="18" width="19" height="4" fill="#1f958b"/>
<rect x="484" y="18" width="9" height="4" fill="#1f968b"/>
<rect x="493" y="18" width="9" height="4" fill="#20928c"/>
<rect x="77" y="15" width="10" height="3" fill="#1f998a"/>
<rect x="87" y="15" width="9" height="3" fill="#1f948c"/>
<rect x="96" y="15" width="9" height="3" fill="#20938c"/>
<rect x="105" y="15" width="9" height="3" fill="#218f8d"/>
<rect x="114" y="15" width="10" height="3" fill="#1f948c"/>
<rect x="124" y="15" width="9" height="3" fill="#1f958b"/>
<rect x="133" y="15" width="9" height="3" fill="#20938c"/>
<rect x="142" y="15" width="9" height="3" fill="#1f958b"/>
<rect x="151" y="15" width="10" height="3" fill="#1f968b"/>
<rect x="161" y="15" width="9" height="3" fill="#20938c"/>
<rect x="170" y="15" width="18" height="3" fill="#1f948c"/>
<rect x="188" y="15" width="19" height="3" fill="#1f968b"/>
<rect x="207" y="15" width="9" height="3" fill="#20928c"/>
<rect x="216" y="15" width="9" height="3" fill="#20928c"/>
<rect x="225" y="15" width="9" height="3" fill="#1f968b"/>
<rect x="234" y="15" width="10" height="3" fill="#1f988b"/>
<rect x="244" y="15" width="18" height="3" fill="#1f948c"/>
<rect x="262" y="15" width="9" height="3" fill="#1f968b"/>
<rect x="271" y="15" width="10" height="3" fill="#1f948c"/>
<rect x="281" y="15" width="9" height="3" fill="#1f968b"/>
<rect x="290" y="15" width="9" height="3" fill="#1f988b"/>
<rect x="299" y="15" width="9" height="3" fill="#1f968b"/>
<rect x="308" y="15" width="9" height="3" fill="#1f958b"/>
<rect x="317" y="15" width="10" height="3" fill="#1f968b"/>
<rect x="327" y="15" width="9" height="3" fill="#1f948c"/>
<rect x="336" y="15" width="9" height="3" fill="#1f958b"/>
<rect x="345" y="15" width="9" height="3" fill="#20938c"/>
<rect x="354" y="15" width="37" height="3" fill="#1f948c"/>
<rect x="391" y="15" width="28" height="3" fill="#1f958b"/>
<rect x="419" y="15" width="9" height="3" fill="#1f998a"/>
<rect x="428" y="15" width="9" height="3" fill="#20928c"/>
<rect x="437" y="15" width="10" height="3" fill="#1f988b"/>
<rect x="447" y="15" width="9" height="3" fill="#1f948c"/>
<rect x="456" y="15" width="9" height="3" fill="#20928c"/>
<rect x="465" y="15" width="19" height="3" fill="#1f958b"/>
<rect x="484" y="15" width="9" height="3" fill="#1f968b"/>
<rect x="493" y="15" width="9" height="3" fill="#20928c"/>
</g>
<g id="cbar">
<rect x="529" y="388" width="19" height="2" fill="#440154"/>
<rect x="529" y="387" width="19" height="1" fill="#440256"/>
<rect x="529" y="386" width="19" height="1" fill="#450457"/>
<rect x="529" y="384" width="19" height="2" fill="#450559"/>
<rect x="529" y="383" width="19" height="1" fill="#46075a"/>
<rect x="529" y="381" width="19" height="2" fill="#46085c"/>
<rect x="529" y="380" width="19" height="1" fill="#460a5d"/>
<rect x="529" y="378" width="19" height="2" fill="#460b5e"/>
<rect x="529" y="377" width="19" height="1" fill="#470d60"/>
<rect x="529" y="375" width="19" height="2" fill="#470e61"/>
<rect x="529" y="374" width="19" height="1" fill="#471063"/>
<rect x="529" y="372" width="19" height="2" fill="#471164"/>
<rect x="529" y="371" width="19" height="1" fill="#471365"/>
<rect x="529" y="369" width="19" height="2" fill="#481467"/>
<rect x="529" y="368" width="19" height="1" fill="#481668"/>
<rect x="529" y="366" width="19" height="2" fill="#481769"/>
<rect x="529" y="365" width="19" height="1" fill="#48186a"/>
<rect x="529" y="364" width="19" height="1" fill="#481a6c"/>
<rect x="529" y="362" width="19" height="2" fill="#481b6d"/>
<rect x="529" y="361" width="19" height="1" fill="#481c6e"/>
<rect x="529" y="359" width="19" height="2" fill="#481d6f"/>
<rect x="529" y="358" width="19" height="1" fill="#481f70"/>
<rect x="529" y="356" width="19" height="2" fill="#482071"/>
<rect x="529" y="355" width="19" height="1" fill="#482173"/>
<rect x="529" y="353" width="19" height="2" fill="#482374"/>
<rect x="529" y="352" width="19" height="1" fill="#482475"/>
<rect x="529" y="350" width="19" height="2" fill="#482576"/>
<rect x="529" y="349" width="19" height="1" fill="#482677"/>
<rect x="529" y="347" width="19" height="2" fill="#482878"/>
<rect x="529" y="346" width="19" height="1" fill="#482979"/>
<rect x="529" y="344" width="19" height="2" fill="#472a7a"/>
<rect x="529" y="343" width="19" height="1" fill="#472c7a"/>
<rect x="529" y="342" width="19" height="1" fill="#472d7b"/>
<rect x="529" y="340" width="19" height="2" fill="#472e7c"/>
<rect x="529" y="339" width="19" height="1" fill="#472f7d"/>
<rect x="529" y="337" width="19" height="2" fill="#46307e"/>
<rect x="529" y="336" width="19" height="1" fill="#46327e"/>
<rect x="529" y="334" width="19" height="2" fill="#46337f"/>
<rect x="529" y="333" width="19" height="1" fill="#463480"/>
<rect x="529" y="331" width="19" height="2" fill="#453581"/>
<rect x="529" y="330" width="19" height="1" fill="#453781"/>
<rect x="529" y="328" width="19" height="2" fill="#453882"/>
<rect x="529" y="327" width="19" height="1" fill="#443983"/>
<rect x="529" y="325" width="19" height="2" fill="#443a83"/>
<rect x="529" y="324" width="19" height="1" fill="#443b84"/>
<rect x="529" y="323" width="19" height="1" fill="#433d84"/>
<rect x="529" y="321" width="19" height="2" fill="#433e85"/>
<rect x="529" y="320" width="19" height="1" fill="#423f85"/>
<rect x="529" y="318" width="19" height="2" fill="#424086"/>
<rect x="529" y="317" width="19" height="1" fill="#424186"/>
<rect x="529" y="315" width="19" height="2" fill="#414287"/>
<rect x="529" y="314" width="19" height="1" fill="#414487"/>
<rect x="529" y="312" width="19" height="2" fill="#404588"/>
<rect x="529" y="311" width="19" height="1" fill="#404688"/>
<rect x="529" y="309" width="19" height="2" fill="#3f4788"/>
<rect x="529" y="308" width="19" height="1" fill="#3f4889"/>
<rect x="529" y="306" width="19" height="2" fill="#3e4989"/>
<rect x="529" y="305" width="19" height="1" fill="#3e4a89"/>
<rect x="529" y="303" width="19" height="2" fill="#3e4c8a"/>
<rect x="529" y="302" width="19" height="1" fill="#3d4d8a"/>
<rect x="529" y="301" width="19" height="1" fill="#3d4e8a"/>
<rect x="529" y="299" width="19" height="2" fill="#3c4f8a"/>
<rect x="529" y="298" width="19" height="1" fill="#3c508b"/>
<rect x="529" y="296" width="19" height="2" fill="#3b518b"/>
<rect x="529" y="295" width="19" height="1" fill="#3b528b"/>
<rect x="529" y="293" width="19" height="2" fill="#3a538b"/>
<rect x="529" y="292" width="19" height="1" fill="#3a548c"/>
<rect x="529" y="290" width="19" height="2" fill="#39558c"/>
<rect x="529" y="289" width="19" height="1" fill="#39568c"/>
<rect x="529" y="287" width="19" height="2" fill="#38588c"/>
<rect x="529" y="286" width="19" height="1" fill="#38598c"/>
<rect x="529" y="284" width="19" height="2" fill="#375a8c"/>
<rect x="529" y="283" width="19" height="1" fill="#375b8d"/>
<rect x="529" y="282" width="19" height="1" fill="#365c8d"/>
<rect x="529" y="280" width="19" height="2" fill="#365d8d"/>
<rect x="529" y="279" width="19" height="1" fill="#355e8d"/>
<rect x="529" y="277" width="19" height="2" fill="#355f8d"/>
<rect x="529" y="276" width="19" height="1" fill="#34608d"/>
<rect x="529" y="274" width="19" height="2" fill="#34618d"/>
<rect x="529" y="273" width="19" height="1" fill="#33628d"/>
<rect x="529" y="271" width="19" height="2" fill="#33638d"/>
<rect x="529" y="270" width="19" height="1" fill="#32648e"/>
<rect x="529" y="268" width="19" height="2" fill="#32658e"/>
<rect x="529" y="267" width="19" height="1" fill="#31668e"/>
<rect x="529" y="265" width="19" height="2" fill="#31678e"/>
<rect x="529" y="264" width="19" height="1" fill="#31688e"/>
<rect x="529" y="262" width="19" height="2" fill="#30698e"/>
<rect x="529" y="261" width="19" height="1" fill="#306a8e"/>
<rect x="529" y="260" width="19" height="1" fill="#2f6b8e"/>
<rect x="529" y="258" width="19" height="2" fill="#2f6c8e"/>
<rect x="529" y="257" width="19" height="1" fill="#2e6d8e"/>
<rect x="529" y="255" width="19" height="2" fill="#2e6e8e"/>
<rect x="529" y="254" width="19" height="1" fill="#2e6f8e"/>
<rect x="529" y="252" width="19" height="2" fill="#2d708e"/>
<rect x="529" y="251" width="19" height="1" fill="#2d718e"/>
<rect x="529" y="249" width="19" height="2" fill="#2c718e"/>
<rect x="529" y="248" width="19" height="1" fill="#2c728e"/>
<rect x="529" y="246" width="19" height="2" fill="#2c738e"/>
<rect x="529" y="245" width="19" height="1" fill="#2b748e"/>
<rect x="529" y="243" width="19" height="2" fill="#2b758e"/>
<rect x="529" y="242" width="19" height="1" fill="#2a768e"/>
<rect x="529" y="241" width="19" height="1" fill="#2a778e"/>
<rect x="529" y="239" width="19" height="2" fill="#2a788e"/>
<rect x="529" y="238" width="19" height="1" fill="#29798e"/>
<rect x="529" y="236" width="19" height="2" fill="#297a8e"/>
<rect x="529" y="235" width="19" height="1" fill="#297b8e"/>
<rect x="529" y="233" width="19" height="2" fill="#287c8e"/>
<rect x="529" y="232" width="19" height="1" fill="#287d8e"/>
<rect x="529" y="230" width="19" height="2" fill="#277e8e"/>
<rect x="529" y="229" width="19" height="1" fill="#277f8e"/>
<rect x="529" y="227" width="19" height="2" fill="#27808e"/>
<rect x="529" y="226" width="19" height="1" fill="#26818e"/>
<rect x="529" y="224" width="19" height="2" fill="#26828e"/>
<rect x="529" y="223" width="19" height="1" fill="#26828e"/>
<rect x="529" y="221" width="19" height="2" fill="#25838e"/>
<rect x="529" y="220" width="19" height="1" fill="#25848e"/>
<rect x="529" y="219" width="19" height="1" fill="#25858e"/>
<rect x="529" y="217" width="19" height="2" fill="#24868e"/>
<rect x="529" y="216" width="19" height="1" fill="#24878e"/>
<rect x="529" y="214" width="19" height="2" fill="#23888e"/>
<rect x="529" y="213" width="19" height="1" fill="#23898e"/>
<rect x="529" y="211" width="19" height="2" fill="#238a8d"/>
<rect x="529" y="210" width="19" height="1" fill="#228b8d"/>
<rect x="529" y="208" width="19" height="2" fill="#228c8d"/>
<rect x="529" y="207" width="19" height="1" fill="#228d8d"/>
<rect x="529" y="205" width="19" height="2" fill="#218e8d"/>
<rect x="529" y="204" width="19" height="1" fill="#218f8d"/>
<rect x="529" y="202" width="19" height="2" fill="#21908d"/>
<rect x="529" y="201" width="19" height="1" fill="#21918c"/>
<rect x="529" y="200" width="19" height="1" fill="#20928c"/>
<rect x="529" y="198" width="19" height="2" fill="#20928c"/>
<rect x="529" y="197" width="19" height="1" fill="#20938c"/>
<rect x="529" y="195" width="19" height="2" fill="#1f948c"/>
<rect x="529" y="194" width="19" height="1" fill="#1f958b"/>
<rect x="529" y="192" width="19" height="2" fill="#1f968b"/>
<rect x="529" y="191" width="19" height="1" fill="#1f978b"/>
<rect x="529" y="189" width="19" height="2" fill="#1f988b"/>
<rect x="529" y="188" width="19" height="1" fill="#1f998a"/>
<rect x="529" y="186" width="19" height="2" fill="#1f9a8a"/>
<rect x="529" y="185" width="19" height="1" fill="#1e9b8a"/>
<rect x="529" y="183" width="19" height="2" fill="#1e9c89"/>
<rect x="529" y="182" width="19" height="1" fill="#1e9d89"/>
<rect x="529" y="180" width="19" height="2" fill="#1f9e89"/>
<rect x="529" y="179" width="19" height="1" fill="#1f9f88"/>
<rect x="529" y="178" width="19" height="1" fill="#1fa088"/>
<rect x="529" y="176" width="19" height="2" fill="#1fa188"/>
<rect x="529" y="175" width="19" height="1" fill="#1fa187"/>
<rect x="529" y="173" width="19" height="2" fill="#1fa287"/>
<rect x="529" y="172" width="19" height="1" fill="#20a386"/>
<rect x="529" y="170" width="19" height="2" fill="#20a486"/>
<rect x="529" y="169" width="19" height="1" fill="#21a585"/>
<rect x="529" y="167" width="19" height="2" fill="#21a685"/>
<rect x="529" y="166" width="19" height="1" fill="#22a785"/>
<rect x="529" y="164" width="19" height="2" fill="#22a884"/>
<rect x="529" y="163" width="19" height="1" fill="#23a983"/>
<rect x="529" y="161" width="19" height="2" fill="#24aa83"/>
<rect x="529" y="160" width="19" height="1" fill="#25ab82"/>
<rect x="529" y="159" width="19" height="1" fill="#25ac82"/>
<rect x="529" y="157" width="19" height="2" fill="#26ad81"/>
<rect x="529" y="156" width="19" height="1" fill="#27ad81"/>
<rect x="529" y="154" width="19" height="2" fill="#28ae80"/>
<rect x="529" y="153" width="19" height="1" fill="#29af7f"/>
<rect x="529" y="151" width="19" height="2" fill="#2ab07f"/>
<rect x="529" y="150" width="19" height="1" fill="#2cb17e"/>
<rect x="529" y="148" width="19" height="2" fill="#2db27d"/>
<rect x="529" y="147" width="19" height="1" fill="#2eb37c"/>
<rect x="529" y="145" width="19" height="2" fill="#2fb47c"/>
<rect x="529" y="144" width="19" height="1" fill="#31b57b"/>
<rect x="529" y="142" width="19" height="2" fill="#32b67a"/>
<rect x="529" y="141" width="19" height="1" fill="#34b679"/>
<rect x="529" y="139" width="19" height="2" fill="#35b779"/>
<rect x="529" y="138" width="19" height="1" fill="#37b878"/>
<rect x="529" y="137" width="19" height="1" fill="#38b977"/>
<rect x="529" y="135" width="19" height="2" fill="#3aba76"/>
<rect x="529" y="134" width="19" height="1" fill="#3bbb75"/>
<rect x="529" y="132" width="19" height="2" fill="#3dbc74"/>
<rect x="529" y="131" width="19" height="1" fill="#3fbc73"/>
<rect x="529" y="129" width="19" height="2" fill="#40bd72"/>
<rect x="529" y="128" width="19" height="1" fill="#42be71"/>
<rect x="529" y="126" width="19" height="2" fill="#44bf70"/>
<rect x="529" y="125" width="19" height="1" fill="#46c06f"/>
<rect x="529" y="123" width="19" height="2" fill="#48c16e"/>
<rect x="529" y="122" width="19" height="1" fill="#4ac16d"/>
<rect x="529" y="120" width="19" height="2" fill="#4cc26c"/>
<rect x="529" y="119" width="19" height="1" fill="#4ec36b"/>
<rect x="529" y="118" width="19" height="1" fill="#50c46a"/>
<rect x="529" y="116" width="19" height="2" fill="#52c569"/>
<rect x="529" y="115" width="19" height="1" fill="#54c568"/>
<rect x="529" y="113" width="19" height="2" fill="#56c667"/>
<rect x="529" y="112" width="19" height="1" fill="#58c765"/>
<rect x="529" y="110" width="19" height="2" fill="#5ac864"/>
<rect x="529" y="109" width="19" height="1" fill="#5cc863"/>
<rect x="529" y="107" width="19" height="2" fill="#5ec962"/>
<rect x="529" y="106" width="19" height="1" fill="#60ca60"/>
<rect x="529" y="104" width="19" height="2" fill="#63cb5f"/>
<rect x="529" y="103" width="19" height="1" fill="#65cb5e"/>
<rect x="529" y="101" width="19" height="2" fill="#67cc5c"/>
<rect x="529" y="100" width="19" height="1" fill="#69cd5b"/>
<rect x="529" y="98" width="19" height="2" fill="#6ccd5a"/>
<rect x="529" y="97" width="19" height="1" fill="#6ece58"/>
<rect x="529" y="96" width="19" height="1" fill="#70cf57"/>
<rect x="529" y="94" width="19" height="2" fill="#73d056"/>
<rect x="529" y="93" width="19" height="1" fill="#75d054"/>
<rect x="529" y="91" width="19" height="2" fill="#77d153"/>
<rect x="529" y="90" width="19" height="1" fill="#7ad151"/>
<rect x="529" y="88" width="19" height="2" fill="#7cd250"/>
<rect x="529" y="87" width="19" height="1" fill="#7fd34e"/>
<rect x="529" y="85" width="19" height="2" fill="#81d34d"/>
<rect x="529" y="84" width="19" height="1" fill="#84d44b"/>
<rect x="529" y="82" width="19" height="2" fill="#86d549"/>
<rect x="529" y="81" width="19" height="1" fill="#89d548"/>
<rect x="529" y="79" width="19" height="2" fill="#8bd646"/>
<rect x="529" y="78" width="19" height="1" fill="#8ed645"/>
<rect x="529" y="77" width="19" height="1" fill="#90d743"/>
<rect x="529" y="75" width="19" height="2" fill="#93d741"/>
<rect x="529" y="74" width="19" height="1" fill="#95d840"/>
<rect x="529" y="72" width="19" height="2" fill="#98d83e"/>
<rect x="529" y="71" width="19" height="1" fill="#9bd93c"/>
<rect x="529" y="69" width="19" height="2" fill="#9dd93b"/>
<rect x="529" y="68" width="19" height="1" fill="#a0da39"/>
<rect x="529" y="66" width="19" height="2" fill="#a2da37"/>
<rect x="529" y="65" width="19" height="1" fill="#a5db36"/>
<rect x="529" y="63" width="19" height="2" fill="#a8db34"/>
<rect x="529" y="62" width="19" height="1" fill="#aadc32"/>
<rect x="529" y="60" width="19" height="2" fill="#addc30"/>
<rect x="529" y="59" width="19" height="1" fill="#b0dd2f"/>
<rect x="529" y="57" width="19" height="2" fill="#b2dd2d"/>
<rect x="529" y="56" width="19" height="1" fill="#b5de2b"/>
<rect x="529" y="55" width="19" height="1" fill="#b8de29"/>
<rect x="529" y="53" width="19" height="2" fill="#bade28"/>
<rect x="529" y="52" width="19" height="1" fill="#bddf26"/>
<rect x="529" y="50" width="19" height="2" fill="#c0df25"/>
<rect x="529" y="49" width="19" height="1" fill="#c2df23"/>
<rect x="529" y="47" width="19" height="2" fill="#c5e021"/>
<rect x="529" y="46" width="19" height="1" fill="#c8e020"/>
<rect x="529" y="44" width="19" height="2" fill="#cae11f"/>
<rect x="529" y="43" width="19" height="1" fill="#cde11d"/>
<rect x="529" y="41" width="19" height="2" fill="#d0e11c"/>
<rect x="529" y="40" width="19" height="1" fill="#d2e21b"/>
<rect x="529" y="38" width="19" height="2" fill="#d5e21a"/>
<rect x="529" y="37" width="19" height="1" fill="#d8e219"/>
<rect x="529" y="36" width="19" height="1" fill="#dae319"/>
<rect x="529" y="34" width="19" height="2" fill="#dde318"/>
<rect x="529" y="33" width="19" height="1" fill="#dfe318"/>
<rect x="529" y="31" width="19" height="2" fill="#e2e418"/>
<rect x="529" y="30" width="19" height="1" fill="#e5e419"/>
<rect x="529" y="28" width="19" height="2" fill="#e7e419"/>
<rect x="529" y="27" width="19" height="1" fill="#eae51a"/>
<rect x="529" y="25" width="19" height="2" fill="#ece51b"/>
<rect x="529" y="24" width="19" height="1" fill="#efe51c"/>
<rect x="529" y="22" width="19" height="2" fill="#f1e51d"/>
<rect x="529" y="21" width="19" height="1" fill="#f4e61e"/>
<rect x="529" y="19" width="19" height="2" fill="#f6e620"/>
<rect x="529" y="18" width="19" height="1" fill="#f8e621"/>
<rect x="529" y="16" width="19" height="2" fill="#fbe723"/>
<rect x="529" y="15" width="19" height="1" fill="#fde725"/>
</g>
<g id="grid">
<rect x="187" y="16.00" width="3" height="374.00" fill="#b0b0b0" fill-opacity="0.055"/>
<rect x="188" y="16.00" width="1" height="374.00" fill="#b0b0b0"/>
<rect x="298" y="16.00" width="3" height="374.00" fill="#b0b0b0" fill-opacity="0.055"/>
<rect x="299" y="16.00" width="1" height="374.00" fill="#b0b0b0"/>
<rect x="409" y="16.00" width="3" height="374.00" fill="#b0b0b0" fill-opacity="0.055"/>
<rect x="410" y="16.00" width="1" height="374.00" fill="#b0b0b0"/>
<rect x="78.00" y="361" width="424.00" height="3" fill="#b0b0b0" fill-opacity="0.055"/>
<rect x="78.00" y="362" width="424.00" height="1" fill="#b0b0b0"/>
<rect x="78.00" y="273" width="424.00" height="3" fill="#b0b0b0" fill-opacity="0.055"/>
<rect x="78.00" y="274" width="424.00" height="1" fill="#b0b0b0"/>
<rect x="78.00" y="184" width="424.00" height="3" fill="#b0b0b0" fill-opacity="0.055"/>
<rect x="78.00" y="185" width="424.00" height="1" fill="#b0b0b0"/>
<rect x="78.00" y="96" width="424.00" height="3" fill="#b0b0b0" fill-opacity="0.055"/>
<rect x="78.00" y="97" width="424.00" height="1" fill="#b0b0b0"/>
</g>
<g id="ticks">
<rect x="187" y="391.00" width="3" height="4.00" fill="#000" fill-opacity="0.055"/>
<rect x="188" y="391.00" width="1" height="4.00" fill="#000"/>
<rect x="188" y="395" width="1" height="1" fill="#000" fill-opacity="0.5"/>
<rect x="298" y="391.00" width="3" height="4.00" fill="#000" fill-opacity="0.055"/>
<rect x="299" y="391.00" width="1" height="4.00" fill="#000"/>
<rect x="299" y="395" width="1" height="1" fill="#000" fill-opacity="0.5"/>
<rect x="409" y="391.00" width="3" height="4.00" fill="#000" fill-opacity="0.055"/>
<rect x="410" y="391.00" width="1" height="4.00" fill="#000"/>
<rect x="410" y="395" width="1" height="1" fill="#000" fill-opacity="0.5"/>
<rect x="73.00" y="361" width="4.00" height="3" fill="#000" fill-opacity="0.055"/>
<rect x="73.00" y="362" width="4.00" height="1" fill="#000"/>
<rect x="72" y="362" width="1" height="1" fill="#000" fill-opacity="0.5"/>
<rect x="73.00" y="273" width="4.00" height="3" fill="#000" fill-opacity="0.055"/>
<rect x="73.00" y="274" width="4.00" height="1" fill="#000"/>
<rect x="72" y="274" width="1" height="1" fill="#000" fill-opacity="0.5"/>
<rect x="73.00" y="184" width="4.00" height="3" fill="#000" fill-opacity="0.055"/>
<rect x="73.00" y="185" width="4.00" height="1" fill="#000"/>
<rect x="72" y="185" width="1" height="1" fill="#000" fill-opacity="0.5"/>
<rect x="73.00" y="96" width="4.00" height="3" fill="#000" fill-opacity="0.055"/>
<rect x="73.00" y="97" width="4.00" height="1" fill="#000"/>
<rect x="72" y="97" width="1" height="1" fill="#000" fill-opacity="0.5"/>
<rect x="548.00" y="375" width="4.00" height="3" fill="#000" fill-opacity="0.055"/>
<rect x="548.00" y="376" width="4.00" height="1" fill="#000"/>
<rect x="552" y="376" width="1" height="1" fill="#000" fill-opacity="0.5"/>
<rect x="548.00" y="325" width="4.00" height="3" fill="#000" fill-opacity="0.055"/>
<rect x="548.00" y="326" width="4.00" height="1" fill="#000"/>
<rect x="552" y="326" width="1" height="1" fill="#000" fill-opacity="0.5"/>
<rect x="548.00" y="274" width="4.00" height="3" fill="#000" fill-opacity="0.055"/>
<rect x="548.00" y="275" width="4.00" height="1" fill="#000"/>
<rect x="552" y="275" width="1" height="1" fill="#000" fill-opacity="0.5"/>
<rect x="548.00" y="224" width="4.00" height="3" fill="#000" fill-opacity="0.055"/>
<rect x="548.00" y="225" width="4.00" height="1" fill="#000"/>
<rect x="552" y="225" width="1" height="1" fill="#000" fill-opacity="0.5"/>
<rect x="548.00" y="174" width="4.00" height="3" fill="#000" fill-opacity="0.055"/>
<rect x="548.00" y="175" width="4.00" height="1" fill="#000"/>
<rect x="552" y="175" width="1" height="1" fill="#000" fill-opacity="0.5"/>
<rect x="548.00" y="123" width="4.00" height="3" fill="#000" fill-opacity="0.055"/>
<rect x="548.00" y="124" width="4.00" height="1" fill="#000"/>
<rect x="552" y="124" width="1" height="1" fill="#000" fill-opacity="0.5"/>
<rect x="548.00" y="73" width="4.00" height="3" fill="#000" fill-opacity="0.055"/>
<rect x="548.00" y="74" width="4.00" height="1" fill="#000"/>
<rect x="552" y="74" width="1" height="1" fill="#000" fill-opacity="0.5"/>
<rect x="548.00" y="23" width="4.00" height="3" fill="#000" fill-opacity="0.055"/>
<rect x="548.00" y="24" width="4.00" height="1" fill="#000"/>
<rect x="552" y="24" width="1" height="1" fill="#000" fill-opacity="0.5"/>
<rect x="75" y="388" width="2" height="1" fill="#000" fill-opacity="0.85"/>
<rect x="74" y="388" width="1" height="1" fill="#000" fill-opacity="0.42"/>
<rect x="75" y="381" width="2" height="1" fill="#000" fill-opacity="0.85"/>
<rect x="74" y="381" width="1" height="1" fill="#000" fill-opacity="0.42"/>
<rect x="75" y="375" width="2" height="1" fill="#000" fill-opacity="0.85"/>
<rect x="74" y="375" width="1" height="1" fill="#000" fill-opacity="0.42"/>
<rect x="75" y="370" width="2" height="1" fill="#000" fill-opacity="0.85"/>
<rect x="74" y="370" width="1" height="1" fill="#000" fill-opacity="0.42"/>
<rect x="75" y="366" width="2" height="1" fill="#000" fill-opacity="0.85"/>
<rect x="74" y="366" width="1" height="1" fill="#000" fill-opacity="0.42"/>
<rect x="75" y="335" width="2" height="1" fill="#000" fill-opacity="0.85"/>
<rect x="74" y="335" width="1" height="1" fill="#000" fill-opacity="0.42"/>
<rect x="75" y="320" width="2" height="1" fill="#000" fill-opacity="0.85"/>
<rect x="74" y="320" width="1" height="1" fill="#000" fill-opacity="0.42"/>
<rect x="75" y="309" width="2" height="1" fill="#000" fill-opacity="0.85"/>
<rect x="74" y="309" width="1" height="1" fill="#000" fill-opacity="0.42"/>
<rect x="75" y="300" width="2" height="1" fill="#000" fill-opacity="0.85"/>
<rect x="74" y="300" width="1" height="1" fill="#000" fill-opacity="0.42"/>
<rect x="75" y="293" width="2" height="1" fill="#000" fill-opacity="0.85"/>
<rect x="74" y="293" width="1" height="1" fill="#000" fill-opacity="0.42"/>
<rect x="75" y="287" width="2" height="1" fill="#000" fill-opacity="0.85"/>
<rect x="74" y="287" width="1" height="1" fill="#000" fill-opacity="0.42"/>
<rect x="75" y="282" width="2" height="1" fill="#000" fill-opacity="0.85"/>
<rect x="74" y="282" width="1" height="1" fill="#000" fill-opacity="0.42"/>
<rect x="75" y="278" width="2" height="1" fill="#000" fill-opacity="0.85"/>
<rect x="74" y="278" width="1" height="1" fill="#000" fill-opacity="0.42"/>
<rect x="75" y="247" width="2" height="1" fill="#000" fill-opacity="0.85"/>
<rect x="74" y="247" width="1" height="1" fill="#000" fill-opacity="0.42"/>
<rect x="75" y="231" width="2" height="1" fill="#000" fill-opacity="0.85"/>
<rect x="74" y="231" width="1" height="1" fill="#000" fill-opacity="0.42"/>
<rect x="75" y="220" width="2" height="1" fill="#000" fill-opacity="0.85"/>
<rect x="74" y="220" width="1" height="1" fill="#000" fill-opacity="0.42"/>
<rect x="75" y="212" width="2" height="1" fill="#000" fill-opacity="0.85"/>
<rect x="74" y="212" width="1" height="1" fill="#000" fill-opacity="0.42"/>
<rect x="75" y="205" width="2" height="1" fill="#000" fill-opacity="0.85"/>
<rect x="74" y="205" width="1" height="1" fill="#000" fill-opacity="0.42"/>
<rect x="75" y="199" width="2" height="1" fill="#000" fill-opacity="0.85"/>
<rect x="74" y="199" width="1" height="1" fill="#000" fill-opacity="0.42"/>
<rect x="75" y="194" width="2" height="1" fill="#000" fill-opacity="0.85"/>
<rect x="74" y="194" width="1" height="1" fill="#000" fill-opacity="0.42"/>
<rect x="75" y="189" width="2" height="1" fill="#000" fill-opacity="0.85"/>
<rect x="74" y="189" width="1" height="1" fill="#000" fill-opacity="0.42"/>
<rect x="75" y="159" width="2" height="1" fill="#000" fill-opacity="0.85"/>
<rect x="74" y="159" width="1" height="1" fill="#000" fill-opacity="0.42"/>
<rect x="75" y="143" width="2" height="1" fill="#000" fill-opacity="0.85"/>
<rect x="74" y="143" width="1" height="1" fill="#000" fill-opacity="0.42"/>
<rect x="75" y="132" width="2" height="1" fill="#000" fill-opacity="0.85"/>
<rect x="74" y="132" width="1" height="1" fill="#000" fill-opacity="0.42"/>
<rect x="75" y="124" width="2" height="1" fill="#000" fill-opacity="0.85"/>
<rect x="74" y="124" width="1" height="1" fill="#000" fill-opacity="0.42"/>
<rect x="75" y="117" width="2" height="1" fill="#000" fill-opacity="0.85"/>
<rect x="74" y="117" width="1" height="1" fill="#000" fill-opacity="0.42"/>
<rect x="75" y="111" width="2" height="1" fill="#000" fill-opacity="0.85"/>
<rect x="74" y="111" width="1" height="1" fill="#000" fill-opacity="0.42"/>
<rect x="75" y="106" width="2" height="1" fill="#000" fill-opacity="0.85"/>
<rect x="74" y="106" width="1" height="1" fill="#000" fill-opacity="0.42"/>
<rect x="75" y="101" width="2" height="1" fill="#000" fill-opacity="0.85"/>
<rect x="74" y="101" width="1" height="1" fill="#000" fill-opacity="0.42"/>
<rect x="75" y="71" width="2" height="1" fill="#000" fill-opacity="0.85"/>
<rect x="74" y="71" width="1" height="1" fill="#000" fill-opacity="0.42"/>
<rect x="75" y="55" width="2" height="1" fill="#000" fill-opacity="0.85"/>
<rect x="74" y="55" width="1" height="1" fill="#000" fill-opacity="0.42"/>
<rect x="75" y="44" width="2" height="1" fill="#000" fill-opacity="0.85"/>
<rect x="74" y="44" width="1" height="1" fill="#000" fill-opacity="0.42"/>
<rect x="75" y="36" width="2" height="1" fill="#000" fill-opacity="0.85"/>
<rect x="74" y="36" width="1" height="1" fill="#000" fill-opacity="0.42"/>
<rect x="75" y="29" width="2" height="1" fill="#000" fill-opacity="0.85"/>
<rect x="74" y="29" width="1" height="1" fill="#000" fill-opacity="0.42"/>
<rect x="75" y="23" width="2" height="1" fill="#000" fill-opacity="0.85"/>
<rect x="74" y="23" width="1" height="1" fill="#000" fill-opacity="0.42"/>
<rect x="75" y="18" width="2" height="1" fill="#000" fill-opacity="0.85"/>
<rect x="74" y="18" width="1" height="1" fill="#000" fill-opacity="0.42"/>
</g>
<g id="spines">
<rect x="77.00" y="14" width="426.00" height="3" fill="#000" fill-opacity="0.055"/>
<rect x="77.00" y="15" width="426.00" height="1" fill="#000"/>
<rect x="77.00" y="389" width="426.00" height="3" fill="#000" fill-opacity="0.055"/>
<rect x="77.00" y="390" width="426.00" height="1" fill="#000"/>
<rect x="76" y="15.00" width="3" height="376.00" fill="#000" fill-opacity="0.055"/>
<rect x="77" y="15.00" width="1" height="376.00" fill="#000"/>
<rect x="501" y="15.00" width="3" height="376.00" fill="#000" fill-opacity="0.055"/>
<rect x="502" y="15.00" width="1" height="376.00" fill="#000"/>
<rect x="529.00" y="14" width="19.00" height="3" fill="#000" fill-opacity="0.055"/>
<rect x="529.00" y="15" width="19.00" height="1" fill="#000"/>
<rect x="529.00" y="389" width="19.00" height="3" fill="#000" fill-opacity="0.055"/>
<rect x="529.00" y="390" width="19.00" height="1" fill="#000"/>
<rect x="528" y="15.00" width="3" height="376.00" fill="#000" fill-opacity="0.055"/>
<rect x="529" y="15.00" width="1" height="376.00" fill="#000"/>
<rect x="546" y="15.00" width="3" height="376.00" fill="#000" fill-opacity="0.055"/>
<rect x="547" y="15.00" width="1" height="376.00" fill="#000"/>
</g>
</g>
<g id="labels">
<text transform="translate(92.90 462.45) rotate(-30)" font-size="11.57" letter-spacing="0.000" stroke="#000" stroke-width="0.1">2026-01-05T06:00</text>
<text transform="translate(268.01 425.70) rotate(-30)" font-size="11.57" letter-spacing="0.000" stroke="#000" stroke-width="0.1">12:00</text>
<text transform="translate(378.87 425.70) rotate(-30)" font-size="11.57" letter-spacing="0.000" stroke="#000" stroke-width="0.1">18:00</text>
<text font-size="13.89"><tspan x="43.80" y="104.00">10</tspan><tspan x="61.00" y="99.00" font-size="9.72">2</tspan></text>
<text font-size="13.89"><tspan x="43.80" y="192.00">10</tspan><tspan x="61.00" y="187.00" font-size="9.72">1</tspan></text>
<text font-size="13.89"><tspan x="42.60" y="280.00">10</tspan><tspan x="60.20" y="275.00" font-size="9.72">0</tspan></text>
<text font-size="13.89"><tspan x="35.55" y="368.00">10</tspan><tspan x="52.75" y="363.00" font-size="9.72">−1</tspan></text>
<text transform="translate(24.55 202.40) rotate(-90)" font-size="13.89" text-anchor="middle" letter-spacing="0.140" stroke="#000" stroke-width="0.05">Period [s]</text>
<text x="557.06" y="381.80" font-size="13.89">−100</text>
<text x="557.06" y="330.80" font-size="13.89">−80</text>
<text x="557.06" y="280.80" font-size="13.89">−60</text>
<text x="557.06" y="230.80" font-size="13.89">−40</text>
<text x="557.06" y="179.80" font-size="13.89">−20</text>
<text x="557.96" y="129.80" font-size="13.89">0</text>
<text x="557.16" y="79.80" font-size="13.89">20</text>
<text x="557.56" y="28.80" font-size="13.89">40</text>
<g transform="translate(614.04 294.99) rotate(-90)"><text font-size="13.89" stroke="#000" stroke-width="0.05">
<tspan x="0.00" y="0.00">Amplitude [</tspan>
<tspan x="81.81" y="0.00" font-style="oblique">m</tspan>
<tspan x="95.98" y="-5.30" font-size="9.72">2</tspan>
<tspan x="102.55" y="0.00">/</tspan>
<tspan x="107.23" y="0.00" font-style="oblique">s</tspan>
<tspan x="115.11" y="-5.30" font-size="9.72">4</tspan>
<tspan x="121.67" y="0.00">/</tspan>
<tspan x="126.18" y="0.00" font-style="oblique">Hz</tspan>
<tspan x="143.91" y="0.00">]</tspan>
<tspan x="152.95" y="0.00">[dB]</tspan>
</text></g>
</g>
</svg></body></html>
